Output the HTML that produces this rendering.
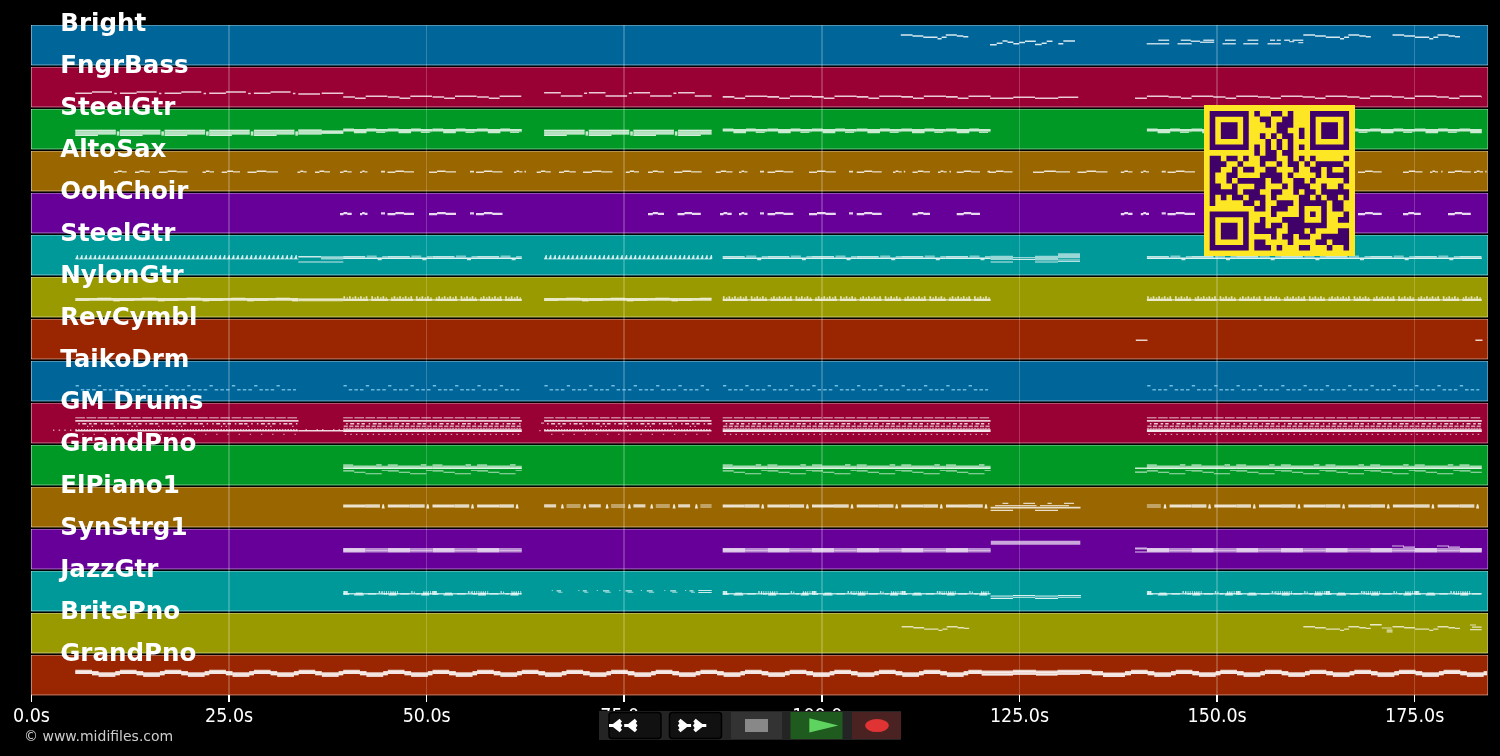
<!DOCTYPE html>
<html lang="en"><head><meta charset="utf-8"><title>MIDI track view</title>
<style>
html,body{margin:0;padding:0;background:#000;}
body{width:1500px;height:756px;overflow:hidden;position:relative;}
svg{position:absolute;left:0;top:0;display:block;}
text{font-family:'DejaVu Sans','Liberation Sans',sans-serif;}
.lbl{font-weight:bold;font-size:25.4px;fill:#fff;}
.tick{font-size:18.6px;fill:#fff;text-anchor:middle;}
.copy{font-size:14px;fill:#ccc;}
</style></head><body>
<svg width="1500" height="756" viewBox="0 0 1500 756">
<rect width="1500" height="756" fill="#000"/>
<g shape-rendering="crispEdges">
<rect x="31" y="25" width="1457" height="40" fill="#006699"/>
<rect x="31" y="65" width="1457" height="1" fill="rgb(38,68,83)"/>
<rect x="31" y="25" width="1457" height="1" fill="#fff" fill-opacity="0.3"/>
<rect x="31" y="64" width="1457" height="1" fill="#fff" fill-opacity="0.24"/>
<rect x="31" y="25" width="1" height="40" fill="#fff" fill-opacity="0.42"/>
<rect x="1487" y="25" width="1" height="40" fill="#fff" fill-opacity="0.3"/>
<rect x="31" y="67" width="1457" height="40" fill="#990033"/>
<rect x="31" y="107" width="1457" height="1" fill="rgb(83,38,53)"/>
<rect x="31" y="67" width="1457" height="1" fill="#fff" fill-opacity="0.3"/>
<rect x="31" y="106" width="1457" height="1" fill="#fff" fill-opacity="0.24"/>
<rect x="31" y="67" width="1" height="40" fill="#fff" fill-opacity="0.42"/>
<rect x="1487" y="67" width="1" height="40" fill="#fff" fill-opacity="0.3"/>
<rect x="31" y="109" width="1457" height="40" fill="#009926"/>
<rect x="31" y="149" width="1457" height="1" fill="rgb(38,83,49)"/>
<rect x="31" y="109" width="1457" height="1" fill="#fff" fill-opacity="0.3"/>
<rect x="31" y="148" width="1457" height="1" fill="#fff" fill-opacity="0.24"/>
<rect x="31" y="109" width="1" height="40" fill="#fff" fill-opacity="0.42"/>
<rect x="1487" y="109" width="1" height="40" fill="#fff" fill-opacity="0.3"/>
<rect x="31" y="151" width="1457" height="40" fill="#996600"/>
<rect x="31" y="191" width="1457" height="1" fill="rgb(83,68,38)"/>
<rect x="31" y="151" width="1457" height="1" fill="#fff" fill-opacity="0.3"/>
<rect x="31" y="190" width="1457" height="1" fill="#fff" fill-opacity="0.24"/>
<rect x="31" y="151" width="1" height="40" fill="#fff" fill-opacity="0.42"/>
<rect x="1487" y="151" width="1" height="40" fill="#fff" fill-opacity="0.3"/>
<rect x="31" y="193" width="1457" height="40" fill="#660099"/>
<rect x="31" y="233" width="1457" height="1" fill="rgb(68,38,83)"/>
<rect x="31" y="193" width="1457" height="1" fill="#fff" fill-opacity="0.3"/>
<rect x="31" y="232" width="1457" height="1" fill="#fff" fill-opacity="0.24"/>
<rect x="31" y="193" width="1" height="40" fill="#fff" fill-opacity="0.42"/>
<rect x="1487" y="193" width="1" height="40" fill="#fff" fill-opacity="0.3"/>
<rect x="31" y="235" width="1457" height="40" fill="#009999"/>
<rect x="31" y="275" width="1457" height="1" fill="rgb(38,83,83)"/>
<rect x="31" y="235" width="1457" height="1" fill="#fff" fill-opacity="0.3"/>
<rect x="31" y="274" width="1457" height="1" fill="#fff" fill-opacity="0.24"/>
<rect x="31" y="235" width="1" height="40" fill="#fff" fill-opacity="0.42"/>
<rect x="1487" y="235" width="1" height="40" fill="#fff" fill-opacity="0.3"/>
<rect x="31" y="277" width="1457" height="40" fill="#999900"/>
<rect x="31" y="317" width="1457" height="1" fill="rgb(83,83,38)"/>
<rect x="31" y="277" width="1457" height="1" fill="#fff" fill-opacity="0.3"/>
<rect x="31" y="316" width="1457" height="1" fill="#fff" fill-opacity="0.24"/>
<rect x="31" y="277" width="1" height="40" fill="#fff" fill-opacity="0.42"/>
<rect x="1487" y="277" width="1" height="40" fill="#fff" fill-opacity="0.3"/>
<rect x="31" y="319" width="1457" height="40" fill="#992600"/>
<rect x="31" y="359" width="1457" height="1" fill="rgb(83,49,38)"/>
<rect x="31" y="319" width="1457" height="1" fill="#fff" fill-opacity="0.3"/>
<rect x="31" y="358" width="1457" height="1" fill="#fff" fill-opacity="0.24"/>
<rect x="31" y="319" width="1" height="40" fill="#fff" fill-opacity="0.42"/>
<rect x="1487" y="319" width="1" height="40" fill="#fff" fill-opacity="0.3"/>
<rect x="31" y="361" width="1457" height="40" fill="#006699"/>
<rect x="31" y="401" width="1457" height="1" fill="rgb(38,68,83)"/>
<rect x="31" y="361" width="1457" height="1" fill="#fff" fill-opacity="0.3"/>
<rect x="31" y="400" width="1457" height="1" fill="#fff" fill-opacity="0.24"/>
<rect x="31" y="361" width="1" height="40" fill="#fff" fill-opacity="0.42"/>
<rect x="1487" y="361" width="1" height="40" fill="#fff" fill-opacity="0.3"/>
<rect x="31" y="403" width="1457" height="40" fill="#990033"/>
<rect x="31" y="443" width="1457" height="1" fill="rgb(83,38,53)"/>
<rect x="31" y="403" width="1457" height="1" fill="#fff" fill-opacity="0.3"/>
<rect x="31" y="442" width="1457" height="1" fill="#fff" fill-opacity="0.24"/>
<rect x="31" y="403" width="1" height="40" fill="#fff" fill-opacity="0.42"/>
<rect x="1487" y="403" width="1" height="40" fill="#fff" fill-opacity="0.3"/>
<rect x="31" y="445" width="1457" height="40" fill="#009926"/>
<rect x="31" y="485" width="1457" height="1" fill="rgb(38,83,49)"/>
<rect x="31" y="445" width="1457" height="1" fill="#fff" fill-opacity="0.3"/>
<rect x="31" y="484" width="1457" height="1" fill="#fff" fill-opacity="0.24"/>
<rect x="31" y="445" width="1" height="40" fill="#fff" fill-opacity="0.42"/>
<rect x="1487" y="445" width="1" height="40" fill="#fff" fill-opacity="0.3"/>
<rect x="31" y="487" width="1457" height="40" fill="#996600"/>
<rect x="31" y="527" width="1457" height="1" fill="rgb(83,68,38)"/>
<rect x="31" y="487" width="1457" height="1" fill="#fff" fill-opacity="0.3"/>
<rect x="31" y="526" width="1457" height="1" fill="#fff" fill-opacity="0.24"/>
<rect x="31" y="487" width="1" height="40" fill="#fff" fill-opacity="0.42"/>
<rect x="1487" y="487" width="1" height="40" fill="#fff" fill-opacity="0.3"/>
<rect x="31" y="529" width="1457" height="40" fill="#660099"/>
<rect x="31" y="569" width="1457" height="1" fill="rgb(68,38,83)"/>
<rect x="31" y="529" width="1457" height="1" fill="#fff" fill-opacity="0.3"/>
<rect x="31" y="568" width="1457" height="1" fill="#fff" fill-opacity="0.24"/>
<rect x="31" y="529" width="1" height="40" fill="#fff" fill-opacity="0.42"/>
<rect x="1487" y="529" width="1" height="40" fill="#fff" fill-opacity="0.3"/>
<rect x="31" y="571" width="1457" height="40" fill="#009999"/>
<rect x="31" y="611" width="1457" height="1" fill="rgb(38,83,83)"/>
<rect x="31" y="571" width="1457" height="1" fill="#fff" fill-opacity="0.3"/>
<rect x="31" y="610" width="1457" height="1" fill="#fff" fill-opacity="0.24"/>
<rect x="31" y="571" width="1" height="40" fill="#fff" fill-opacity="0.42"/>
<rect x="1487" y="571" width="1" height="40" fill="#fff" fill-opacity="0.3"/>
<rect x="31" y="613" width="1457" height="40" fill="#999900"/>
<rect x="31" y="653" width="1457" height="1" fill="rgb(83,83,38)"/>
<rect x="31" y="613" width="1457" height="1" fill="#fff" fill-opacity="0.3"/>
<rect x="31" y="652" width="1457" height="1" fill="#fff" fill-opacity="0.24"/>
<rect x="31" y="613" width="1" height="40" fill="#fff" fill-opacity="0.42"/>
<rect x="1487" y="613" width="1" height="40" fill="#fff" fill-opacity="0.3"/>
<rect x="31" y="655" width="1457" height="40" fill="#992600"/>
<rect x="31" y="695" width="1457" height="1" fill="rgb(83,49,38)"/>
<rect x="31" y="655" width="1457" height="1" fill="#fff" fill-opacity="0.3"/>
<rect x="31" y="694" width="1457" height="1" fill="#fff" fill-opacity="0.24"/>
<rect x="31" y="655" width="1" height="40" fill="#fff" fill-opacity="0.42"/>
<rect x="1487" y="655" width="1" height="40" fill="#fff" fill-opacity="0.3"/>
</g>
<g shape-rendering="crispEdges" fill="#fff" fill-opacity="0.2">
<rect x="228.1" y="25" width="1.6" height="670"/>
<rect x="425.7" y="25" width="1.6" height="670"/>
<rect x="623.3" y="25" width="1.6" height="670"/>
<rect x="820.9" y="25" width="1.6" height="670"/>
<rect x="1018.5" y="25" width="1.6" height="670"/>
<rect x="1216.1" y="25" width="1.6" height="670"/>
<rect x="1413.7" y="25" width="1.6" height="670"/>
</g>
<g fill="#fff">
<path fill-opacity="0.30" d="M343.2 549.6h22.3v0.8h-22.3zM387.8 549.6h22.3v0.8h-22.3zM432.5 549.6h22.3v0.8h-22.3zM477.1 549.6h22.3v0.8h-22.3zM722.7 549.6h22.3v0.8h-22.3zM767.4 549.6h22.3v0.8h-22.3zM812.0 549.6h22.3v0.8h-22.3zM856.7 549.6h22.3v0.8h-22.3zM901.3 549.6h22.3v0.8h-22.3zM946.0 549.6h22.3v0.8h-22.3zM1146.9 549.6h22.3v0.8h-22.3zM1191.5 549.6h22.3v0.8h-22.3zM1236.2 549.6h22.3v0.8h-22.3zM1280.9 549.6h22.3v0.8h-22.3zM1325.5 549.6h22.3v0.8h-22.3zM1370.2 549.6h22.3v0.8h-22.3zM1414.8 549.6h22.3v0.8h-22.3zM1459.5 549.6h22.3v0.8h-22.3z"/>
<path fill-opacity="0.35" d="M75.3 132.4h22.6v1.0h-22.6zM97.9 131.7h17.9v1.0h-17.9zM116.8 133.1h2.5v1.0h-2.5zM119.9 132.4h22.6v1.0h-22.6zM142.5 131.7h17.9v1.0h-17.9zM161.4 133.1h2.5v1.0h-2.5zM164.6 132.4h22.6v1.0h-22.6zM187.2 131.7h17.9v1.0h-17.9zM206.1 133.1h2.5v1.0h-2.5zM209.2 132.4h22.6v1.0h-22.6zM231.8 131.7h17.9v1.0h-17.9zM250.8 133.1h2.5v1.0h-2.5zM253.9 132.4h22.6v1.0h-22.6zM276.5 131.7h17.9v1.0h-17.9zM295.4 133.1h2.5v1.0h-2.5zM544.1 132.4h22.6v1.0h-22.6zM566.7 131.7h17.9v1.0h-17.9zM585.6 133.1h2.5v1.0h-2.5zM588.8 132.4h22.6v1.0h-22.6zM611.4 131.7h17.9v1.0h-17.9zM630.3 133.1h2.5v1.0h-2.5zM633.4 132.4h22.6v1.0h-22.6zM656.0 131.7h17.9v1.0h-17.9zM674.9 133.1h2.5v1.0h-2.5zM678.1 132.4h22.6v1.0h-22.6zM700.7 131.7h10.9v1.0h-10.9zM298.3 131.6h23.4v1.0h-23.4zM321.7 131.7h21.6v1.0h-21.6z"/>
<path fill-opacity="0.40" d="M385.2 131.4h2.6v0.8h-2.6zM429.8 131.4h2.6v0.8h-2.6zM474.5 131.4h2.6v0.8h-2.6zM519.1 131.4h2.7v0.8h-2.7zM764.7 131.4h2.6v0.8h-2.6zM809.4 131.4h2.6v0.8h-2.6zM854.0 131.4h2.6v0.8h-2.6zM898.7 131.4h2.6v0.8h-2.6zM943.3 131.4h2.6v0.8h-2.6zM988.0 131.4h2.6v0.8h-2.6zM1188.9 131.4h2.7v0.8h-2.7zM1233.5 131.4h2.7v0.8h-2.7zM1278.2 131.4h2.7v0.8h-2.7zM1322.9 131.4h2.7v0.8h-2.7zM1367.5 131.4h2.7v0.8h-2.7zM1412.2 131.4h2.7v0.8h-2.7zM1456.8 131.4h2.7v0.8h-2.7zM298.8 298.6h44.5v0.8h-44.5zM365.5 550.0h22.3v1.0h-22.3zM410.1 550.0h22.3v1.0h-22.3zM454.8 550.0h22.3v1.0h-22.3zM499.4 550.0h22.4v1.0h-22.4zM745.0 550.0h22.4v1.0h-22.4zM789.7 550.0h22.4v1.0h-22.4zM834.3 550.0h22.4v1.0h-22.4zM879.0 550.0h22.4v1.0h-22.4zM923.6 550.0h22.4v1.0h-22.4zM968.3 550.0h22.4v1.0h-22.4zM1169.2 550.0h22.4v1.0h-22.4zM1213.8 550.0h22.4v1.0h-22.4zM1258.5 550.0h22.4v1.0h-22.4zM1303.2 550.0h22.4v1.0h-22.4zM1347.8 550.0h22.4v1.0h-22.4zM1392.5 550.0h22.4v1.0h-22.4zM1437.1 550.0h22.4v1.0h-22.4z"/>
<path fill-opacity="0.45" d="M97.3 297.5h14.0v0.9h-14.0zM141.9 297.5h14.0v0.9h-14.0zM186.6 297.5h14.0v0.9h-14.0zM231.2 297.5h14.0v0.9h-14.0zM275.9 297.5h14.0v0.9h-14.0zM566.1 297.5h14.0v0.9h-14.0zM610.8 297.5h14.0v0.9h-14.0zM655.4 297.5h14.0v0.9h-14.0zM700.1 297.5h11.5v0.9h-11.5z"/>
<path fill-opacity="0.50" d="M75.3 129.8h22.6v1.2h-22.6zM75.3 134.7h22.6v1.2h-22.6zM97.9 129.8h17.9v1.2h-17.9zM97.9 133.4h17.9v1.2h-17.9zM116.8 131.5h2.5v1.2h-2.5zM116.8 134.4h2.5v1.2h-2.5zM119.9 129.8h22.6v1.2h-22.6zM119.9 134.7h22.6v1.2h-22.6zM142.5 129.8h17.9v1.2h-17.9zM142.5 133.4h17.9v1.2h-17.9zM161.4 131.5h2.5v1.2h-2.5zM161.4 134.4h2.5v1.2h-2.5zM164.6 129.8h22.6v1.2h-22.6zM164.6 134.7h22.6v1.2h-22.6zM187.2 129.8h17.9v1.2h-17.9zM187.2 133.4h17.9v1.2h-17.9zM206.1 131.5h2.5v1.2h-2.5zM206.1 134.4h2.5v1.2h-2.5zM209.2 129.8h22.6v1.2h-22.6zM209.2 134.7h22.6v1.2h-22.6zM231.8 129.8h17.9v1.2h-17.9zM231.8 133.4h17.9v1.2h-17.9zM250.8 131.5h2.5v1.2h-2.5zM250.8 134.4h2.5v1.2h-2.5zM253.9 129.8h22.6v1.2h-22.6zM253.9 134.7h22.6v1.2h-22.6zM276.5 129.8h17.9v1.2h-17.9zM276.5 133.4h17.9v1.2h-17.9zM295.4 131.5h2.5v1.2h-2.5zM295.4 134.4h2.5v1.2h-2.5zM544.1 129.8h22.6v1.2h-22.6zM544.1 134.7h22.6v1.2h-22.6zM566.7 129.8h17.9v1.2h-17.9zM566.7 133.4h17.9v1.2h-17.9zM585.6 131.5h2.5v1.2h-2.5zM585.6 134.4h2.5v1.2h-2.5zM588.8 129.8h22.6v1.2h-22.6zM588.8 134.7h22.6v1.2h-22.6zM611.4 129.8h17.9v1.2h-17.9zM611.4 133.4h17.9v1.2h-17.9zM630.3 131.5h2.5v1.2h-2.5zM630.3 134.4h2.5v1.2h-2.5zM633.4 129.8h22.6v1.2h-22.6zM633.4 134.7h22.6v1.2h-22.6zM656.0 129.8h17.9v1.2h-17.9zM656.0 133.4h17.9v1.2h-17.9zM674.9 131.5h2.5v1.2h-2.5zM674.9 134.4h2.5v1.2h-2.5zM678.1 129.8h22.6v1.2h-22.6zM678.1 134.7h22.6v1.2h-22.6zM700.7 129.8h10.9v1.2h-10.9zM700.7 133.4h10.9v1.2h-10.9zM298.3 129.6h23.4v1.2h-23.4zM298.3 133.4h23.4v1.2h-23.4zM321.7 130.6h21.6v1.2h-21.6zM321.7 132.6h21.6v1.2h-21.6zM343.2 128.3h10.7v0.7h-10.7zM387.8 128.3h10.7v0.7h-10.7zM432.5 128.3h10.7v0.7h-10.7zM477.1 128.3h10.7v0.7h-10.7zM722.7 128.3h10.7v0.7h-10.7zM767.4 128.3h10.7v0.7h-10.7zM812.0 128.3h10.7v0.7h-10.7zM856.7 128.3h10.7v0.7h-10.7zM901.3 128.3h10.7v0.7h-10.7zM946.0 128.3h10.7v0.7h-10.7zM1146.9 128.3h10.7v0.7h-10.7zM1191.5 128.3h10.7v0.7h-10.7zM1236.2 128.3h10.7v0.7h-10.7zM1280.9 128.3h10.7v0.7h-10.7zM1325.5 128.3h10.7v0.7h-10.7zM1370.2 128.3h10.7v0.7h-10.7zM1414.8 128.3h10.7v0.7h-10.7zM1459.5 128.3h10.7v0.7h-10.7zM366.7 255.4h10.0v2.0h-10.0zM411.3 255.4h10.0v2.0h-10.0zM456.0 255.4h10.0v2.0h-10.0zM500.6 255.4h10.0v2.0h-10.0zM746.2 255.4h10.0v2.0h-10.0zM790.9 255.4h10.0v2.0h-10.0zM835.5 255.4h10.0v2.0h-10.0zM880.2 255.4h10.0v2.0h-10.0zM924.8 255.4h10.0v2.0h-10.0zM969.5 255.4h10.0v2.0h-10.0zM1170.4 255.4h10.0v2.0h-10.0zM1215.0 255.4h10.0v2.0h-10.0zM1259.7 255.4h10.0v2.0h-10.0zM1304.4 255.4h10.0v2.0h-10.0zM1349.0 255.4h10.0v2.0h-10.0zM1393.7 255.4h10.0v2.0h-10.0zM1438.3 255.4h10.0v2.0h-10.0zM75.3 300.0h14.0v1.1h-14.0zM119.9 300.0h14.0v1.1h-14.0zM164.6 300.0h14.0v1.1h-14.0zM209.2 300.0h14.0v1.1h-14.0zM253.9 300.0h14.0v1.1h-14.0zM544.1 300.0h14.0v1.1h-14.0zM588.8 300.0h14.0v1.1h-14.0zM633.4 300.0h14.0v1.1h-14.0zM678.1 300.0h14.0v1.1h-14.0zM75.3 417.0h9.6v1.4h-9.6zM86.5 417.0h9.6v1.4h-9.6zM97.6 417.0h9.6v1.4h-9.6zM108.8 417.0h9.6v1.4h-9.6zM119.9 417.0h9.6v1.4h-9.6zM131.1 417.0h9.6v1.4h-9.6zM142.3 417.0h9.6v1.4h-9.6zM153.4 417.0h9.6v1.4h-9.6zM164.6 417.0h9.6v1.4h-9.6zM175.8 417.0h9.6v1.4h-9.6zM186.9 417.0h9.6v1.4h-9.6zM198.1 417.0h9.6v1.4h-9.6zM209.2 417.0h9.6v1.4h-9.6zM220.4 417.0h9.6v1.4h-9.6zM231.6 417.0h9.6v1.4h-9.6zM242.7 417.0h9.6v1.4h-9.6zM253.9 417.0h9.6v1.4h-9.6zM265.1 417.0h9.6v1.4h-9.6zM276.2 417.0h9.6v1.4h-9.6zM287.4 417.0h9.6v1.4h-9.6zM343.2 417.0h9.6v1.4h-9.6zM354.4 417.0h9.6v1.4h-9.6zM365.5 417.0h9.6v1.4h-9.6zM376.7 417.0h9.6v1.4h-9.6zM387.9 417.0h9.6v1.4h-9.6zM399.0 417.0h9.6v1.4h-9.6zM410.2 417.0h9.6v1.4h-9.6zM421.3 417.0h9.6v1.4h-9.6zM432.5 417.0h9.6v1.4h-9.6zM443.7 417.0h9.6v1.4h-9.6zM454.8 417.0h9.6v1.4h-9.6zM466.0 417.0h9.6v1.4h-9.6zM477.2 417.0h9.6v1.4h-9.6zM488.3 417.0h9.6v1.4h-9.6zM499.5 417.0h9.6v1.4h-9.6zM510.6 417.0h9.6v1.4h-9.6zM343.2 427.8h2.2v1.2h-2.2zM346.0 427.8h2.2v1.2h-2.2zM348.8 427.8h2.2v1.2h-2.2zM351.6 427.8h2.2v1.2h-2.2zM354.4 427.8h2.2v1.2h-2.2zM357.2 427.8h2.2v1.2h-2.2zM359.9 427.8h2.2v1.2h-2.2zM362.7 427.8h2.2v1.2h-2.2zM365.5 427.8h2.2v1.2h-2.2zM368.3 427.8h2.2v1.2h-2.2zM371.1 427.8h2.2v1.2h-2.2zM373.9 427.8h2.2v1.2h-2.2zM376.7 427.8h2.2v1.2h-2.2zM379.5 427.8h2.2v1.2h-2.2zM382.3 427.8h2.2v1.2h-2.2zM385.1 427.8h2.2v1.2h-2.2zM387.8 427.8h2.2v1.2h-2.2zM390.6 427.8h2.2v1.2h-2.2zM393.4 427.8h2.2v1.2h-2.2zM396.2 427.8h2.2v1.2h-2.2zM399.0 427.8h2.2v1.2h-2.2zM401.8 427.8h2.2v1.2h-2.2zM404.6 427.8h2.2v1.2h-2.2zM407.4 427.8h2.2v1.2h-2.2zM410.2 427.8h2.2v1.2h-2.2zM413.0 427.8h2.2v1.2h-2.2zM415.8 427.8h2.2v1.2h-2.2zM418.5 427.8h2.2v1.2h-2.2zM421.3 427.8h2.2v1.2h-2.2zM424.1 427.8h2.2v1.2h-2.2zM426.9 427.8h2.2v1.2h-2.2zM429.7 427.8h2.2v1.2h-2.2zM432.5 427.8h2.2v1.2h-2.2zM435.3 427.8h2.2v1.2h-2.2zM438.1 427.8h2.2v1.2h-2.2zM440.9 427.8h2.2v1.2h-2.2zM443.7 427.8h2.2v1.2h-2.2zM446.5 427.8h2.2v1.2h-2.2zM449.2 427.8h2.2v1.2h-2.2zM452.0 427.8h2.2v1.2h-2.2zM454.8 427.8h2.2v1.2h-2.2zM457.6 427.8h2.2v1.2h-2.2zM460.4 427.8h2.2v1.2h-2.2zM463.2 427.8h2.2v1.2h-2.2zM466.0 427.8h2.2v1.2h-2.2zM468.8 427.8h2.2v1.2h-2.2zM471.6 427.8h2.2v1.2h-2.2zM474.4 427.8h2.2v1.2h-2.2zM477.1 427.8h2.2v1.2h-2.2zM479.9 427.8h2.2v1.2h-2.2zM482.7 427.8h2.2v1.2h-2.2zM485.5 427.8h2.2v1.2h-2.2zM488.3 427.8h2.2v1.2h-2.2zM491.1 427.8h2.2v1.2h-2.2zM493.9 427.8h2.2v1.2h-2.2zM496.7 427.8h2.2v1.2h-2.2zM499.5 427.8h2.2v1.2h-2.2zM502.3 427.8h2.2v1.2h-2.2zM505.1 427.8h2.2v1.2h-2.2zM507.8 427.8h2.2v1.2h-2.2zM510.6 427.8h2.2v1.2h-2.2zM513.4 427.8h2.2v1.2h-2.2zM516.2 427.8h2.2v1.2h-2.2zM519.0 427.8h2.2v1.2h-2.2zM544.1 417.0h9.6v1.4h-9.6zM555.3 417.0h9.6v1.4h-9.6zM566.5 417.0h9.6v1.4h-9.6zM577.6 417.0h9.6v1.4h-9.6zM588.8 417.0h9.6v1.4h-9.6zM599.9 417.0h9.6v1.4h-9.6zM611.1 417.0h9.6v1.4h-9.6zM622.3 417.0h9.6v1.4h-9.6zM633.4 417.0h9.6v1.4h-9.6zM644.6 417.0h9.6v1.4h-9.6zM655.8 417.0h9.6v1.4h-9.6zM666.9 417.0h9.6v1.4h-9.6zM678.1 417.0h9.6v1.4h-9.6zM689.2 417.0h9.6v1.4h-9.6zM700.4 417.0h9.6v1.4h-9.6zM722.7 417.0h9.6v1.4h-9.6zM733.9 417.0h9.6v1.4h-9.6zM745.0 417.0h9.6v1.4h-9.6zM756.2 417.0h9.6v1.4h-9.6zM767.4 417.0h9.6v1.4h-9.6zM778.5 417.0h9.6v1.4h-9.6zM789.7 417.0h9.6v1.4h-9.6zM800.9 417.0h9.6v1.4h-9.6zM812.0 417.0h9.6v1.4h-9.6zM823.2 417.0h9.6v1.4h-9.6zM834.4 417.0h9.6v1.4h-9.6zM845.5 417.0h9.6v1.4h-9.6zM856.7 417.0h9.6v1.4h-9.6zM867.8 417.0h9.6v1.4h-9.6zM879.0 417.0h9.6v1.4h-9.6zM890.2 417.0h9.6v1.4h-9.6zM901.3 417.0h9.6v1.4h-9.6zM912.5 417.0h9.6v1.4h-9.6zM923.7 417.0h9.6v1.4h-9.6zM934.8 417.0h9.6v1.4h-9.6zM946.0 417.0h9.6v1.4h-9.6zM957.1 417.0h9.6v1.4h-9.6zM968.3 417.0h9.6v1.4h-9.6zM979.5 417.0h9.6v1.4h-9.6zM722.7 427.8h2.2v1.2h-2.2zM725.5 427.8h2.2v1.2h-2.2zM728.3 427.8h2.2v1.2h-2.2zM731.1 427.8h2.2v1.2h-2.2zM733.9 427.8h2.2v1.2h-2.2zM736.7 427.8h2.2v1.2h-2.2zM739.5 427.8h2.2v1.2h-2.2zM742.3 427.8h2.2v1.2h-2.2zM745.0 427.8h2.2v1.2h-2.2zM747.8 427.8h2.2v1.2h-2.2zM750.6 427.8h2.2v1.2h-2.2zM753.4 427.8h2.2v1.2h-2.2zM756.2 427.8h2.2v1.2h-2.2zM759.0 427.8h2.2v1.2h-2.2zM761.8 427.8h2.2v1.2h-2.2zM764.6 427.8h2.2v1.2h-2.2zM767.4 427.8h2.2v1.2h-2.2zM770.2 427.8h2.2v1.2h-2.2zM773.0 427.8h2.2v1.2h-2.2zM775.7 427.8h2.2v1.2h-2.2zM778.5 427.8h2.2v1.2h-2.2zM781.3 427.8h2.2v1.2h-2.2zM784.1 427.8h2.2v1.2h-2.2zM786.9 427.8h2.2v1.2h-2.2zM789.7 427.8h2.2v1.2h-2.2zM792.5 427.8h2.2v1.2h-2.2zM795.3 427.8h2.2v1.2h-2.2zM798.1 427.8h2.2v1.2h-2.2zM800.9 427.8h2.2v1.2h-2.2zM803.7 427.8h2.2v1.2h-2.2zM806.4 427.8h2.2v1.2h-2.2zM809.2 427.8h2.2v1.2h-2.2zM812.0 427.8h2.2v1.2h-2.2zM814.8 427.8h2.2v1.2h-2.2zM817.6 427.8h2.2v1.2h-2.2zM820.4 427.8h2.2v1.2h-2.2zM823.2 427.8h2.2v1.2h-2.2zM826.0 427.8h2.2v1.2h-2.2zM828.8 427.8h2.2v1.2h-2.2zM831.6 427.8h2.2v1.2h-2.2zM834.3 427.8h2.2v1.2h-2.2zM837.1 427.8h2.2v1.2h-2.2zM839.9 427.8h2.2v1.2h-2.2zM842.7 427.8h2.2v1.2h-2.2zM845.5 427.8h2.2v1.2h-2.2zM848.3 427.8h2.2v1.2h-2.2zM851.1 427.8h2.2v1.2h-2.2zM853.9 427.8h2.2v1.2h-2.2zM856.7 427.8h2.2v1.2h-2.2zM859.5 427.8h2.2v1.2h-2.2zM862.3 427.8h2.2v1.2h-2.2zM865.0 427.8h2.2v1.2h-2.2zM867.8 427.8h2.2v1.2h-2.2zM870.6 427.8h2.2v1.2h-2.2zM873.4 427.8h2.2v1.2h-2.2zM876.2 427.8h2.2v1.2h-2.2zM879.0 427.8h2.2v1.2h-2.2zM881.8 427.8h2.2v1.2h-2.2zM884.6 427.8h2.2v1.2h-2.2zM887.4 427.8h2.2v1.2h-2.2zM890.2 427.8h2.2v1.2h-2.2zM893.0 427.8h2.2v1.2h-2.2zM895.7 427.8h2.2v1.2h-2.2zM898.5 427.8h2.2v1.2h-2.2zM901.3 427.8h2.2v1.2h-2.2zM904.1 427.8h2.2v1.2h-2.2zM906.9 427.8h2.2v1.2h-2.2zM909.7 427.8h2.2v1.2h-2.2zM912.5 427.8h2.2v1.2h-2.2zM915.3 427.8h2.2v1.2h-2.2zM918.1 427.8h2.2v1.2h-2.2zM920.9 427.8h2.2v1.2h-2.2zM923.6 427.8h2.2v1.2h-2.2zM926.4 427.8h2.2v1.2h-2.2zM929.2 427.8h2.2v1.2h-2.2zM932.0 427.8h2.2v1.2h-2.2zM934.8 427.8h2.2v1.2h-2.2zM937.6 427.8h2.2v1.2h-2.2zM940.4 427.8h2.2v1.2h-2.2zM943.2 427.8h2.2v1.2h-2.2zM946.0 427.8h2.2v1.2h-2.2zM948.8 427.8h2.2v1.2h-2.2zM951.6 427.8h2.2v1.2h-2.2zM954.3 427.8h2.2v1.2h-2.2zM957.1 427.8h2.2v1.2h-2.2zM959.9 427.8h2.2v1.2h-2.2zM962.7 427.8h2.2v1.2h-2.2zM965.5 427.8h2.2v1.2h-2.2zM968.3 427.8h2.2v1.2h-2.2zM971.1 427.8h2.2v1.2h-2.2zM973.9 427.8h2.2v1.2h-2.2zM976.7 427.8h2.2v1.2h-2.2zM979.5 427.8h2.2v1.2h-2.2zM982.3 427.8h2.2v1.2h-2.2zM985.0 427.8h2.2v1.2h-2.2zM987.8 427.8h2.2v1.2h-2.2zM1146.9 417.0h9.6v1.4h-9.6zM1158.1 417.0h9.6v1.4h-9.6zM1169.2 417.0h9.6v1.4h-9.6zM1180.4 417.0h9.6v1.4h-9.6zM1191.5 417.0h9.6v1.4h-9.6zM1202.7 417.0h9.6v1.4h-9.6zM1213.9 417.0h9.6v1.4h-9.6zM1225.0 417.0h9.6v1.4h-9.6zM1236.2 417.0h9.6v1.4h-9.6zM1247.4 417.0h9.6v1.4h-9.6zM1258.5 417.0h9.6v1.4h-9.6zM1269.7 417.0h9.6v1.4h-9.6zM1280.8 417.0h9.6v1.4h-9.6zM1292.0 417.0h9.6v1.4h-9.6zM1303.2 417.0h9.6v1.4h-9.6zM1314.3 417.0h9.6v1.4h-9.6zM1325.5 417.0h9.6v1.4h-9.6zM1336.7 417.0h9.6v1.4h-9.6zM1347.8 417.0h9.6v1.4h-9.6zM1359.0 417.0h9.6v1.4h-9.6zM1370.1 417.0h9.6v1.4h-9.6zM1381.3 417.0h9.6v1.4h-9.6zM1392.5 417.0h9.6v1.4h-9.6zM1403.6 417.0h9.6v1.4h-9.6zM1414.8 417.0h9.6v1.4h-9.6zM1426.0 417.0h9.6v1.4h-9.6zM1437.1 417.0h9.6v1.4h-9.6zM1448.3 417.0h9.6v1.4h-9.6zM1459.4 417.0h9.6v1.4h-9.6zM1470.6 417.0h9.6v1.4h-9.6zM1146.9 427.8h2.2v1.2h-2.2zM1149.7 427.8h2.2v1.2h-2.2zM1152.5 427.8h2.2v1.2h-2.2zM1155.3 427.8h2.2v1.2h-2.2zM1158.1 427.8h2.2v1.2h-2.2zM1160.9 427.8h2.2v1.2h-2.2zM1163.6 427.8h2.2v1.2h-2.2zM1166.4 427.8h2.2v1.2h-2.2zM1169.2 427.8h2.2v1.2h-2.2zM1172.0 427.8h2.2v1.2h-2.2zM1174.8 427.8h2.2v1.2h-2.2zM1177.6 427.8h2.2v1.2h-2.2zM1180.4 427.8h2.2v1.2h-2.2zM1183.2 427.8h2.2v1.2h-2.2zM1186.0 427.8h2.2v1.2h-2.2zM1188.8 427.8h2.2v1.2h-2.2zM1191.6 427.8h2.2v1.2h-2.2zM1194.3 427.8h2.2v1.2h-2.2zM1197.1 427.8h2.2v1.2h-2.2zM1199.9 427.8h2.2v1.2h-2.2zM1202.7 427.8h2.2v1.2h-2.2zM1205.5 427.8h2.2v1.2h-2.2zM1208.3 427.8h2.2v1.2h-2.2zM1211.1 427.8h2.2v1.2h-2.2zM1213.9 427.8h2.2v1.2h-2.2zM1216.7 427.8h2.2v1.2h-2.2zM1219.5 427.8h2.2v1.2h-2.2zM1222.2 427.8h2.2v1.2h-2.2zM1225.0 427.8h2.2v1.2h-2.2zM1227.8 427.8h2.2v1.2h-2.2zM1230.6 427.8h2.2v1.2h-2.2zM1233.4 427.8h2.2v1.2h-2.2zM1236.2 427.8h2.2v1.2h-2.2zM1239.0 427.8h2.2v1.2h-2.2zM1241.8 427.8h2.2v1.2h-2.2zM1244.6 427.8h2.2v1.2h-2.2zM1247.4 427.8h2.2v1.2h-2.2zM1250.2 427.8h2.2v1.2h-2.2zM1252.9 427.8h2.2v1.2h-2.2zM1255.7 427.8h2.2v1.2h-2.2zM1258.5 427.8h2.2v1.2h-2.2zM1261.3 427.8h2.2v1.2h-2.2zM1264.1 427.8h2.2v1.2h-2.2zM1266.9 427.8h2.2v1.2h-2.2zM1269.7 427.8h2.2v1.2h-2.2zM1272.5 427.8h2.2v1.2h-2.2zM1275.3 427.8h2.2v1.2h-2.2zM1278.1 427.8h2.2v1.2h-2.2zM1280.9 427.8h2.2v1.2h-2.2zM1283.6 427.8h2.2v1.2h-2.2zM1286.4 427.8h2.2v1.2h-2.2zM1289.2 427.8h2.2v1.2h-2.2zM1292.0 427.8h2.2v1.2h-2.2zM1294.8 427.8h2.2v1.2h-2.2zM1297.6 427.8h2.2v1.2h-2.2zM1300.4 427.8h2.2v1.2h-2.2zM1303.2 427.8h2.2v1.2h-2.2zM1306.0 427.8h2.2v1.2h-2.2zM1308.8 427.8h2.2v1.2h-2.2zM1311.5 427.8h2.2v1.2h-2.2zM1314.3 427.8h2.2v1.2h-2.2zM1317.1 427.8h2.2v1.2h-2.2zM1319.9 427.8h2.2v1.2h-2.2zM1322.7 427.8h2.2v1.2h-2.2zM1325.5 427.8h2.2v1.2h-2.2zM1328.3 427.8h2.2v1.2h-2.2zM1331.1 427.8h2.2v1.2h-2.2zM1333.9 427.8h2.2v1.2h-2.2zM1336.7 427.8h2.2v1.2h-2.2zM1339.5 427.8h2.2v1.2h-2.2zM1342.2 427.8h2.2v1.2h-2.2zM1345.0 427.8h2.2v1.2h-2.2zM1347.8 427.8h2.2v1.2h-2.2zM1350.6 427.8h2.2v1.2h-2.2zM1353.4 427.8h2.2v1.2h-2.2zM1356.2 427.8h2.2v1.2h-2.2zM1359.0 427.8h2.2v1.2h-2.2zM1361.8 427.8h2.2v1.2h-2.2zM1364.6 427.8h2.2v1.2h-2.2zM1367.4 427.8h2.2v1.2h-2.2zM1370.2 427.8h2.2v1.2h-2.2zM1372.9 427.8h2.2v1.2h-2.2zM1375.7 427.8h2.2v1.2h-2.2zM1378.5 427.8h2.2v1.2h-2.2zM1381.3 427.8h2.2v1.2h-2.2zM1384.1 427.8h2.2v1.2h-2.2zM1386.9 427.8h2.2v1.2h-2.2zM1389.7 427.8h2.2v1.2h-2.2zM1392.5 427.8h2.2v1.2h-2.2zM1395.3 427.8h2.2v1.2h-2.2zM1398.1 427.8h2.2v1.2h-2.2zM1400.8 427.8h2.2v1.2h-2.2zM1403.6 427.8h2.2v1.2h-2.2zM1406.4 427.8h2.2v1.2h-2.2zM1409.2 427.8h2.2v1.2h-2.2zM1412.0 427.8h2.2v1.2h-2.2zM1414.8 427.8h2.2v1.2h-2.2zM1417.6 427.8h2.2v1.2h-2.2zM1420.4 427.8h2.2v1.2h-2.2zM1423.2 427.8h2.2v1.2h-2.2zM1426.0 427.8h2.2v1.2h-2.2zM1428.8 427.8h2.2v1.2h-2.2zM1431.5 427.8h2.2v1.2h-2.2zM1434.3 427.8h2.2v1.2h-2.2zM1437.1 427.8h2.2v1.2h-2.2zM1439.9 427.8h2.2v1.2h-2.2zM1442.7 427.8h2.2v1.2h-2.2zM1445.5 427.8h2.2v1.2h-2.2zM1448.3 427.8h2.2v1.2h-2.2zM1451.1 427.8h2.2v1.2h-2.2zM1453.9 427.8h2.2v1.2h-2.2zM1456.7 427.8h2.2v1.2h-2.2zM1459.5 427.8h2.2v1.2h-2.2zM1462.2 427.8h2.2v1.2h-2.2zM1465.0 427.8h2.2v1.2h-2.2zM1467.8 427.8h2.2v1.2h-2.2zM1470.6 427.8h2.2v1.2h-2.2zM1473.4 427.8h2.2v1.2h-2.2zM1476.2 427.8h2.2v1.2h-2.2zM1479.0 427.8h2.2v1.2h-2.2zM381.7 470.0h6.1v1.0h-6.1zM426.3 470.0h6.1v1.0h-6.1zM471.0 470.0h6.1v1.0h-6.1zM515.6 470.0h6.2v1.0h-6.2zM761.2 470.0h6.1v1.0h-6.1zM805.9 470.0h6.1v1.0h-6.1zM850.5 470.0h6.1v1.0h-6.1zM895.2 470.0h6.1v1.0h-6.1zM939.8 470.0h6.1v1.0h-6.1zM984.5 470.0h6.1v1.0h-6.1zM1185.4 470.0h6.2v1.0h-6.2zM1230.0 470.0h6.2v1.0h-6.2zM1274.7 470.0h6.2v1.0h-6.2zM1319.4 470.0h6.2v1.0h-6.2zM1364.0 470.0h6.2v1.0h-6.2zM1408.7 470.0h6.2v1.0h-6.2zM1453.3 470.0h6.2v1.0h-6.2zM990.6 595.3h22.4v2.1h-22.4zM1035.0 595.3h23.0v2.1h-23.0z"/>
<path fill-opacity="0.55" d="M366.5 128.3h9.7v0.7h-9.7zM411.1 128.3h9.7v0.7h-9.7zM455.8 128.3h9.7v0.7h-9.7zM500.4 128.3h9.7v0.7h-9.7zM746.0 128.3h9.7v0.7h-9.7zM790.7 128.3h9.7v0.7h-9.7zM835.3 128.3h9.7v0.7h-9.7zM880.0 128.3h9.7v0.7h-9.7zM924.6 128.3h9.7v0.7h-9.7zM969.3 128.3h9.7v0.7h-9.7zM1170.2 128.3h9.7v0.7h-9.7zM1214.8 128.3h9.7v0.7h-9.7zM1259.5 128.3h9.7v0.7h-9.7zM1304.2 128.3h9.7v0.7h-9.7zM1348.8 128.3h9.7v0.7h-9.7zM1393.5 128.3h9.7v0.7h-9.7zM1438.1 128.3h9.7v0.7h-9.7zM75.3 258.5h223.2v1.0h-223.2zM544.1 258.5h167.4v1.0h-167.4zM382.2 256.0h5.6v1.4h-5.6zM426.8 256.0h5.6v1.4h-5.6zM471.5 256.0h5.6v1.4h-5.6zM516.1 256.0h5.7v1.4h-5.7zM761.7 256.0h5.6v1.4h-5.6zM806.4 256.0h5.6v1.4h-5.6zM851.0 256.0h5.6v1.4h-5.6zM895.7 256.0h5.6v1.4h-5.6zM940.3 256.0h5.6v1.4h-5.6zM985.0 256.0h5.6v1.4h-5.6zM1185.9 256.0h5.7v1.4h-5.7zM1230.5 256.0h5.7v1.4h-5.7zM1275.2 256.0h5.7v1.4h-5.7zM1319.9 256.0h5.7v1.4h-5.7zM1364.5 256.0h5.7v1.4h-5.7zM1409.2 256.0h5.7v1.4h-5.7zM1453.8 256.0h5.7v1.4h-5.7zM82.3 433.7h1.4v1.3h-1.4zM93.5 433.7h1.4v1.3h-1.4zM104.6 433.7h1.4v1.3h-1.4zM115.8 433.7h1.4v1.3h-1.4zM126.9 433.7h1.4v1.3h-1.4zM138.1 433.7h1.4v1.3h-1.4zM149.3 433.7h1.4v1.3h-1.4zM160.4 433.7h1.4v1.3h-1.4zM171.6 433.7h1.4v1.3h-1.4zM182.8 433.7h1.4v1.3h-1.4zM193.9 433.7h1.4v1.3h-1.4zM205.1 433.7h1.4v1.3h-1.4zM216.2 433.7h1.4v1.3h-1.4zM227.4 433.7h1.4v1.3h-1.4zM238.6 433.7h1.4v1.3h-1.4zM249.7 433.7h1.4v1.3h-1.4zM260.9 433.7h1.4v1.3h-1.4zM272.1 433.7h1.4v1.3h-1.4zM283.2 433.7h1.4v1.3h-1.4zM294.4 433.7h1.4v1.3h-1.4zM551.1 433.7h1.4v1.3h-1.4zM562.3 433.7h1.4v1.3h-1.4zM573.5 433.7h1.4v1.3h-1.4zM584.6 433.7h1.4v1.3h-1.4zM595.8 433.7h1.4v1.3h-1.4zM606.9 433.7h1.4v1.3h-1.4zM618.1 433.7h1.4v1.3h-1.4zM629.3 433.7h1.4v1.3h-1.4zM640.4 433.7h1.4v1.3h-1.4zM651.6 433.7h1.4v1.3h-1.4zM662.8 433.7h1.4v1.3h-1.4zM673.9 433.7h1.4v1.3h-1.4zM685.1 433.7h1.4v1.3h-1.4zM696.2 433.7h1.4v1.3h-1.4zM707.4 433.7h1.4v1.3h-1.4zM376.2 464.0h5.5v3.2h-5.5zM420.8 464.0h5.5v3.2h-5.5zM465.5 464.0h5.5v3.2h-5.5zM510.1 464.0h5.5v3.2h-5.5zM755.7 464.0h5.5v3.2h-5.5zM800.4 464.0h5.5v3.2h-5.5zM845.0 464.0h5.5v3.2h-5.5zM889.7 464.0h5.5v3.2h-5.5zM934.3 464.0h5.5v3.2h-5.5zM979.0 464.0h5.5v3.2h-5.5zM1179.9 464.0h5.5v3.2h-5.5zM1224.5 464.0h5.5v3.2h-5.5zM1269.2 464.0h5.5v3.2h-5.5zM1313.9 464.0h5.5v3.2h-5.5zM1358.5 464.0h5.5v3.2h-5.5zM1403.2 464.0h5.5v3.2h-5.5zM1447.8 464.0h5.5v3.2h-5.5zM365.5 548.0h22.3v4.6h-22.3zM410.1 548.0h22.3v4.6h-22.3zM454.8 548.0h22.3v4.6h-22.3zM499.4 548.0h22.4v4.6h-22.4zM745.0 548.0h22.4v4.6h-22.4zM789.7 548.0h22.4v4.6h-22.4zM834.3 548.0h22.4v4.6h-22.4zM879.0 548.0h22.4v4.6h-22.4zM923.6 548.0h22.4v4.6h-22.4zM968.3 548.0h22.4v4.6h-22.4zM1169.2 548.0h22.4v4.6h-22.4zM1213.8 548.0h22.4v4.6h-22.4zM1258.5 548.0h22.4v4.6h-22.4zM1303.2 548.0h22.4v4.6h-22.4zM1347.8 548.0h22.4v4.6h-22.4zM1392.5 548.0h22.4v4.6h-22.4zM1437.1 548.0h22.4v4.6h-22.4z"/>
<path fill-opacity="0.60" d="M321.0 256.3h22.3v3.3h-22.3zM990.6 255.8h22.4v4.2h-22.4zM1035.0 255.8h23.0v4.8h-23.0zM1058.0 253.3h22.0v5.0h-22.0zM113.3 300.0h6.6v1.6h-6.6zM157.9 300.0h6.7v1.6h-6.7zM202.6 300.0h6.7v1.6h-6.7zM247.2 300.0h6.7v1.6h-6.7zM291.9 300.0h6.7v1.6h-6.7zM582.1 300.0h6.6v1.6h-6.6zM626.8 300.0h6.6v1.6h-6.6zM671.4 300.0h6.6v1.6h-6.6zM368.3 299.0h2.8v1.8h-2.8zM387.8 299.0h2.8v1.8h-2.8zM413.0 299.0h2.8v1.8h-2.8zM432.5 299.0h2.8v1.8h-2.8zM457.6 299.0h2.8v1.8h-2.8zM477.1 299.0h2.8v1.8h-2.8zM502.2 299.0h2.8v1.8h-2.8zM747.8 299.0h2.8v1.8h-2.8zM767.4 299.0h2.8v1.8h-2.8zM792.5 299.0h2.8v1.8h-2.8zM812.0 299.0h2.8v1.8h-2.8zM837.1 299.0h2.8v1.8h-2.8zM856.6 299.0h2.8v1.8h-2.8zM881.8 299.0h2.8v1.8h-2.8zM901.3 299.0h2.8v1.8h-2.8zM926.4 299.0h2.8v1.8h-2.8zM945.9 299.0h2.8v1.8h-2.8zM971.0 299.0h2.8v1.8h-2.8zM1172.0 299.0h2.8v1.8h-2.8zM1191.5 299.0h2.8v1.8h-2.8zM1216.6 299.0h2.8v1.8h-2.8zM1236.2 299.0h2.8v1.8h-2.8zM1261.3 299.0h2.8v1.8h-2.8zM1280.8 299.0h2.8v1.8h-2.8zM1305.9 299.0h2.8v1.8h-2.8zM1325.5 299.0h2.8v1.8h-2.8zM1350.6 299.0h2.8v1.8h-2.8zM1370.1 299.0h2.8v1.8h-2.8zM1395.2 299.0h2.8v1.8h-2.8zM1414.7 299.0h2.8v1.8h-2.8zM1439.8 299.0h2.8v1.8h-2.8zM1459.4 299.0h2.8v1.8h-2.8zM344.7 433.7h1.5v1.3h-1.5zM350.3 433.7h1.5v1.3h-1.5zM355.9 433.7h1.5v1.3h-1.5zM361.4 433.7h1.5v1.3h-1.5zM367.0 433.7h1.5v1.3h-1.5zM372.6 433.7h1.5v1.3h-1.5zM378.2 433.7h1.5v1.3h-1.5zM383.8 433.7h1.5v1.3h-1.5zM389.4 433.7h1.5v1.3h-1.5zM394.9 433.7h1.5v1.3h-1.5zM400.5 433.7h1.5v1.3h-1.5zM406.1 433.7h1.5v1.3h-1.5zM411.7 433.7h1.5v1.3h-1.5zM417.3 433.7h1.5v1.3h-1.5zM422.8 433.7h1.5v1.3h-1.5zM428.4 433.7h1.5v1.3h-1.5zM434.0 433.7h1.5v1.3h-1.5zM439.6 433.7h1.5v1.3h-1.5zM445.2 433.7h1.5v1.3h-1.5zM450.7 433.7h1.5v1.3h-1.5zM456.3 433.7h1.5v1.3h-1.5zM461.9 433.7h1.5v1.3h-1.5zM467.5 433.7h1.5v1.3h-1.5zM473.1 433.7h1.5v1.3h-1.5zM478.7 433.7h1.5v1.3h-1.5zM484.2 433.7h1.5v1.3h-1.5zM489.8 433.7h1.5v1.3h-1.5zM495.4 433.7h1.5v1.3h-1.5zM501.0 433.7h1.5v1.3h-1.5zM506.6 433.7h1.5v1.3h-1.5zM512.1 433.7h1.5v1.3h-1.5zM517.7 433.7h1.5v1.3h-1.5zM724.2 433.7h1.5v1.3h-1.5zM729.8 433.7h1.5v1.3h-1.5zM735.4 433.7h1.5v1.3h-1.5zM741.0 433.7h1.5v1.3h-1.5zM746.5 433.7h1.5v1.3h-1.5zM752.1 433.7h1.5v1.3h-1.5zM757.7 433.7h1.5v1.3h-1.5zM763.3 433.7h1.5v1.3h-1.5zM768.9 433.7h1.5v1.3h-1.5zM774.5 433.7h1.5v1.3h-1.5zM780.0 433.7h1.5v1.3h-1.5zM785.6 433.7h1.5v1.3h-1.5zM791.2 433.7h1.5v1.3h-1.5zM796.8 433.7h1.5v1.3h-1.5zM802.4 433.7h1.5v1.3h-1.5zM807.9 433.7h1.5v1.3h-1.5zM813.5 433.7h1.5v1.3h-1.5zM819.1 433.7h1.5v1.3h-1.5zM824.7 433.7h1.5v1.3h-1.5zM830.3 433.7h1.5v1.3h-1.5zM835.8 433.7h1.5v1.3h-1.5zM841.4 433.7h1.5v1.3h-1.5zM847.0 433.7h1.5v1.3h-1.5zM852.6 433.7h1.5v1.3h-1.5zM858.2 433.7h1.5v1.3h-1.5zM863.8 433.7h1.5v1.3h-1.5zM869.3 433.7h1.5v1.3h-1.5zM874.9 433.7h1.5v1.3h-1.5zM880.5 433.7h1.5v1.3h-1.5zM886.1 433.7h1.5v1.3h-1.5zM891.7 433.7h1.5v1.3h-1.5zM897.2 433.7h1.5v1.3h-1.5zM902.8 433.7h1.5v1.3h-1.5zM908.4 433.7h1.5v1.3h-1.5zM914.0 433.7h1.5v1.3h-1.5zM919.6 433.7h1.5v1.3h-1.5zM925.1 433.7h1.5v1.3h-1.5zM930.7 433.7h1.5v1.3h-1.5zM936.3 433.7h1.5v1.3h-1.5zM941.9 433.7h1.5v1.3h-1.5zM947.5 433.7h1.5v1.3h-1.5zM953.1 433.7h1.5v1.3h-1.5zM958.6 433.7h1.5v1.3h-1.5zM964.2 433.7h1.5v1.3h-1.5zM969.8 433.7h1.5v1.3h-1.5zM975.4 433.7h1.5v1.3h-1.5zM981.0 433.7h1.5v1.3h-1.5zM986.5 433.7h1.5v1.3h-1.5zM1148.4 433.7h1.5v1.3h-1.5zM1154.0 433.7h1.5v1.3h-1.5zM1159.6 433.7h1.5v1.3h-1.5zM1165.1 433.7h1.5v1.3h-1.5zM1170.7 433.7h1.5v1.3h-1.5zM1176.3 433.7h1.5v1.3h-1.5zM1181.9 433.7h1.5v1.3h-1.5zM1187.5 433.7h1.5v1.3h-1.5zM1193.0 433.7h1.5v1.3h-1.5zM1198.6 433.7h1.5v1.3h-1.5zM1204.2 433.7h1.5v1.3h-1.5zM1209.8 433.7h1.5v1.3h-1.5zM1215.4 433.7h1.5v1.3h-1.5zM1221.0 433.7h1.5v1.3h-1.5zM1226.5 433.7h1.5v1.3h-1.5zM1232.1 433.7h1.5v1.3h-1.5zM1237.7 433.7h1.5v1.3h-1.5zM1243.3 433.7h1.5v1.3h-1.5zM1248.9 433.7h1.5v1.3h-1.5zM1254.4 433.7h1.5v1.3h-1.5zM1260.0 433.7h1.5v1.3h-1.5zM1265.6 433.7h1.5v1.3h-1.5zM1271.2 433.7h1.5v1.3h-1.5zM1276.8 433.7h1.5v1.3h-1.5zM1282.3 433.7h1.5v1.3h-1.5zM1287.9 433.7h1.5v1.3h-1.5zM1293.5 433.7h1.5v1.3h-1.5zM1299.1 433.7h1.5v1.3h-1.5zM1304.7 433.7h1.5v1.3h-1.5zM1310.3 433.7h1.5v1.3h-1.5zM1315.8 433.7h1.5v1.3h-1.5zM1321.4 433.7h1.5v1.3h-1.5zM1327.0 433.7h1.5v1.3h-1.5zM1332.6 433.7h1.5v1.3h-1.5zM1338.2 433.7h1.5v1.3h-1.5zM1343.7 433.7h1.5v1.3h-1.5zM1349.3 433.7h1.5v1.3h-1.5zM1354.9 433.7h1.5v1.3h-1.5zM1360.5 433.7h1.5v1.3h-1.5zM1366.1 433.7h1.5v1.3h-1.5zM1371.6 433.7h1.5v1.3h-1.5zM1377.2 433.7h1.5v1.3h-1.5zM1382.8 433.7h1.5v1.3h-1.5zM1388.4 433.7h1.5v1.3h-1.5zM1394.0 433.7h1.5v1.3h-1.5zM1399.6 433.7h1.5v1.3h-1.5zM1405.1 433.7h1.5v1.3h-1.5zM1410.7 433.7h1.5v1.3h-1.5zM1416.3 433.7h1.5v1.3h-1.5zM1421.9 433.7h1.5v1.3h-1.5zM1427.5 433.7h1.5v1.3h-1.5zM1433.0 433.7h1.5v1.3h-1.5zM1438.6 433.7h1.5v1.3h-1.5zM1444.2 433.7h1.5v1.3h-1.5zM1449.8 433.7h1.5v1.3h-1.5zM1455.4 433.7h1.5v1.3h-1.5zM1460.9 433.7h1.5v1.3h-1.5zM1466.5 433.7h1.5v1.3h-1.5zM1472.1 433.7h1.5v1.3h-1.5zM1477.7 433.7h1.5v1.3h-1.5zM53.0 429.4h1.4v1.5h-1.4zM58.7 429.4h1.4v1.5h-1.4zM64.3 429.4h1.4v1.5h-1.4zM70.0 429.4h1.4v1.5h-1.4zM305.5 429.0h1.5v1.3h-1.5zM316.5 429.0h1.5v1.3h-1.5zM322.0 429.0h1.5v1.3h-1.5zM333.0 429.0h1.5v1.3h-1.5zM338.5 429.0h1.5v1.3h-1.5zM541.0 422.4h3.0v1.3h-3.0zM539.2 430.0h1.4v1.3h-1.4zM343.2 464.3h10.0v2.9h-10.0zM381.7 465.8h6.1v1.4h-6.1zM387.8 464.3h10.0v2.9h-10.0zM426.3 465.8h6.1v1.4h-6.1zM432.5 464.3h10.0v2.9h-10.0zM471.0 465.8h6.1v1.4h-6.1zM477.1 464.3h10.0v2.9h-10.0zM515.6 465.8h6.2v1.4h-6.2zM722.7 464.3h10.0v2.9h-10.0zM761.2 465.8h6.1v1.4h-6.1zM767.4 464.3h10.0v2.9h-10.0zM805.9 465.8h6.1v1.4h-6.1zM812.0 464.3h10.0v2.9h-10.0zM850.5 465.8h6.1v1.4h-6.1zM856.7 464.3h10.0v2.9h-10.0zM895.2 465.8h6.1v1.4h-6.1zM901.3 464.3h10.0v2.9h-10.0zM939.8 465.8h6.1v1.4h-6.1zM946.0 464.3h10.0v2.9h-10.0zM984.5 465.8h6.1v1.4h-6.1zM1146.9 464.3h10.0v2.9h-10.0zM1185.4 465.8h6.2v1.4h-6.2zM1191.5 464.3h10.0v2.9h-10.0zM1230.0 465.8h6.2v1.4h-6.2zM1236.2 464.3h10.0v2.9h-10.0zM1274.7 465.8h6.2v1.4h-6.2zM1280.9 464.3h10.0v2.9h-10.0zM1319.4 465.8h6.2v1.4h-6.2zM1325.5 464.3h10.0v2.9h-10.0zM1364.0 465.8h6.2v1.4h-6.2zM1370.2 464.3h10.0v2.9h-10.0zM1408.7 465.8h6.2v1.4h-6.2zM1414.8 464.3h10.0v2.9h-10.0zM1453.3 465.8h6.2v1.4h-6.2zM1459.5 464.3h10.0v2.9h-10.0zM365.2 504.4h14.7v1.1h-14.7zM365.2 506.4h14.7v1.1h-14.7zM409.9 504.4h14.7v1.1h-14.7zM409.9 506.4h14.7v1.1h-14.7zM454.5 504.4h14.7v1.1h-14.7zM454.5 506.4h14.7v1.1h-14.7zM499.2 504.4h14.7v1.1h-14.7zM499.2 506.4h14.7v1.1h-14.7zM744.7 504.4h14.7v1.1h-14.7zM744.7 506.4h14.7v1.1h-14.7zM789.4 504.4h14.7v1.1h-14.7zM789.4 506.4h14.7v1.1h-14.7zM834.0 504.4h14.7v1.1h-14.7zM834.0 506.4h14.7v1.1h-14.7zM878.7 504.4h14.7v1.1h-14.7zM878.7 506.4h14.7v1.1h-14.7zM923.3 504.4h14.7v1.1h-14.7zM923.3 506.4h14.7v1.1h-14.7zM968.0 504.4h14.7v1.1h-14.7zM968.0 506.4h14.7v1.1h-14.7zM1191.7 504.4h14.7v1.1h-14.7zM1191.7 506.4h14.7v1.1h-14.7zM1236.3 504.4h14.7v1.1h-14.7zM1236.3 506.4h14.7v1.1h-14.7zM1281.0 504.4h14.7v1.1h-14.7zM1281.0 506.4h14.7v1.1h-14.7zM1325.6 504.4h14.7v1.1h-14.7zM1325.6 506.4h14.7v1.1h-14.7zM1370.3 504.4h14.7v1.1h-14.7zM1370.3 506.4h14.7v1.1h-14.7zM1414.9 504.4h14.7v1.1h-14.7zM1414.9 506.4h14.7v1.1h-14.7zM1459.6 504.4h14.7v1.1h-14.7zM1459.6 506.4h14.7v1.1h-14.7zM355.7 592.6h7.0v1.6h-7.0zM390.2 592.6h5.5v1.6h-5.5zM422.7 592.6h5.5v1.6h-5.5zM445.0 592.6h7.0v1.6h-7.0zM479.5 592.6h5.5v1.6h-5.5zM512.0 592.6h5.5v1.6h-5.5zM735.2 592.6h7.0v1.6h-7.0zM769.7 592.6h5.5v1.6h-5.5zM802.2 592.6h5.5v1.6h-5.5zM824.5 592.6h7.0v1.6h-7.0zM859.0 592.6h5.5v1.6h-5.5zM891.5 592.6h5.5v1.6h-5.5zM913.8 592.6h7.0v1.6h-7.0zM948.3 592.6h5.5v1.6h-5.5zM980.8 592.6h5.5v1.6h-5.5zM1159.4 592.6h7.0v1.6h-7.0zM1193.9 592.6h5.5v1.6h-5.5zM1226.4 592.6h5.5v1.6h-5.5zM1248.7 592.6h7.0v1.6h-7.0zM1283.2 592.6h5.5v1.6h-5.5zM1315.7 592.6h5.5v1.6h-5.5zM1338.0 592.6h7.0v1.6h-7.0zM1372.5 592.6h5.5v1.6h-5.5zM1405.0 592.6h5.5v1.6h-5.5zM1427.3 592.6h7.0v1.6h-7.0zM1461.8 592.6h5.5v1.6h-5.5zM551.7 589.9h1.2v1.0h-1.2zM558.2 591.7h4.3v1.0h-4.3zM578.3 589.9h1.2v1.0h-1.2zM584.3 591.7h4.0v1.0h-4.0zM596.7 589.9h1.2v1.0h-1.2zM605.2 591.7h5.6v1.0h-5.6zM619.2 589.9h1.2v1.0h-1.2zM627.7 591.7h5.6v1.0h-5.6zM640.8 589.9h1.2v1.0h-1.2zM648.8 591.7h5.4v1.0h-5.4zM664.2 589.9h1.2v1.0h-1.2zM672.2 591.7h5.3v1.0h-5.3zM685.0 589.9h1.2v1.0h-1.2zM691.0 591.7h4.0v1.0h-4.0zM75.3 671.0h16.7v1.3h-16.7zM75.3 672.5h16.7v1.3h-16.7zM92.0 672.1h6.6v1.3h-6.6zM92.0 673.9h6.6v1.3h-6.6zM98.6 673.5h16.7v1.3h-16.7zM98.6 675.4h16.7v1.3h-16.7zM115.3 672.2h4.6v1.3h-4.6zM115.3 673.9h4.6v1.3h-4.6zM119.9 671.0h16.7v1.3h-16.7zM119.9 672.5h16.7v1.3h-16.7zM136.6 672.1h6.6v1.3h-6.6zM136.6 673.9h6.6v1.3h-6.6zM143.2 673.5h16.7v1.3h-16.7zM143.2 675.4h16.7v1.3h-16.7zM159.9 672.2h4.7v1.3h-4.7zM159.9 673.9h4.7v1.3h-4.7zM164.6 671.0h16.7v1.3h-16.7zM164.6 672.5h16.7v1.3h-16.7zM181.3 672.1h6.6v1.3h-6.6zM181.3 673.9h6.6v1.3h-6.6zM187.9 673.5h16.7v1.3h-16.7zM187.9 675.4h16.7v1.3h-16.7zM204.6 672.2h4.7v1.3h-4.7zM204.6 673.9h4.7v1.3h-4.7zM209.2 671.0h16.7v1.3h-16.7zM209.2 672.5h16.7v1.3h-16.7zM225.9 672.1h6.6v1.3h-6.6zM225.9 673.9h6.6v1.3h-6.6zM232.6 673.5h16.7v1.3h-16.7zM232.6 675.4h16.7v1.3h-16.7zM249.2 672.2h4.7v1.3h-4.7zM249.2 673.9h4.7v1.3h-4.7zM253.9 671.0h16.7v1.3h-16.7zM253.9 672.5h16.7v1.3h-16.7zM270.6 672.1h6.6v1.3h-6.6zM270.6 673.9h6.6v1.3h-6.6zM277.2 673.5h16.7v1.3h-16.7zM277.2 675.4h16.7v1.3h-16.7zM293.9 672.2h4.7v1.3h-4.7zM293.9 673.9h4.7v1.3h-4.7zM298.6 671.0h16.7v1.3h-16.7zM298.6 672.5h16.7v1.3h-16.7zM315.2 672.1h6.6v1.3h-6.6zM315.2 673.9h6.6v1.3h-6.6zM321.9 673.5h16.7v1.3h-16.7zM321.9 675.4h16.7v1.3h-16.7zM338.6 672.2h4.6v1.3h-4.6zM338.6 673.9h4.6v1.3h-4.6zM343.2 671.0h16.7v1.3h-16.7zM343.2 672.5h16.7v1.3h-16.7zM359.9 672.1h6.6v1.3h-6.6zM359.9 673.9h6.6v1.3h-6.6zM366.5 673.5h16.7v1.3h-16.7zM366.5 675.4h16.7v1.3h-16.7zM383.2 672.2h4.6v1.3h-4.6zM383.2 673.9h4.6v1.3h-4.6zM387.8 671.0h16.7v1.3h-16.7zM387.8 672.5h16.7v1.3h-16.7zM404.5 672.1h6.6v1.3h-6.6zM404.5 673.9h6.6v1.3h-6.6zM411.1 673.5h16.7v1.3h-16.7zM411.1 675.4h16.7v1.3h-16.7zM427.8 672.2h4.6v1.3h-4.6zM427.8 673.9h4.6v1.3h-4.6zM432.5 671.0h16.7v1.3h-16.7zM432.5 672.5h16.7v1.3h-16.7zM449.2 672.1h6.6v1.3h-6.6zM449.2 673.9h6.6v1.3h-6.6zM455.8 673.5h16.7v1.3h-16.7zM455.8 675.4h16.7v1.3h-16.7zM472.5 672.2h4.6v1.3h-4.6zM472.5 673.9h4.6v1.3h-4.6zM477.1 671.0h16.7v1.3h-16.7zM477.1 672.5h16.7v1.3h-16.7zM493.8 672.1h6.6v1.3h-6.6zM493.8 673.9h6.6v1.3h-6.6zM500.4 673.5h16.7v1.3h-16.7zM500.4 675.4h16.7v1.3h-16.7zM517.1 672.2h4.7v1.3h-4.7zM517.1 673.9h4.7v1.3h-4.7zM521.8 671.0h16.7v1.3h-16.7zM521.8 672.5h16.7v1.3h-16.7zM538.5 672.1h6.6v1.3h-6.6zM538.5 673.9h6.6v1.3h-6.6zM545.1 673.5h16.7v1.3h-16.7zM545.1 675.4h16.7v1.3h-16.7zM561.8 672.2h4.6v1.3h-4.6zM561.8 673.9h4.6v1.3h-4.6zM566.4 671.0h16.7v1.3h-16.7zM566.4 672.5h16.7v1.3h-16.7zM583.1 672.1h6.6v1.3h-6.6zM583.1 673.9h6.6v1.3h-6.6zM589.7 673.5h16.7v1.3h-16.7zM589.7 675.4h16.7v1.3h-16.7zM606.4 672.2h4.6v1.3h-4.6zM606.4 673.9h4.6v1.3h-4.6zM611.1 671.0h16.7v1.3h-16.7zM611.1 672.5h16.7v1.3h-16.7zM627.8 672.1h6.6v1.3h-6.6zM627.8 673.9h6.6v1.3h-6.6zM634.4 673.5h16.7v1.3h-16.7zM634.4 675.4h16.7v1.3h-16.7zM651.1 672.2h4.6v1.3h-4.6zM651.1 673.9h4.6v1.3h-4.6zM655.7 671.0h16.7v1.3h-16.7zM655.7 672.5h16.7v1.3h-16.7zM672.4 672.1h6.6v1.3h-6.6zM672.4 673.9h6.6v1.3h-6.6zM679.0 673.5h16.7v1.3h-16.7zM679.0 675.4h16.7v1.3h-16.7zM695.7 672.2h4.6v1.3h-4.6zM695.7 673.9h4.6v1.3h-4.6zM700.4 671.0h16.7v1.3h-16.7zM700.4 672.5h16.7v1.3h-16.7zM717.1 672.1h6.6v1.3h-6.6zM717.1 673.9h6.6v1.3h-6.6zM723.7 673.5h16.7v1.3h-16.7zM723.7 675.4h16.7v1.3h-16.7zM740.4 672.2h4.6v1.3h-4.6zM740.4 673.9h4.6v1.3h-4.6zM745.0 671.0h16.7v1.3h-16.7zM745.0 672.5h16.7v1.3h-16.7zM761.7 672.1h6.6v1.3h-6.6zM761.7 673.9h6.6v1.3h-6.6zM768.3 673.5h16.7v1.3h-16.7zM768.3 675.4h16.7v1.3h-16.7zM785.0 672.2h4.6v1.3h-4.6zM785.0 673.9h4.6v1.3h-4.6zM789.7 671.0h16.7v1.3h-16.7zM789.7 672.5h16.7v1.3h-16.7zM806.4 672.1h6.6v1.3h-6.6zM806.4 673.9h6.6v1.3h-6.6zM813.0 673.5h16.7v1.3h-16.7zM813.0 675.4h16.7v1.3h-16.7zM829.7 672.2h4.6v1.3h-4.6zM829.7 673.9h4.6v1.3h-4.6zM834.3 671.0h16.7v1.3h-16.7zM834.3 672.5h16.7v1.3h-16.7zM851.0 672.1h6.6v1.3h-6.6zM851.0 673.9h6.6v1.3h-6.6zM857.6 673.5h16.7v1.3h-16.7zM857.6 675.4h16.7v1.3h-16.7zM874.3 672.2h4.6v1.3h-4.6zM874.3 673.9h4.6v1.3h-4.6zM879.0 671.0h16.7v1.3h-16.7zM879.0 672.5h16.7v1.3h-16.7zM895.7 672.1h6.6v1.3h-6.6zM895.7 673.9h6.6v1.3h-6.6zM902.3 673.5h16.7v1.3h-16.7zM902.3 675.4h16.7v1.3h-16.7zM919.0 672.2h4.6v1.3h-4.6zM919.0 673.9h4.6v1.3h-4.6zM923.6 671.0h16.7v1.3h-16.7zM923.6 672.5h16.7v1.3h-16.7zM940.3 672.1h6.6v1.3h-6.6zM940.3 673.9h6.6v1.3h-6.6zM946.9 673.5h16.7v1.3h-16.7zM946.9 675.4h16.7v1.3h-16.7zM963.6 672.2h4.6v1.3h-4.6zM963.6 673.9h4.6v1.3h-4.6zM968.3 671.0h13.4v1.3h-13.4zM968.3 672.5h13.4v1.3h-13.4zM981.7 671.8h31.3v1.3h-31.3zM981.7 674.1h31.3v1.3h-31.3zM1013.0 671.0h23.0v1.3h-23.0zM1013.0 673.4h23.0v1.3h-23.0zM1036.0 671.8h21.5v1.3h-21.5zM1036.0 674.1h21.5v1.3h-21.5zM1057.5 671.0h22.5v1.3h-22.5zM1057.5 673.4h22.5v1.3h-22.5zM1080.0 671.0h11.7v1.3h-11.7zM1080.0 672.5h11.7v1.3h-11.7zM1091.7 672.2h11.3v1.3h-11.3zM1091.7 673.9h11.3v1.3h-11.3zM1103.0 673.6h22.0v1.3h-22.0zM1103.0 675.5h22.0v1.3h-22.0zM1125.0 672.2h6.0v1.3h-6.0zM1125.0 673.9h6.0v1.3h-6.0zM1131.0 671.0h16.7v1.3h-16.7zM1131.0 672.5h16.7v1.3h-16.7zM1147.7 672.1h6.6v1.3h-6.6zM1147.7 673.9h6.6v1.3h-6.6zM1154.3 673.5h16.7v1.3h-16.7zM1154.3 675.4h16.7v1.3h-16.7zM1171.0 672.2h4.7v1.3h-4.7zM1171.0 673.9h4.7v1.3h-4.7zM1175.7 671.0h16.7v1.3h-16.7zM1175.7 672.5h16.7v1.3h-16.7zM1192.4 672.1h6.6v1.3h-6.6zM1192.4 673.9h6.6v1.3h-6.6zM1199.0 673.5h16.7v1.3h-16.7zM1199.0 675.4h16.7v1.3h-16.7zM1215.7 672.2h4.7v1.3h-4.7zM1215.7 673.9h4.7v1.3h-4.7zM1220.3 671.0h16.7v1.3h-16.7zM1220.3 672.5h16.7v1.3h-16.7zM1237.0 672.1h6.6v1.3h-6.6zM1237.0 673.9h6.6v1.3h-6.6zM1243.6 673.5h16.7v1.3h-16.7zM1243.6 675.4h16.7v1.3h-16.7zM1260.3 672.2h4.7v1.3h-4.7zM1260.3 673.9h4.7v1.3h-4.7zM1265.0 671.0h16.7v1.3h-16.7zM1265.0 672.5h16.7v1.3h-16.7zM1281.7 672.1h6.6v1.3h-6.6zM1281.7 673.9h6.6v1.3h-6.6zM1288.3 673.5h16.7v1.3h-16.7zM1288.3 675.4h16.7v1.3h-16.7zM1305.0 672.2h4.7v1.3h-4.7zM1305.0 673.9h4.7v1.3h-4.7zM1309.6 671.0h16.7v1.3h-16.7zM1309.6 672.5h16.7v1.3h-16.7zM1326.3 672.1h6.6v1.3h-6.6zM1326.3 673.9h6.6v1.3h-6.6zM1332.9 673.5h16.7v1.3h-16.7zM1332.9 675.4h16.7v1.3h-16.7zM1349.6 672.2h4.7v1.3h-4.7zM1349.6 673.9h4.7v1.3h-4.7zM1354.3 671.0h16.7v1.3h-16.7zM1354.3 672.5h16.7v1.3h-16.7zM1371.0 672.1h6.6v1.3h-6.6zM1371.0 673.9h6.6v1.3h-6.6zM1377.6 673.5h16.7v1.3h-16.7zM1377.6 675.4h16.7v1.3h-16.7zM1394.3 672.2h4.7v1.3h-4.7zM1394.3 673.9h4.7v1.3h-4.7zM1398.9 671.0h16.7v1.3h-16.7zM1398.9 672.5h16.7v1.3h-16.7zM1415.6 672.1h6.6v1.3h-6.6zM1415.6 673.9h6.6v1.3h-6.6zM1422.2 673.5h16.7v1.3h-16.7zM1422.2 675.4h16.7v1.3h-16.7zM1438.9 672.2h4.7v1.3h-4.7zM1438.9 673.9h4.7v1.3h-4.7zM1443.6 671.0h16.7v1.3h-16.7zM1443.6 672.5h16.7v1.3h-16.7zM1460.3 672.1h6.6v1.3h-6.6zM1460.3 673.9h6.6v1.3h-6.6zM1466.9 673.5h16.7v1.3h-16.7zM1466.9 675.4h16.7v1.3h-16.7zM1483.6 672.2h3.4v1.3h-3.4zM1483.6 673.9h3.4v1.3h-3.4z"/>
<path fill-opacity="0.62" d="M343.7 425.6h4.1v1.5h-4.1zM349.3 425.6h4.1v1.5h-4.1zM354.9 425.6h4.1v1.5h-4.1zM360.4 425.6h4.1v1.5h-4.1zM366.0 425.6h4.1v1.5h-4.1zM371.6 425.6h4.1v1.5h-4.1zM377.2 425.6h4.1v1.5h-4.1zM382.8 425.6h4.1v1.5h-4.1zM388.4 425.6h4.1v1.5h-4.1zM393.9 425.6h4.1v1.5h-4.1zM399.5 425.6h4.1v1.5h-4.1zM405.1 425.6h4.1v1.5h-4.1zM410.7 425.6h4.1v1.5h-4.1zM416.3 425.6h4.1v1.5h-4.1zM421.8 425.6h4.1v1.5h-4.1zM427.4 425.6h4.1v1.5h-4.1zM433.0 425.6h4.1v1.5h-4.1zM438.6 425.6h4.1v1.5h-4.1zM444.2 425.6h4.1v1.5h-4.1zM449.7 425.6h4.1v1.5h-4.1zM455.3 425.6h4.1v1.5h-4.1zM460.9 425.6h4.1v1.5h-4.1zM466.5 425.6h4.1v1.5h-4.1zM472.1 425.6h4.1v1.5h-4.1zM477.7 425.6h4.1v1.5h-4.1zM483.2 425.6h4.1v1.5h-4.1zM488.8 425.6h4.1v1.5h-4.1zM494.4 425.6h4.1v1.5h-4.1zM500.0 425.6h4.1v1.5h-4.1zM505.6 425.6h4.1v1.5h-4.1zM511.1 425.6h4.1v1.5h-4.1zM516.7 425.6h4.1v1.5h-4.1zM723.2 425.6h4.1v1.5h-4.1zM728.8 425.6h4.1v1.5h-4.1zM734.4 425.6h4.1v1.5h-4.1zM740.0 425.6h4.1v1.5h-4.1zM745.5 425.6h4.1v1.5h-4.1zM751.1 425.6h4.1v1.5h-4.1zM756.7 425.6h4.1v1.5h-4.1zM762.3 425.6h4.1v1.5h-4.1zM767.9 425.6h4.1v1.5h-4.1zM773.5 425.6h4.1v1.5h-4.1zM779.0 425.6h4.1v1.5h-4.1zM784.6 425.6h4.1v1.5h-4.1zM790.2 425.6h4.1v1.5h-4.1zM795.8 425.6h4.1v1.5h-4.1zM801.4 425.6h4.1v1.5h-4.1zM806.9 425.6h4.1v1.5h-4.1zM812.5 425.6h4.1v1.5h-4.1zM818.1 425.6h4.1v1.5h-4.1zM823.7 425.6h4.1v1.5h-4.1zM829.3 425.6h4.1v1.5h-4.1zM834.8 425.6h4.1v1.5h-4.1zM840.4 425.6h4.1v1.5h-4.1zM846.0 425.6h4.1v1.5h-4.1zM851.6 425.6h4.1v1.5h-4.1zM857.2 425.6h4.1v1.5h-4.1zM862.8 425.6h4.1v1.5h-4.1zM868.3 425.6h4.1v1.5h-4.1zM873.9 425.6h4.1v1.5h-4.1zM879.5 425.6h4.1v1.5h-4.1zM885.1 425.6h4.1v1.5h-4.1zM890.7 425.6h4.1v1.5h-4.1zM896.2 425.6h4.1v1.5h-4.1zM901.8 425.6h4.1v1.5h-4.1zM907.4 425.6h4.1v1.5h-4.1zM913.0 425.6h4.1v1.5h-4.1zM918.6 425.6h4.1v1.5h-4.1zM924.1 425.6h4.1v1.5h-4.1zM929.7 425.6h4.1v1.5h-4.1zM935.3 425.6h4.1v1.5h-4.1zM940.9 425.6h4.1v1.5h-4.1zM946.5 425.6h4.1v1.5h-4.1zM952.1 425.6h4.1v1.5h-4.1zM957.6 425.6h4.1v1.5h-4.1zM963.2 425.6h4.1v1.5h-4.1zM968.8 425.6h4.1v1.5h-4.1zM974.4 425.6h4.1v1.5h-4.1zM980.0 425.6h4.1v1.5h-4.1zM985.5 425.6h4.1v1.5h-4.1zM1147.4 425.6h4.1v1.5h-4.1zM1153.0 425.6h4.1v1.5h-4.1zM1158.6 425.6h4.1v1.5h-4.1zM1164.1 425.6h4.1v1.5h-4.1zM1169.7 425.6h4.1v1.5h-4.1zM1175.3 425.6h4.1v1.5h-4.1zM1180.9 425.6h4.1v1.5h-4.1zM1186.5 425.6h4.1v1.5h-4.1zM1192.0 425.6h4.1v1.5h-4.1zM1197.6 425.6h4.1v1.5h-4.1zM1203.2 425.6h4.1v1.5h-4.1zM1208.8 425.6h4.1v1.5h-4.1zM1214.4 425.6h4.1v1.5h-4.1zM1220.0 425.6h4.1v1.5h-4.1zM1225.5 425.6h4.1v1.5h-4.1zM1231.1 425.6h4.1v1.5h-4.1zM1236.7 425.6h4.1v1.5h-4.1zM1242.3 425.6h4.1v1.5h-4.1zM1247.9 425.6h4.1v1.5h-4.1zM1253.4 425.6h4.1v1.5h-4.1zM1259.0 425.6h4.1v1.5h-4.1zM1264.6 425.6h4.1v1.5h-4.1zM1270.2 425.6h4.1v1.5h-4.1zM1275.8 425.6h4.1v1.5h-4.1zM1281.3 425.6h4.1v1.5h-4.1zM1286.9 425.6h4.1v1.5h-4.1zM1292.5 425.6h4.1v1.5h-4.1zM1298.1 425.6h4.1v1.5h-4.1zM1303.7 425.6h4.1v1.5h-4.1zM1309.3 425.6h4.1v1.5h-4.1zM1314.8 425.6h4.1v1.5h-4.1zM1320.4 425.6h4.1v1.5h-4.1zM1326.0 425.6h4.1v1.5h-4.1zM1331.6 425.6h4.1v1.5h-4.1zM1337.2 425.6h4.1v1.5h-4.1zM1342.7 425.6h4.1v1.5h-4.1zM1348.3 425.6h4.1v1.5h-4.1zM1353.9 425.6h4.1v1.5h-4.1zM1359.5 425.6h4.1v1.5h-4.1zM1365.1 425.6h4.1v1.5h-4.1zM1370.6 425.6h4.1v1.5h-4.1zM1376.2 425.6h4.1v1.5h-4.1zM1381.8 425.6h4.1v1.5h-4.1zM1387.4 425.6h4.1v1.5h-4.1zM1393.0 425.6h4.1v1.5h-4.1zM1398.6 425.6h4.1v1.5h-4.1zM1404.1 425.6h4.1v1.5h-4.1zM1409.7 425.6h4.1v1.5h-4.1zM1415.3 425.6h4.1v1.5h-4.1zM1420.9 425.6h4.1v1.5h-4.1zM1426.5 425.6h4.1v1.5h-4.1zM1432.0 425.6h4.1v1.5h-4.1zM1437.6 425.6h4.1v1.5h-4.1zM1443.2 425.6h4.1v1.5h-4.1zM1448.8 425.6h4.1v1.5h-4.1zM1454.4 425.6h4.1v1.5h-4.1zM1459.9 425.6h4.1v1.5h-4.1zM1465.5 425.6h4.1v1.5h-4.1zM1471.1 425.6h4.1v1.5h-4.1zM1476.7 425.6h4.1v1.5h-4.1z"/>
<path fill-opacity="0.65" d="M346.5 297.3h1.5v1.4h-1.5zM352.1 297.3h1.5v1.4h-1.5zM357.7 297.3h1.5v1.4h-1.5zM363.2 297.3h1.5v1.4h-1.5zM374.4 297.3h1.5v1.4h-1.5zM380.0 297.3h1.5v1.4h-1.5zM385.6 297.3h1.5v1.4h-1.5zM391.1 297.3h1.5v1.4h-1.5zM396.7 297.3h1.5v1.4h-1.5zM402.3 297.3h1.5v1.4h-1.5zM407.9 297.3h1.5v1.4h-1.5zM419.0 297.3h1.5v1.4h-1.5zM424.6 297.3h1.5v1.4h-1.5zM430.2 297.3h1.5v1.4h-1.5zM435.8 297.3h1.5v1.4h-1.5zM441.4 297.3h1.5v1.4h-1.5zM446.9 297.3h1.5v1.4h-1.5zM452.5 297.3h1.5v1.4h-1.5zM463.7 297.3h1.5v1.4h-1.5zM469.3 297.3h1.5v1.4h-1.5zM474.8 297.3h1.5v1.4h-1.5zM480.4 297.3h1.5v1.4h-1.5zM486.0 297.3h1.5v1.4h-1.5zM491.6 297.3h1.5v1.4h-1.5zM497.2 297.3h1.5v1.4h-1.5zM508.3 297.3h1.5v1.4h-1.5zM513.9 297.3h1.5v1.4h-1.5zM519.5 297.3h1.5v1.4h-1.5zM726.0 297.3h1.5v1.4h-1.5zM731.6 297.3h1.5v1.4h-1.5zM737.2 297.3h1.5v1.4h-1.5zM742.8 297.3h1.5v1.4h-1.5zM753.9 297.3h1.5v1.4h-1.5zM759.5 297.3h1.5v1.4h-1.5zM765.1 297.3h1.5v1.4h-1.5zM770.7 297.3h1.5v1.4h-1.5zM776.2 297.3h1.5v1.4h-1.5zM781.8 297.3h1.5v1.4h-1.5zM787.4 297.3h1.5v1.4h-1.5zM798.6 297.3h1.5v1.4h-1.5zM804.1 297.3h1.5v1.4h-1.5zM809.7 297.3h1.5v1.4h-1.5zM815.3 297.3h1.5v1.4h-1.5zM820.9 297.3h1.5v1.4h-1.5zM826.5 297.3h1.5v1.4h-1.5zM832.0 297.3h1.5v1.4h-1.5zM843.2 297.3h1.5v1.4h-1.5zM848.8 297.3h1.5v1.4h-1.5zM854.4 297.3h1.5v1.4h-1.5zM859.9 297.3h1.5v1.4h-1.5zM865.5 297.3h1.5v1.4h-1.5zM871.1 297.3h1.5v1.4h-1.5zM876.7 297.3h1.5v1.4h-1.5zM887.8 297.3h1.5v1.4h-1.5zM893.4 297.3h1.5v1.4h-1.5zM899.0 297.3h1.5v1.4h-1.5zM904.6 297.3h1.5v1.4h-1.5zM910.2 297.3h1.5v1.4h-1.5zM915.7 297.3h1.5v1.4h-1.5zM921.3 297.3h1.5v1.4h-1.5zM932.5 297.3h1.5v1.4h-1.5zM938.1 297.3h1.5v1.4h-1.5zM943.6 297.3h1.5v1.4h-1.5zM949.2 297.3h1.5v1.4h-1.5zM954.8 297.3h1.5v1.4h-1.5zM960.4 297.3h1.5v1.4h-1.5zM966.0 297.3h1.5v1.4h-1.5zM977.1 297.3h1.5v1.4h-1.5zM982.7 297.3h1.5v1.4h-1.5zM988.3 297.3h1.5v1.4h-1.5zM1150.2 297.3h1.5v1.4h-1.5zM1155.8 297.3h1.5v1.4h-1.5zM1161.3 297.3h1.5v1.4h-1.5zM1166.9 297.3h1.5v1.4h-1.5zM1178.1 297.3h1.5v1.4h-1.5zM1183.7 297.3h1.5v1.4h-1.5zM1189.2 297.3h1.5v1.4h-1.5zM1194.8 297.3h1.5v1.4h-1.5zM1200.4 297.3h1.5v1.4h-1.5zM1206.0 297.3h1.5v1.4h-1.5zM1211.6 297.3h1.5v1.4h-1.5zM1222.7 297.3h1.5v1.4h-1.5zM1228.3 297.3h1.5v1.4h-1.5zM1233.9 297.3h1.5v1.4h-1.5zM1239.5 297.3h1.5v1.4h-1.5zM1245.0 297.3h1.5v1.4h-1.5zM1250.6 297.3h1.5v1.4h-1.5zM1256.2 297.3h1.5v1.4h-1.5zM1267.4 297.3h1.5v1.4h-1.5zM1272.9 297.3h1.5v1.4h-1.5zM1278.5 297.3h1.5v1.4h-1.5zM1284.1 297.3h1.5v1.4h-1.5zM1289.7 297.3h1.5v1.4h-1.5zM1295.3 297.3h1.5v1.4h-1.5zM1300.8 297.3h1.5v1.4h-1.5zM1312.0 297.3h1.5v1.4h-1.5zM1317.6 297.3h1.5v1.4h-1.5zM1323.2 297.3h1.5v1.4h-1.5zM1328.7 297.3h1.5v1.4h-1.5zM1334.3 297.3h1.5v1.4h-1.5zM1339.9 297.3h1.5v1.4h-1.5zM1345.5 297.3h1.5v1.4h-1.5zM1356.6 297.3h1.5v1.4h-1.5zM1362.2 297.3h1.5v1.4h-1.5zM1367.8 297.3h1.5v1.4h-1.5zM1373.4 297.3h1.5v1.4h-1.5zM1379.0 297.3h1.5v1.4h-1.5zM1384.5 297.3h1.5v1.4h-1.5zM1390.1 297.3h1.5v1.4h-1.5zM1401.3 297.3h1.5v1.4h-1.5zM1406.9 297.3h1.5v1.4h-1.5zM1412.4 297.3h1.5v1.4h-1.5zM1418.0 297.3h1.5v1.4h-1.5zM1423.6 297.3h1.5v1.4h-1.5zM1429.2 297.3h1.5v1.4h-1.5zM1434.8 297.3h1.5v1.4h-1.5zM1445.9 297.3h1.5v1.4h-1.5zM1451.5 297.3h1.5v1.4h-1.5zM1457.1 297.3h1.5v1.4h-1.5zM1462.7 297.3h1.5v1.4h-1.5zM1468.2 297.3h1.5v1.4h-1.5zM1473.8 297.3h1.5v1.4h-1.5zM1479.4 297.3h1.5v1.4h-1.5zM365.5 473.2h16.2v1.0h-16.2zM410.1 473.2h16.2v1.0h-16.2zM454.8 473.2h16.2v1.0h-16.2zM499.4 473.2h16.2v1.0h-16.2zM745.0 473.2h16.2v1.0h-16.2zM789.7 473.2h16.2v1.0h-16.2zM834.3 473.2h16.2v1.0h-16.2zM879.0 473.2h16.2v1.0h-16.2zM923.6 473.2h16.2v1.0h-16.2zM968.3 473.2h16.2v1.0h-16.2zM1169.2 473.2h16.2v1.0h-16.2zM1213.8 473.2h16.2v1.0h-16.2zM1258.5 473.2h16.2v1.0h-16.2zM1303.2 473.2h16.2v1.0h-16.2zM1347.8 473.2h16.2v1.0h-16.2zM1392.5 473.2h16.2v1.0h-16.2zM1437.1 473.2h16.2v1.0h-16.2zM344.2 591.0h1.0v3.6h-1.0zM346.4 591.0h1.0v3.6h-1.0zM381.6 591.0h1.0v3.6h-1.0zM383.8 591.0h1.0v3.6h-1.0zM386.0 591.0h1.0v3.6h-1.0zM388.2 591.0h1.0v3.6h-1.0zM390.4 591.0h1.0v3.6h-1.0zM392.6 591.0h1.0v3.6h-1.0zM394.8 591.0h1.0v3.6h-1.0zM397.0 591.0h1.0v3.6h-1.0zM423.4 591.0h1.0v3.6h-1.0zM425.6 591.0h1.0v3.6h-1.0zM427.8 591.0h1.0v3.6h-1.0zM430.0 591.0h1.0v3.6h-1.0zM432.2 591.0h1.0v3.6h-1.0zM434.4 591.0h1.0v3.6h-1.0zM471.8 591.0h1.0v3.6h-1.0zM474.0 591.0h1.0v3.6h-1.0zM476.2 591.0h1.0v3.6h-1.0zM478.4 591.0h1.0v3.6h-1.0zM480.6 591.0h1.0v3.6h-1.0zM482.8 591.0h1.0v3.6h-1.0zM485.0 591.0h1.0v3.6h-1.0zM487.2 591.0h1.0v3.6h-1.0zM511.4 591.0h1.0v3.6h-1.0zM513.6 591.0h1.0v3.6h-1.0zM515.8 591.0h1.0v3.6h-1.0zM518.0 591.0h1.0v3.6h-1.0zM520.2 591.0h1.0v3.6h-1.0zM723.7 591.0h1.0v3.6h-1.0zM725.9 591.0h1.0v3.6h-1.0zM761.1 591.0h1.0v3.6h-1.0zM763.3 591.0h1.0v3.6h-1.0zM765.5 591.0h1.0v3.6h-1.0zM767.7 591.0h1.0v3.6h-1.0zM769.9 591.0h1.0v3.6h-1.0zM772.1 591.0h1.0v3.6h-1.0zM774.3 591.0h1.0v3.6h-1.0zM776.5 591.0h1.0v3.6h-1.0zM802.9 591.0h1.0v3.6h-1.0zM805.1 591.0h1.0v3.6h-1.0zM807.3 591.0h1.0v3.6h-1.0zM809.5 591.0h1.0v3.6h-1.0zM811.7 591.0h1.0v3.6h-1.0zM813.9 591.0h1.0v3.6h-1.0zM851.3 591.0h1.0v3.6h-1.0zM853.5 591.0h1.0v3.6h-1.0zM855.7 591.0h1.0v3.6h-1.0zM857.9 591.0h1.0v3.6h-1.0zM860.1 591.0h1.0v3.6h-1.0zM862.3 591.0h1.0v3.6h-1.0zM864.5 591.0h1.0v3.6h-1.0zM866.7 591.0h1.0v3.6h-1.0zM890.9 591.0h1.0v3.6h-1.0zM893.1 591.0h1.0v3.6h-1.0zM895.3 591.0h1.0v3.6h-1.0zM897.5 591.0h1.0v3.6h-1.0zM899.7 591.0h1.0v3.6h-1.0zM901.9 591.0h1.0v3.6h-1.0zM904.1 591.0h1.0v3.6h-1.0zM939.3 591.0h1.0v3.6h-1.0zM941.5 591.0h1.0v3.6h-1.0zM943.7 591.0h1.0v3.6h-1.0zM945.9 591.0h1.0v3.6h-1.0zM948.1 591.0h1.0v3.6h-1.0zM950.3 591.0h1.0v3.6h-1.0zM952.5 591.0h1.0v3.6h-1.0zM954.7 591.0h1.0v3.6h-1.0zM981.1 591.0h1.0v3.6h-1.0zM983.3 591.0h1.0v3.6h-1.0zM985.5 591.0h1.0v3.6h-1.0zM987.7 591.0h1.0v3.6h-1.0zM1147.9 591.0h1.0v3.6h-1.0zM1150.1 591.0h1.0v3.6h-1.0zM1185.3 591.0h1.0v3.6h-1.0zM1187.5 591.0h1.0v3.6h-1.0zM1189.7 591.0h1.0v3.6h-1.0zM1191.9 591.0h1.0v3.6h-1.0zM1194.1 591.0h1.0v3.6h-1.0zM1196.3 591.0h1.0v3.6h-1.0zM1198.5 591.0h1.0v3.6h-1.0zM1200.7 591.0h1.0v3.6h-1.0zM1227.1 591.0h1.0v3.6h-1.0zM1229.3 591.0h1.0v3.6h-1.0zM1231.5 591.0h1.0v3.6h-1.0zM1233.7 591.0h1.0v3.6h-1.0zM1235.9 591.0h1.0v3.6h-1.0zM1238.1 591.0h1.0v3.6h-1.0zM1275.5 591.0h1.0v3.6h-1.0zM1277.7 591.0h1.0v3.6h-1.0zM1279.9 591.0h1.0v3.6h-1.0zM1282.1 591.0h1.0v3.6h-1.0zM1284.3 591.0h1.0v3.6h-1.0zM1286.5 591.0h1.0v3.6h-1.0zM1288.7 591.0h1.0v3.6h-1.0zM1290.9 591.0h1.0v3.6h-1.0zM1315.1 591.0h1.0v3.6h-1.0zM1317.3 591.0h1.0v3.6h-1.0zM1319.5 591.0h1.0v3.6h-1.0zM1321.7 591.0h1.0v3.6h-1.0zM1323.9 591.0h1.0v3.6h-1.0zM1326.1 591.0h1.0v3.6h-1.0zM1328.3 591.0h1.0v3.6h-1.0zM1363.5 591.0h1.0v3.6h-1.0zM1365.7 591.0h1.0v3.6h-1.0zM1367.9 591.0h1.0v3.6h-1.0zM1370.1 591.0h1.0v3.6h-1.0zM1372.3 591.0h1.0v3.6h-1.0zM1374.5 591.0h1.0v3.6h-1.0zM1376.7 591.0h1.0v3.6h-1.0zM1378.9 591.0h1.0v3.6h-1.0zM1405.3 591.0h1.0v3.6h-1.0zM1407.5 591.0h1.0v3.6h-1.0zM1409.7 591.0h1.0v3.6h-1.0zM1411.9 591.0h1.0v3.6h-1.0zM1414.1 591.0h1.0v3.6h-1.0zM1416.3 591.0h1.0v3.6h-1.0zM1453.7 591.0h1.0v3.6h-1.0zM1455.9 591.0h1.0v3.6h-1.0zM1458.1 591.0h1.0v3.6h-1.0zM1460.3 591.0h1.0v3.6h-1.0zM1462.5 591.0h1.0v3.6h-1.0zM1464.7 591.0h1.0v3.6h-1.0zM1466.9 591.0h1.0v3.6h-1.0zM1469.1 591.0h1.0v3.6h-1.0z"/>
<path fill-opacity="0.66" d="M75.3 129.8h22.6v6.1h-22.6zM97.9 129.8h17.9v4.8h-17.9zM116.8 131.5h2.5v4.1h-2.5zM119.9 129.8h22.6v6.1h-22.6zM142.5 129.8h17.9v4.8h-17.9zM161.4 131.5h2.5v4.1h-2.5zM164.6 129.8h22.6v6.1h-22.6zM187.2 129.8h17.9v4.8h-17.9zM206.1 131.5h2.5v4.1h-2.5zM209.2 129.8h22.6v6.1h-22.6zM231.8 129.8h17.9v4.8h-17.9zM250.8 131.5h2.5v4.1h-2.5zM253.9 129.8h22.6v6.1h-22.6zM276.5 129.8h17.9v4.8h-17.9zM295.4 131.5h2.5v4.1h-2.5zM544.1 129.8h22.6v6.1h-22.6zM566.7 129.8h17.9v4.8h-17.9zM585.6 131.5h2.5v4.1h-2.5zM588.8 129.8h22.6v6.1h-22.6zM611.4 129.8h17.9v4.8h-17.9zM630.3 131.5h2.5v4.1h-2.5zM633.4 129.8h22.6v6.1h-22.6zM656.0 129.8h17.9v4.8h-17.9zM674.9 131.5h2.5v4.1h-2.5zM678.1 129.8h22.6v6.1h-22.6zM700.7 129.8h10.9v4.8h-10.9zM298.3 129.6h23.4v5.0h-23.4zM321.7 130.6h21.6v3.2h-21.6zM353.2 465.6h23.0v1.6h-23.0zM397.8 465.6h23.0v1.6h-23.0zM442.5 465.6h23.0v1.6h-23.0zM487.1 465.6h23.0v1.6h-23.0zM732.7 465.6h23.0v1.6h-23.0zM777.4 465.6h23.0v1.6h-23.0zM822.0 465.6h23.0v1.6h-23.0zM866.7 465.6h23.0v1.6h-23.0zM911.3 465.6h23.0v1.6h-23.0zM956.0 465.6h23.0v1.6h-23.0zM1156.9 465.6h23.0v1.6h-23.0zM1201.5 465.6h23.0v1.6h-23.0zM1246.2 465.6h23.0v1.6h-23.0zM1290.9 465.6h23.0v1.6h-23.0zM1335.5 465.6h23.0v1.6h-23.0zM1380.2 465.6h23.0v1.6h-23.0zM1424.8 465.6h23.0v1.6h-23.0zM1469.5 465.6h12.3v1.6h-12.3zM365.2 504.4h14.7v3.2h-14.7zM409.9 504.4h14.7v3.2h-14.7zM454.5 504.4h14.7v3.2h-14.7zM499.2 504.4h14.7v3.2h-14.7zM744.7 504.4h14.7v3.2h-14.7zM789.4 504.4h14.7v3.2h-14.7zM834.0 504.4h14.7v3.2h-14.7zM878.7 504.4h14.7v3.2h-14.7zM923.3 504.4h14.7v3.2h-14.7zM968.0 504.4h14.7v3.2h-14.7zM1191.7 504.4h14.7v3.2h-14.7zM1236.3 504.4h14.7v3.2h-14.7zM1281.0 504.4h14.7v3.2h-14.7zM1325.6 504.4h14.7v3.2h-14.7zM1370.3 504.4h14.7v3.2h-14.7zM1414.9 504.4h14.7v3.2h-14.7zM1459.6 504.4h14.7v3.2h-14.7zM990.8 540.8h89.5v4.0h-89.5z"/>
<path fill-opacity="0.70" d="M376.2 131.4h9.0v1.6h-9.0zM420.8 131.4h9.0v1.6h-9.0zM465.5 131.4h9.0v1.6h-9.0zM510.1 131.4h9.0v1.6h-9.0zM755.7 131.4h9.0v1.6h-9.0zM800.4 131.4h9.0v1.6h-9.0zM845.0 131.4h9.0v1.6h-9.0zM889.7 131.4h9.0v1.6h-9.0zM934.3 131.4h9.0v1.6h-9.0zM979.0 131.4h9.0v1.6h-9.0zM1179.9 131.4h9.0v1.6h-9.0zM1224.5 131.4h9.0v1.6h-9.0zM1269.2 131.4h9.0v1.6h-9.0zM1313.9 131.4h9.0v1.6h-9.0zM1358.5 131.4h9.0v1.6h-9.0zM1403.2 131.4h9.0v1.6h-9.0zM1447.8 131.4h9.0v1.6h-9.0zM1058.0 261.0h22.0v1.0h-22.0zM298.8 298.5h44.5v2.8h-44.5zM87.0 425.7h1.3v1.4h-1.3zM91.6 425.7h1.3v1.4h-1.3zM113.6 425.7h1.3v1.4h-1.3zM131.6 425.7h1.3v1.4h-1.3zM136.2 425.7h1.3v1.4h-1.3zM158.2 425.7h1.3v1.4h-1.3zM176.3 425.7h1.3v1.4h-1.3zM180.9 425.7h1.3v1.4h-1.3zM202.9 425.7h1.3v1.4h-1.3zM220.9 425.7h1.3v1.4h-1.3zM225.6 425.7h1.3v1.4h-1.3zM247.6 425.7h1.3v1.4h-1.3zM265.6 425.7h1.3v1.4h-1.3zM270.2 425.7h1.3v1.4h-1.3zM292.2 425.7h1.3v1.4h-1.3zM75.3 428.9h1.6v1.3h-1.6zM78.1 428.9h1.6v1.3h-1.6zM80.9 428.9h1.6v1.3h-1.6zM83.7 428.9h1.6v1.3h-1.6zM86.5 428.9h1.6v1.3h-1.6zM89.3 428.9h1.6v1.3h-1.6zM92.0 428.9h1.6v1.3h-1.6zM94.8 428.9h1.6v1.3h-1.6zM97.6 428.9h1.6v1.3h-1.6zM100.4 428.9h1.6v1.3h-1.6zM103.2 428.9h1.6v1.3h-1.6zM106.0 428.9h1.6v1.3h-1.6zM108.8 428.9h1.6v1.3h-1.6zM111.6 428.9h1.6v1.3h-1.6zM114.4 428.9h1.6v1.3h-1.6zM117.2 428.9h1.6v1.3h-1.6zM120.0 428.9h1.6v1.3h-1.6zM122.7 428.9h1.6v1.3h-1.6zM125.5 428.9h1.6v1.3h-1.6zM128.3 428.9h1.6v1.3h-1.6zM131.1 428.9h1.6v1.3h-1.6zM133.9 428.9h1.6v1.3h-1.6zM136.7 428.9h1.6v1.3h-1.6zM139.5 428.9h1.6v1.3h-1.6zM142.3 428.9h1.6v1.3h-1.6zM145.1 428.9h1.6v1.3h-1.6zM147.9 428.9h1.6v1.3h-1.6zM150.6 428.9h1.6v1.3h-1.6zM153.4 428.9h1.6v1.3h-1.6zM156.2 428.9h1.6v1.3h-1.6zM159.0 428.9h1.6v1.3h-1.6zM161.8 428.9h1.6v1.3h-1.6zM164.6 428.9h1.6v1.3h-1.6zM167.4 428.9h1.6v1.3h-1.6zM170.2 428.9h1.6v1.3h-1.6zM173.0 428.9h1.6v1.3h-1.6zM175.8 428.9h1.6v1.3h-1.6zM178.6 428.9h1.6v1.3h-1.6zM181.3 428.9h1.6v1.3h-1.6zM184.1 428.9h1.6v1.3h-1.6zM186.9 428.9h1.6v1.3h-1.6zM189.7 428.9h1.6v1.3h-1.6zM192.5 428.9h1.6v1.3h-1.6zM195.3 428.9h1.6v1.3h-1.6zM198.1 428.9h1.6v1.3h-1.6zM200.9 428.9h1.6v1.3h-1.6zM203.7 428.9h1.6v1.3h-1.6zM206.5 428.9h1.6v1.3h-1.6zM209.3 428.9h1.6v1.3h-1.6zM212.0 428.9h1.6v1.3h-1.6zM214.8 428.9h1.6v1.3h-1.6zM217.6 428.9h1.6v1.3h-1.6zM220.4 428.9h1.6v1.3h-1.6zM223.2 428.9h1.6v1.3h-1.6zM226.0 428.9h1.6v1.3h-1.6zM228.8 428.9h1.6v1.3h-1.6zM231.6 428.9h1.6v1.3h-1.6zM234.4 428.9h1.6v1.3h-1.6zM237.2 428.9h1.6v1.3h-1.6zM239.9 428.9h1.6v1.3h-1.6zM242.7 428.9h1.6v1.3h-1.6zM245.5 428.9h1.6v1.3h-1.6zM248.3 428.9h1.6v1.3h-1.6zM251.1 428.9h1.6v1.3h-1.6zM253.9 428.9h1.6v1.3h-1.6zM256.7 428.9h1.6v1.3h-1.6zM259.5 428.9h1.6v1.3h-1.6zM262.3 428.9h1.6v1.3h-1.6zM265.1 428.9h1.6v1.3h-1.6zM267.9 428.9h1.6v1.3h-1.6zM270.6 428.9h1.6v1.3h-1.6zM273.4 428.9h1.6v1.3h-1.6zM276.2 428.9h1.6v1.3h-1.6zM279.0 428.9h1.6v1.3h-1.6zM281.8 428.9h1.6v1.3h-1.6zM284.6 428.9h1.6v1.3h-1.6zM287.4 428.9h1.6v1.3h-1.6zM290.2 428.9h1.6v1.3h-1.6zM293.0 428.9h1.6v1.3h-1.6zM295.8 428.9h1.6v1.3h-1.6zM555.8 425.7h1.3v1.4h-1.3zM560.4 425.7h1.3v1.4h-1.3zM582.4 425.7h1.3v1.4h-1.3zM600.5 425.7h1.3v1.4h-1.3zM605.1 425.7h1.3v1.4h-1.3zM627.1 425.7h1.3v1.4h-1.3zM645.1 425.7h1.3v1.4h-1.3zM649.7 425.7h1.3v1.4h-1.3zM671.7 425.7h1.3v1.4h-1.3zM689.8 425.7h1.3v1.4h-1.3zM694.4 425.7h1.3v1.4h-1.3zM544.1 428.9h1.6v1.3h-1.6zM546.9 428.9h1.6v1.3h-1.6zM549.7 428.9h1.6v1.3h-1.6zM552.5 428.9h1.6v1.3h-1.6zM555.3 428.9h1.6v1.3h-1.6zM558.1 428.9h1.6v1.3h-1.6zM560.9 428.9h1.6v1.3h-1.6zM563.7 428.9h1.6v1.3h-1.6zM566.4 428.9h1.6v1.3h-1.6zM569.2 428.9h1.6v1.3h-1.6zM572.0 428.9h1.6v1.3h-1.6zM574.8 428.9h1.6v1.3h-1.6zM577.6 428.9h1.6v1.3h-1.6zM580.4 428.9h1.6v1.3h-1.6zM583.2 428.9h1.6v1.3h-1.6zM586.0 428.9h1.6v1.3h-1.6zM588.8 428.9h1.6v1.3h-1.6zM591.6 428.9h1.6v1.3h-1.6zM594.4 428.9h1.6v1.3h-1.6zM597.1 428.9h1.6v1.3h-1.6zM599.9 428.9h1.6v1.3h-1.6zM602.7 428.9h1.6v1.3h-1.6zM605.5 428.9h1.6v1.3h-1.6zM608.3 428.9h1.6v1.3h-1.6zM611.1 428.9h1.6v1.3h-1.6zM613.9 428.9h1.6v1.3h-1.6zM616.7 428.9h1.6v1.3h-1.6zM619.5 428.9h1.6v1.3h-1.6zM622.3 428.9h1.6v1.3h-1.6zM625.1 428.9h1.6v1.3h-1.6zM627.8 428.9h1.6v1.3h-1.6zM630.6 428.9h1.6v1.3h-1.6zM633.4 428.9h1.6v1.3h-1.6zM636.2 428.9h1.6v1.3h-1.6zM639.0 428.9h1.6v1.3h-1.6zM641.8 428.9h1.6v1.3h-1.6zM644.6 428.9h1.6v1.3h-1.6zM647.4 428.9h1.6v1.3h-1.6zM650.2 428.9h1.6v1.3h-1.6zM653.0 428.9h1.6v1.3h-1.6zM655.7 428.9h1.6v1.3h-1.6zM658.5 428.9h1.6v1.3h-1.6zM661.3 428.9h1.6v1.3h-1.6zM664.1 428.9h1.6v1.3h-1.6zM666.9 428.9h1.6v1.3h-1.6zM669.7 428.9h1.6v1.3h-1.6zM672.5 428.9h1.6v1.3h-1.6zM675.3 428.9h1.6v1.3h-1.6zM678.1 428.9h1.6v1.3h-1.6zM680.9 428.9h1.6v1.3h-1.6zM683.7 428.9h1.6v1.3h-1.6zM686.4 428.9h1.6v1.3h-1.6zM689.2 428.9h1.6v1.3h-1.6zM692.0 428.9h1.6v1.3h-1.6zM694.8 428.9h1.6v1.3h-1.6zM697.6 428.9h1.6v1.3h-1.6zM700.4 428.9h1.6v1.3h-1.6zM703.2 428.9h1.6v1.3h-1.6zM706.0 428.9h1.6v1.3h-1.6zM708.8 428.9h1.6v1.3h-1.6zM343.2 470.3h11.0v1.1h-11.0zM354.2 471.7h11.3v1.1h-11.3zM387.8 470.3h11.0v1.1h-11.0zM398.8 471.7h11.3v1.1h-11.3zM432.5 470.3h11.0v1.1h-11.0zM443.5 471.7h11.3v1.1h-11.3zM477.1 470.3h11.0v1.1h-11.0zM488.1 471.7h11.3v1.1h-11.3zM722.7 470.3h11.0v1.1h-11.0zM733.7 471.7h11.3v1.1h-11.3zM767.4 470.3h11.0v1.1h-11.0zM778.4 471.7h11.3v1.1h-11.3zM812.0 470.3h11.0v1.1h-11.0zM823.0 471.7h11.3v1.1h-11.3zM856.7 470.3h11.0v1.1h-11.0zM867.7 471.7h11.3v1.1h-11.3zM901.3 470.3h11.0v1.1h-11.0zM912.3 471.7h11.3v1.1h-11.3zM946.0 470.3h11.0v1.1h-11.0zM957.0 471.7h11.3v1.1h-11.3zM1146.9 470.3h11.0v1.1h-11.0zM1157.9 471.7h11.3v1.1h-11.3zM1191.5 470.3h11.0v1.1h-11.0zM1202.5 471.7h11.3v1.1h-11.3zM1236.2 470.3h11.0v1.1h-11.0zM1247.2 471.7h11.3v1.1h-11.3zM1280.9 470.3h11.0v1.1h-11.0zM1291.9 471.7h11.3v1.1h-11.3zM1325.5 470.3h11.0v1.1h-11.0zM1336.5 471.7h11.3v1.1h-11.3zM1370.2 470.3h11.0v1.1h-11.0zM1381.2 471.7h11.3v1.1h-11.3zM1414.8 470.3h11.0v1.1h-11.0zM1425.8 471.7h11.3v1.1h-11.3zM1459.5 470.3h11.0v1.1h-11.0zM1470.5 471.7h11.3v1.1h-11.3zM1135.0 471.6h12.0v1.2h-12.0zM995.0 505.1h18.0v1.2h-18.0zM1013.0 505.1h23.5v1.2h-23.5zM1040.0 505.1h18.0v1.2h-18.0zM1058.0 505.1h11.0v1.2h-11.0zM1135.0 547.6h11.9v2.0h-11.9zM1392.0 545.5h12.0v0.9h-12.0zM1403.0 546.6h12.0v1.2h-12.0zM1437.0 545.5h12.0v0.9h-12.0zM1448.0 546.6h12.0v1.2h-12.0zM343.2 591.0h4.5v3.6h-4.5zM378.7 591.0h1.5v3.4h-1.5zM381.4 591.6h1.2v2.8h-1.2zM411.2 591.0h1.3v3.4h-1.3zM413.7 591.4h1.1v3.0h-1.1zM432.5 591.0h4.5v3.6h-4.5zM468.0 591.0h1.5v3.4h-1.5zM470.7 591.6h1.2v2.8h-1.2zM500.5 591.0h1.3v3.4h-1.3zM503.0 591.4h1.1v3.0h-1.1zM343.2 593.1h178.6v1.5h-178.6zM722.7 591.0h4.5v3.6h-4.5zM758.2 591.0h1.5v3.4h-1.5zM760.9 591.6h1.2v2.8h-1.2zM790.7 591.0h1.3v3.4h-1.3zM793.2 591.4h1.1v3.0h-1.1zM812.0 591.0h4.5v3.6h-4.5zM847.5 591.0h1.5v3.4h-1.5zM850.2 591.6h1.2v2.8h-1.2zM880.0 591.0h1.3v3.4h-1.3zM882.5 591.4h1.1v3.0h-1.1zM901.3 591.0h4.5v3.6h-4.5zM936.8 591.0h1.5v3.4h-1.5zM939.5 591.6h1.2v2.8h-1.2zM969.3 591.0h1.3v3.4h-1.3zM971.8 591.4h1.1v3.0h-1.1zM722.7 593.1h267.9v1.5h-267.9zM1146.9 591.0h4.5v3.6h-4.5zM1182.4 591.0h1.5v3.4h-1.5zM1185.1 591.6h1.2v2.8h-1.2zM1214.9 591.0h1.3v3.4h-1.3zM1217.4 591.4h1.1v3.0h-1.1zM1236.2 591.0h4.5v3.6h-4.5zM1271.7 591.0h1.5v3.4h-1.5zM1274.4 591.6h1.2v2.8h-1.2zM1304.2 591.0h1.3v3.4h-1.3zM1306.7 591.4h1.1v3.0h-1.1zM1325.5 591.0h4.5v3.6h-4.5zM1361.0 591.0h1.5v3.4h-1.5zM1363.7 591.6h1.2v2.8h-1.2zM1393.5 591.0h1.3v3.4h-1.3zM1396.0 591.4h1.1v3.0h-1.1zM1414.8 591.0h4.5v3.6h-4.5zM1450.3 591.0h1.5v3.4h-1.5zM1453.0 591.6h1.2v2.8h-1.2zM1146.9 593.1h334.9v1.5h-334.9zM1381.7 627.4h10.0v1.2h-10.0zM1386.7 631.2h5.8v1.2h-5.8zM1470.0 624.4h6.0v1.2h-6.0zM1470.0 629.1h11.7v1.2h-11.7z"/>
<path fill-opacity="0.72" d="M901.7 626.1h11.7v1.3h-11.7zM913.4 627.1h10.8v1.3h-10.8zM924.2 628.4h14.2v1.3h-14.2zM938.4 629.8h4.1v1.3h-4.1zM942.5 628.4h5.0v1.3h-5.0zM946.7 626.1h11.0v1.3h-11.0zM957.7 627.1h6.5v1.3h-6.5zM964.2 627.8h5.0v1.3h-5.0zM1303.3 626.1h11.7v1.3h-11.7zM1315.0 627.1h10.8v1.3h-10.8zM1325.8 628.4h14.2v1.3h-14.2zM1340.0 629.8h4.1v1.3h-4.1zM1344.1 628.4h5.0v1.3h-5.0zM1348.3 626.1h11.0v1.3h-11.0zM1359.3 627.1h6.5v1.3h-6.5zM1365.8 627.8h5.0v1.3h-5.0zM1392.5 626.1h11.7v1.3h-11.7zM1404.2 627.1h10.8v1.3h-10.8zM1415.0 628.4h14.2v1.3h-14.2zM1429.2 629.8h4.1v1.3h-4.1zM1433.3 628.4h5.0v1.3h-5.0zM1437.5 626.1h11.0v1.3h-11.0zM1448.5 627.1h6.5v1.3h-6.5zM1455.0 627.8h5.0v1.3h-5.0z"/>
<path fill-opacity="0.75" d="M1146.7 43.1h22.5v1.3h-22.5zM1158.3 39.6h10.9v1.3h-10.9zM1177.5 43.1h14.2v1.3h-14.2zM1180.8 39.6h10.0v1.3h-10.0zM1190.8 40.6h9.2v1.3h-9.2zM1200.0 41.6h14.2v1.3h-14.2zM1203.3 39.6h10.9v1.3h-10.9zM1222.5 43.1h13.3v1.3h-13.3zM1225.0 39.6h10.8v1.3h-10.8zM1243.3 43.1h15.0v1.3h-15.0zM1247.5 39.6h10.8v1.3h-10.8zM1267.5 43.1h13.3v1.3h-13.3zM1270.0 39.6h5.0v1.3h-5.0zM1276.7 39.6h4.1v1.3h-4.1zM1284.2 39.6h5.8v1.3h-5.8zM1289.2 40.9h5.0v1.3h-5.0zM1292.5 39.6h10.8v1.3h-10.8zM1298.3 41.9h5.0v1.3h-5.0zM343.2 255.9h22.0v1.5h-22.0zM377.7 259.1h4.0v1.1h-4.0zM387.8 255.9h22.0v1.5h-22.0zM422.3 259.1h4.0v1.1h-4.0zM432.5 255.9h22.0v1.5h-22.0zM467.0 259.1h4.0v1.1h-4.0zM477.1 255.9h22.0v1.5h-22.0zM511.6 259.1h4.0v1.1h-4.0zM722.7 255.9h22.0v1.5h-22.0zM757.2 259.1h4.0v1.1h-4.0zM767.4 255.9h22.0v1.5h-22.0zM801.9 259.1h4.0v1.1h-4.0zM812.0 255.9h22.0v1.5h-22.0zM846.5 259.1h4.0v1.1h-4.0zM856.7 255.9h22.0v1.5h-22.0zM891.2 259.1h4.0v1.1h-4.0zM901.3 255.9h22.0v1.5h-22.0zM935.8 259.1h4.0v1.1h-4.0zM946.0 255.9h22.0v1.5h-22.0zM980.5 259.1h4.0v1.1h-4.0zM1146.9 255.9h22.0v1.5h-22.0zM1181.4 259.1h4.0v1.1h-4.0zM1191.5 255.9h22.0v1.5h-22.0zM1226.0 259.1h4.0v1.1h-4.0zM1236.2 255.9h22.0v1.5h-22.0zM1270.7 259.1h4.0v1.1h-4.0zM1280.9 255.9h22.0v1.5h-22.0zM1315.4 259.1h4.0v1.1h-4.0zM1325.5 255.9h22.0v1.5h-22.0zM1360.0 259.1h4.0v1.1h-4.0zM1370.2 255.9h22.0v1.5h-22.0zM1404.7 259.1h4.0v1.1h-4.0zM1414.8 255.9h22.0v1.5h-22.0zM1449.3 259.1h4.0v1.1h-4.0zM1459.5 255.9h22.0v1.5h-22.0zM343.4 296.3h1.7v2.4h-1.7zM349.0 296.3h1.7v2.4h-1.7zM354.6 296.3h1.7v2.4h-1.7zM360.1 296.3h1.7v2.4h-1.7zM365.7 296.3h1.7v2.4h-1.7zM371.3 296.3h1.7v2.4h-1.7zM376.9 296.3h1.7v2.4h-1.7zM382.5 296.3h1.7v2.4h-1.7zM393.6 296.3h1.7v2.4h-1.7zM399.2 296.3h1.7v2.4h-1.7zM404.8 296.3h1.7v2.4h-1.7zM410.4 296.3h1.7v2.4h-1.7zM415.9 296.3h1.7v2.4h-1.7zM421.5 296.3h1.7v2.4h-1.7zM427.1 296.3h1.7v2.4h-1.7zM438.3 296.3h1.7v2.4h-1.7zM443.8 296.3h1.7v2.4h-1.7zM449.4 296.3h1.7v2.4h-1.7zM455.0 296.3h1.7v2.4h-1.7zM460.6 296.3h1.7v2.4h-1.7zM466.2 296.3h1.7v2.4h-1.7zM471.7 296.3h1.7v2.4h-1.7zM482.9 296.3h1.7v2.4h-1.7zM488.5 296.3h1.7v2.4h-1.7zM494.1 296.3h1.7v2.4h-1.7zM499.6 296.3h1.7v2.4h-1.7zM505.2 296.3h1.7v2.4h-1.7zM510.8 296.3h1.7v2.4h-1.7zM516.4 296.3h1.7v2.4h-1.7zM722.9 296.3h1.7v2.4h-1.7zM728.5 296.3h1.7v2.4h-1.7zM734.1 296.3h1.7v2.4h-1.7zM739.7 296.3h1.7v2.4h-1.7zM745.2 296.3h1.7v2.4h-1.7zM750.8 296.3h1.7v2.4h-1.7zM756.4 296.3h1.7v2.4h-1.7zM762.0 296.3h1.7v2.4h-1.7zM773.1 296.3h1.7v2.4h-1.7zM778.7 296.3h1.7v2.4h-1.7zM784.3 296.3h1.7v2.4h-1.7zM789.9 296.3h1.7v2.4h-1.7zM795.5 296.3h1.7v2.4h-1.7zM801.0 296.3h1.7v2.4h-1.7zM806.6 296.3h1.7v2.4h-1.7zM817.8 296.3h1.7v2.4h-1.7zM823.4 296.3h1.7v2.4h-1.7zM828.9 296.3h1.7v2.4h-1.7zM834.5 296.3h1.7v2.4h-1.7zM840.1 296.3h1.7v2.4h-1.7zM845.7 296.3h1.7v2.4h-1.7zM851.3 296.3h1.7v2.4h-1.7zM862.4 296.3h1.7v2.4h-1.7zM868.0 296.3h1.7v2.4h-1.7zM873.6 296.3h1.7v2.4h-1.7zM879.2 296.3h1.7v2.4h-1.7zM884.7 296.3h1.7v2.4h-1.7zM890.3 296.3h1.7v2.4h-1.7zM895.9 296.3h1.7v2.4h-1.7zM907.1 296.3h1.7v2.4h-1.7zM912.6 296.3h1.7v2.4h-1.7zM918.2 296.3h1.7v2.4h-1.7zM923.8 296.3h1.7v2.4h-1.7zM929.4 296.3h1.7v2.4h-1.7zM935.0 296.3h1.7v2.4h-1.7zM940.5 296.3h1.7v2.4h-1.7zM951.7 296.3h1.7v2.4h-1.7zM957.3 296.3h1.7v2.4h-1.7zM962.9 296.3h1.7v2.4h-1.7zM968.4 296.3h1.7v2.4h-1.7zM974.0 296.3h1.7v2.4h-1.7zM979.6 296.3h1.7v2.4h-1.7zM985.2 296.3h1.7v2.4h-1.7zM1147.1 296.3h1.7v2.4h-1.7zM1152.7 296.3h1.7v2.4h-1.7zM1158.3 296.3h1.7v2.4h-1.7zM1163.8 296.3h1.7v2.4h-1.7zM1169.4 296.3h1.7v2.4h-1.7zM1175.0 296.3h1.7v2.4h-1.7zM1180.6 296.3h1.7v2.4h-1.7zM1186.2 296.3h1.7v2.4h-1.7zM1197.3 296.3h1.7v2.4h-1.7zM1202.9 296.3h1.7v2.4h-1.7zM1208.5 296.3h1.7v2.4h-1.7zM1214.1 296.3h1.7v2.4h-1.7zM1219.6 296.3h1.7v2.4h-1.7zM1225.2 296.3h1.7v2.4h-1.7zM1230.8 296.3h1.7v2.4h-1.7zM1242.0 296.3h1.7v2.4h-1.7zM1247.5 296.3h1.7v2.4h-1.7zM1253.1 296.3h1.7v2.4h-1.7zM1258.7 296.3h1.7v2.4h-1.7zM1264.3 296.3h1.7v2.4h-1.7zM1269.9 296.3h1.7v2.4h-1.7zM1275.4 296.3h1.7v2.4h-1.7zM1286.6 296.3h1.7v2.4h-1.7zM1292.2 296.3h1.7v2.4h-1.7zM1297.8 296.3h1.7v2.4h-1.7zM1303.3 296.3h1.7v2.4h-1.7zM1308.9 296.3h1.7v2.4h-1.7zM1314.5 296.3h1.7v2.4h-1.7zM1320.1 296.3h1.7v2.4h-1.7zM1331.2 296.3h1.7v2.4h-1.7zM1336.8 296.3h1.7v2.4h-1.7zM1342.4 296.3h1.7v2.4h-1.7zM1348.0 296.3h1.7v2.4h-1.7zM1353.6 296.3h1.7v2.4h-1.7zM1359.1 296.3h1.7v2.4h-1.7zM1364.7 296.3h1.7v2.4h-1.7zM1375.9 296.3h1.7v2.4h-1.7zM1381.5 296.3h1.7v2.4h-1.7zM1387.0 296.3h1.7v2.4h-1.7zM1392.6 296.3h1.7v2.4h-1.7zM1398.2 296.3h1.7v2.4h-1.7zM1403.8 296.3h1.7v2.4h-1.7zM1409.4 296.3h1.7v2.4h-1.7zM1420.5 296.3h1.7v2.4h-1.7zM1426.1 296.3h1.7v2.4h-1.7zM1431.7 296.3h1.7v2.4h-1.7zM1437.3 296.3h1.7v2.4h-1.7zM1442.8 296.3h1.7v2.4h-1.7zM1448.4 296.3h1.7v2.4h-1.7zM1454.0 296.3h1.7v2.4h-1.7zM1465.2 296.3h1.7v2.4h-1.7zM1470.7 296.3h1.7v2.4h-1.7zM1476.3 296.3h1.7v2.4h-1.7zM544.1 504.3h12.0v3.3h-12.0zM588.8 504.3h12.0v3.3h-12.0zM633.4 504.3h12.0v3.3h-12.0zM678.1 504.3h12.0v3.3h-12.0zM1002.5 502.8h5.8v1.1h-5.8zM1023.3 502.8h11.7v1.1h-11.7zM1047.5 502.8h4.2v1.1h-4.2zM1064.0 502.8h10.0v1.1h-10.0zM383.7 593.6h3.5v1.0h-3.5zM416.2 593.4h3.5v1.1h-3.5zM473.0 593.6h3.5v1.0h-3.5zM505.5 593.4h3.5v1.1h-3.5zM763.2 593.6h3.5v1.0h-3.5zM795.7 593.4h3.5v1.1h-3.5zM852.5 593.6h3.5v1.0h-3.5zM885.0 593.4h3.5v1.1h-3.5zM941.8 593.6h3.5v1.0h-3.5zM974.3 593.4h3.5v1.1h-3.5zM1187.4 593.6h3.5v1.0h-3.5zM1219.9 593.4h3.5v1.1h-3.5zM1276.7 593.6h3.5v1.0h-3.5zM1309.2 593.4h3.5v1.1h-3.5zM1366.0 593.6h3.5v1.0h-3.5zM1398.5 593.4h3.5v1.1h-3.5zM1455.3 593.6h3.5v1.0h-3.5zM1386.7 629.6h5.8v1.2h-5.8zM1472.0 626.6h9.7v1.2h-9.7z"/>
<path fill-opacity="0.78" d="M75.3 298.0h44.6v2.7h-44.6zM119.9 298.0h44.7v2.7h-44.7zM164.6 298.0h44.7v2.7h-44.7zM209.2 298.0h44.7v2.7h-44.7zM253.9 298.0h44.7v2.7h-44.7zM544.1 298.0h44.6v2.7h-44.6zM588.8 298.0h44.6v2.7h-44.6zM633.4 298.0h44.6v2.7h-44.6zM678.1 298.0h33.5v2.7h-33.5zM343.2 548.0h22.3v4.6h-22.3zM387.8 548.0h22.3v4.6h-22.3zM432.5 548.0h22.3v4.6h-22.3zM477.1 548.0h22.3v4.6h-22.3zM722.7 548.0h22.3v4.6h-22.3zM767.4 548.0h22.3v4.6h-22.3zM812.0 548.0h22.3v4.6h-22.3zM856.7 548.0h22.3v4.6h-22.3zM901.3 548.0h22.3v4.6h-22.3zM946.0 548.0h22.3v4.6h-22.3zM1146.9 548.0h22.3v4.6h-22.3zM1191.5 548.0h22.3v4.6h-22.3zM1236.2 548.0h22.3v4.6h-22.3zM1280.9 548.0h22.3v4.6h-22.3zM1325.5 548.0h22.3v4.6h-22.3zM1370.2 548.0h22.3v4.6h-22.3zM1414.8 548.0h22.3v4.6h-22.3zM1459.5 548.0h22.3v4.6h-22.3z"/>
<path fill-opacity="0.80" d="M75.3 92.5h16.7v1.6h-16.7zM92.0 91.2h20.0v1.6h-20.0zM114.3 92.7h2.5v1.6h-2.5zM119.9 92.5h16.7v1.6h-16.7zM136.6 91.2h20.0v1.6h-20.0zM158.9 92.7h2.5v1.6h-2.5zM164.6 92.5h16.7v1.6h-16.7zM181.3 91.2h20.0v1.6h-20.0zM203.6 92.7h2.5v1.6h-2.5zM209.2 92.5h16.7v1.6h-16.7zM225.9 91.2h20.0v1.6h-20.0zM248.2 92.7h2.5v1.6h-2.5zM253.9 92.5h16.7v1.6h-16.7zM270.6 91.2h20.0v1.6h-20.0zM292.9 92.7h2.5v1.6h-2.5zM298.3 93.2h21.7v1.6h-21.7zM321.7 92.5h21.6v1.6h-21.6zM343.2 96.2h11.7v1.6h-11.7zM354.9 97.4h10.8v1.6h-10.8zM365.7 95.4h21.7v1.6h-21.7zM387.8 96.2h11.7v1.6h-11.7zM399.5 97.4h10.8v1.6h-10.8zM410.3 95.4h21.7v1.6h-21.7zM432.5 96.2h11.7v1.6h-11.7zM444.2 97.4h10.8v1.6h-10.8zM455.0 95.4h21.7v1.6h-21.7zM477.1 96.2h11.7v1.6h-11.7zM488.8 97.4h10.8v1.6h-10.8zM499.6 95.4h21.7v1.6h-21.7zM544.1 92.0h16.7v1.6h-16.7zM560.8 95.2h21.6v1.6h-21.6zM584.1 92.5h3.0v1.6h-3.0zM588.8 92.0h16.7v1.6h-16.7zM605.5 95.2h21.6v1.6h-21.6zM628.8 92.5h3.0v1.6h-3.0zM633.4 92.0h16.7v1.6h-16.7zM650.1 95.2h21.6v1.6h-21.6zM673.4 92.5h3.0v1.6h-3.0zM678.1 92.0h16.7v1.6h-16.7zM694.8 95.2h16.8v1.6h-16.8zM722.7 96.1h11.7v1.6h-11.7zM734.4 97.4h10.8v1.6h-10.8zM745.2 95.4h22.1v1.6h-22.1zM767.4 96.1h11.7v1.6h-11.7zM779.1 97.4h10.8v1.6h-10.8zM789.9 95.4h22.1v1.6h-22.1zM812.0 96.1h11.7v1.6h-11.7zM823.7 97.4h10.8v1.6h-10.8zM834.5 95.4h22.1v1.6h-22.1zM856.7 96.1h11.7v1.6h-11.7zM868.4 97.4h10.8v1.6h-10.8zM879.2 95.4h22.1v1.6h-22.1zM901.3 96.1h11.7v1.6h-11.7zM913.0 97.4h10.8v1.6h-10.8zM923.8 95.4h22.1v1.6h-22.1zM946.0 96.1h11.7v1.6h-11.7zM957.7 97.4h10.8v1.6h-10.8zM968.5 95.4h22.1v1.6h-22.1zM990.0 97.4h23.3v1.6h-23.3zM1013.3 96.5h21.7v1.6h-21.7zM1035.0 97.4h23.3v1.6h-23.3zM1058.3 96.5h20.0v1.6h-20.0zM1135.0 97.4h11.9v1.6h-11.9zM1146.9 95.4h21.7v1.6h-21.7zM1168.6 96.2h12.3v1.6h-12.3zM1180.9 97.4h10.7v1.6h-10.7zM1191.5 95.4h21.7v1.6h-21.7zM1213.2 96.2h12.3v1.6h-12.3zM1225.5 97.4h10.7v1.6h-10.7zM1236.2 95.4h21.7v1.6h-21.7zM1257.9 96.2h12.3v1.6h-12.3zM1270.2 97.4h10.7v1.6h-10.7zM1280.9 95.4h21.7v1.6h-21.7zM1302.6 96.2h12.3v1.6h-12.3zM1314.9 97.4h10.7v1.6h-10.7zM1325.5 95.4h21.7v1.6h-21.7zM1347.2 96.2h12.3v1.6h-12.3zM1359.5 97.4h10.7v1.6h-10.7zM1370.2 95.4h21.7v1.6h-21.7zM1391.9 96.2h12.3v1.6h-12.3zM1404.2 97.4h10.7v1.6h-10.7zM1414.8 95.4h21.7v1.6h-21.7zM1436.5 96.2h12.3v1.6h-12.3zM1448.8 97.4h10.7v1.6h-10.7zM1459.5 95.4h21.7v1.6h-21.7zM1481.2 96.2h0.6v1.6h-0.6zM343.2 129.0h44.6v2.4h-44.6zM353.9 131.4h12.6v1.8h-12.6zM387.8 129.0h44.6v2.4h-44.6zM398.5 131.4h12.6v1.8h-12.6zM432.5 129.0h44.6v2.4h-44.6zM443.2 131.4h12.6v1.8h-12.6zM477.1 129.0h44.7v2.4h-44.7zM487.8 131.4h12.6v1.8h-12.6zM722.7 129.0h44.6v2.4h-44.6zM733.4 131.4h12.6v1.8h-12.6zM767.4 129.0h44.6v2.4h-44.6zM778.1 131.4h12.6v1.8h-12.6zM812.0 129.0h44.6v2.4h-44.6zM822.7 131.4h12.6v1.8h-12.6zM856.7 129.0h44.6v2.4h-44.6zM867.4 131.4h12.6v1.8h-12.6zM901.3 129.0h44.6v2.4h-44.6zM912.0 131.4h12.6v1.8h-12.6zM946.0 129.0h44.6v2.4h-44.6zM956.7 131.4h12.6v1.8h-12.6zM1146.9 129.0h44.7v2.4h-44.7zM1157.6 131.4h12.6v1.8h-12.6zM1191.5 129.0h44.7v2.4h-44.7zM1202.2 131.4h12.6v1.8h-12.6zM1236.2 129.0h44.7v2.4h-44.7zM1246.9 131.4h12.6v1.8h-12.6zM1280.9 129.0h44.7v2.4h-44.7zM1291.6 131.4h12.6v1.8h-12.6zM1325.5 129.0h44.7v2.4h-44.7zM1336.2 131.4h12.6v1.8h-12.6zM1370.2 129.0h44.7v2.4h-44.7zM1380.9 131.4h12.6v1.8h-12.6zM1414.8 129.0h44.7v2.4h-44.7zM1425.5 131.4h12.6v1.8h-12.6zM1459.5 129.0h22.3v2.4h-22.3zM1470.2 131.4h11.6v1.8h-11.6zM114.0 171.6h3.8v1.4h-3.8zM121.9 171.2h4.8v1.4h-4.8zM135.0 171.6h4.5v1.4h-4.5zM144.3 171.2h5.7v1.4h-5.7zM159.0 171.6h8.6v1.4h-8.6zM176.7 171.2h10.8v1.4h-10.8zM202.5 171.6h3.4v1.4h-3.4zM209.6 171.2h4.4v1.4h-4.4zM221.7 171.6h5.5v1.4h-5.5zM233.0 171.2h7.0v1.4h-7.0zM247.5 171.6h9.1v1.4h-9.1zM266.4 171.2h11.6v1.4h-11.6zM297.5 171.6h2.8v1.4h-2.8zM303.2 171.2h3.5v1.4h-3.5zM315.0 171.6h4.5v1.4h-4.5zM324.3 171.2h5.7v1.4h-5.7zM340.0 171.6h3.5v1.4h-3.5zM347.3 171.2h4.4v1.4h-4.4zM360.0 171.6h2.2v1.4h-2.2zM364.6 171.2h2.9v1.4h-2.9zM381.0 170.7h4.0v1.8h-4.0zM387.5 171.6h7.9v1.4h-7.9zM403.9 171.2h10.1v1.4h-10.1zM429.0 171.6h8.1v1.4h-8.1zM445.7 171.2h10.3v1.4h-10.3zM470.0 170.7h4.0v1.8h-4.0zM476.0 171.6h7.9v1.4h-7.9zM492.4 171.2h10.1v1.4h-10.1zM514.0 171.6h2.5v1.4h-2.5zM519.3 171.2h3.2v1.4h-3.2zM524.5 170.7h1.5v1.8h-1.5zM536.7 171.6h4.2v1.4h-4.2zM545.4 171.2h5.4v1.4h-5.4zM559.0 171.6h5.0v1.4h-5.0zM569.4 171.2h6.4v1.4h-6.4zM583.0 171.6h8.9v1.4h-8.9zM601.3 171.2h11.2v1.4h-11.2zM625.8 171.6h4.0v1.4h-4.0zM634.0 171.2h5.0v1.4h-5.0zM648.0 171.6h4.8v1.4h-4.8zM657.9 171.2h6.1v1.4h-6.1zM674.0 171.6h8.3v1.4h-8.3zM691.2 171.2h10.5v1.4h-10.5zM715.8 171.6h5.0v1.4h-5.0zM726.2 171.2h6.3v1.4h-6.3zM739.0 171.6h2.5v1.4h-2.5zM744.3 171.2h3.2v1.4h-3.2zM760.0 170.7h4.0v1.8h-4.0zM767.5 171.6h7.7v1.4h-7.7zM783.5 171.2h9.8v1.4h-9.8zM809.0 171.6h8.0v1.4h-8.0zM825.6 171.2h10.2v1.4h-10.2zM849.0 170.7h4.0v1.8h-4.0zM856.7 171.6h7.5v1.4h-7.5zM872.2 171.2h9.5v1.4h-9.5zM893.0 171.6h2.6v1.4h-2.6zM898.4 171.2h3.3v1.4h-3.3zM903.8 170.7h1.4v1.8h-1.4zM912.5 171.6h5.2v1.4h-5.2zM923.4 171.2h6.6v1.4h-6.6zM938.0 171.6h2.6v1.4h-2.6zM943.4 171.2h3.3v1.4h-3.3zM949.5 170.7h1.5v1.8h-1.5zM956.7 171.6h7.0v1.4h-7.0zM971.1 171.2h8.9v1.4h-8.9zM987.5 170.7h2.5v1.8h-2.5zM989.0 171.6h7.0v1.4h-7.0zM1003.6 171.2h8.9v1.4h-8.9zM1033.0 171.6h11.1v1.4h-11.1zM1055.9 171.2h14.1v1.4h-14.1zM1077.5 171.6h9.0v1.4h-9.0zM1096.1 171.2h11.4v1.4h-11.4zM1120.8 171.6h3.5v1.4h-3.5zM1128.1 171.2h4.4v1.4h-4.4zM1140.8 171.6h2.5v1.4h-2.5zM1145.9 171.2h3.1v1.4h-3.1zM1161.7 170.7h4.1v1.8h-4.1zM1167.5 171.6h8.2v1.4h-8.2zM1184.5 171.2h10.5v1.4h-10.5zM1358.0 171.6h7.1v1.4h-7.1zM1372.7 171.2h9.0v1.4h-9.0zM1403.0 171.6h5.8v1.4h-5.8zM1415.1 171.2h7.4v1.4h-7.4zM1430.0 171.6h2.4v1.4h-2.4zM1435.0 171.2h3.0v1.4h-3.0zM1441.2 170.7h1.4v1.8h-1.4zM1448.0 171.6h6.8v1.4h-6.8zM1462.1 171.2h8.7v1.4h-8.7zM1474.0 171.6h2.7v1.4h-2.7zM1479.6 171.2h3.4v1.4h-3.4zM1485.3 170.7h1.3v1.8h-1.3zM381.0 212.2h4.0v2.4h-4.0zM470.0 212.2h4.0v2.4h-4.0zM760.0 212.2h4.0v2.4h-4.0zM849.0 212.2h4.0v2.4h-4.0zM1161.7 212.2h4.1v2.4h-4.1zM298.3 255.9h22.7v1.6h-22.7zM298.3 261.5h45.0v1.0h-45.0zM990.6 261.5h22.4v1.0h-22.4zM1013.0 257.3h22.0v1.0h-22.0zM1013.0 258.9h22.0v1.0h-22.0zM1035.0 261.6h23.0v1.0h-23.0zM1058.0 259.5h22.0v1.0h-22.0zM343.2 298.7h2.8v2.2h-2.8zM346.0 298.7h2.8v2.2h-2.8zM348.8 298.7h2.8v2.2h-2.8zM351.6 298.7h2.8v2.2h-2.8zM354.4 298.7h2.8v2.2h-2.8zM357.2 298.7h2.8v2.2h-2.8zM359.9 298.7h2.8v2.2h-2.8zM362.7 298.7h2.8v2.2h-2.8zM365.5 298.7h2.8v2.2h-2.8zM371.1 298.7h2.8v2.2h-2.8zM373.9 298.7h2.8v2.2h-2.8zM376.7 298.7h2.8v2.2h-2.8zM379.5 298.7h2.8v2.2h-2.8zM382.3 298.7h2.8v2.2h-2.8zM385.1 298.7h2.8v2.2h-2.8zM390.6 298.7h2.8v2.2h-2.8zM393.4 298.7h2.8v2.2h-2.8zM396.2 298.7h2.8v2.2h-2.8zM399.0 298.7h2.8v2.2h-2.8zM401.8 298.7h2.8v2.2h-2.8zM404.6 298.7h2.8v2.2h-2.8zM407.4 298.7h2.8v2.2h-2.8zM410.2 298.7h2.8v2.2h-2.8zM415.7 298.7h2.8v2.2h-2.8zM418.5 298.7h2.8v2.2h-2.8zM421.3 298.7h2.8v2.2h-2.8zM424.1 298.7h2.8v2.2h-2.8zM426.9 298.7h2.8v2.2h-2.8zM429.7 298.7h2.8v2.2h-2.8zM435.3 298.7h2.8v2.2h-2.8zM438.1 298.7h2.8v2.2h-2.8zM440.9 298.7h2.8v2.2h-2.8zM443.6 298.7h2.8v2.2h-2.8zM446.4 298.7h2.8v2.2h-2.8zM449.2 298.7h2.8v2.2h-2.8zM452.0 298.7h2.8v2.2h-2.8zM454.8 298.7h2.8v2.2h-2.8zM460.4 298.7h2.8v2.2h-2.8zM463.2 298.7h2.8v2.2h-2.8zM466.0 298.7h2.8v2.2h-2.8zM468.8 298.7h2.8v2.2h-2.8zM471.5 298.7h2.8v2.2h-2.8zM474.3 298.7h2.8v2.2h-2.8zM479.9 298.7h2.8v2.2h-2.8zM482.7 298.7h2.8v2.2h-2.8zM485.5 298.7h2.8v2.2h-2.8zM488.3 298.7h2.8v2.2h-2.8zM491.1 298.7h2.8v2.2h-2.8zM493.9 298.7h2.8v2.2h-2.8zM496.7 298.7h2.8v2.2h-2.8zM499.4 298.7h2.8v2.2h-2.8zM505.0 298.7h2.8v2.2h-2.8zM507.8 298.7h2.8v2.2h-2.8zM510.6 298.7h2.8v2.2h-2.8zM513.4 298.7h2.8v2.2h-2.8zM516.2 298.7h2.8v2.2h-2.8zM519.0 298.7h2.8v2.2h-2.8zM722.7 298.7h2.8v2.2h-2.8zM725.5 298.7h2.8v2.2h-2.8zM728.3 298.7h2.8v2.2h-2.8zM731.1 298.7h2.8v2.2h-2.8zM733.9 298.7h2.8v2.2h-2.8zM736.7 298.7h2.8v2.2h-2.8zM739.5 298.7h2.8v2.2h-2.8zM742.3 298.7h2.8v2.2h-2.8zM745.0 298.7h2.8v2.2h-2.8zM750.6 298.7h2.8v2.2h-2.8zM753.4 298.7h2.8v2.2h-2.8zM756.2 298.7h2.8v2.2h-2.8zM759.0 298.7h2.8v2.2h-2.8zM761.8 298.7h2.8v2.2h-2.8zM764.6 298.7h2.8v2.2h-2.8zM770.2 298.7h2.8v2.2h-2.8zM772.9 298.7h2.8v2.2h-2.8zM775.7 298.7h2.8v2.2h-2.8zM778.5 298.7h2.8v2.2h-2.8zM781.3 298.7h2.8v2.2h-2.8zM784.1 298.7h2.8v2.2h-2.8zM786.9 298.7h2.8v2.2h-2.8zM789.7 298.7h2.8v2.2h-2.8zM795.3 298.7h2.8v2.2h-2.8zM798.1 298.7h2.8v2.2h-2.8zM800.8 298.7h2.8v2.2h-2.8zM803.6 298.7h2.8v2.2h-2.8zM806.4 298.7h2.8v2.2h-2.8zM809.2 298.7h2.8v2.2h-2.8zM814.8 298.7h2.8v2.2h-2.8zM817.6 298.7h2.8v2.2h-2.8zM820.4 298.7h2.8v2.2h-2.8zM823.2 298.7h2.8v2.2h-2.8zM826.0 298.7h2.8v2.2h-2.8zM828.7 298.7h2.8v2.2h-2.8zM831.5 298.7h2.8v2.2h-2.8zM834.3 298.7h2.8v2.2h-2.8zM839.9 298.7h2.8v2.2h-2.8zM842.7 298.7h2.8v2.2h-2.8zM845.5 298.7h2.8v2.2h-2.8zM848.3 298.7h2.8v2.2h-2.8zM851.1 298.7h2.8v2.2h-2.8zM853.9 298.7h2.8v2.2h-2.8zM859.4 298.7h2.8v2.2h-2.8zM862.2 298.7h2.8v2.2h-2.8zM865.0 298.7h2.8v2.2h-2.8zM867.8 298.7h2.8v2.2h-2.8zM870.6 298.7h2.8v2.2h-2.8zM873.4 298.7h2.8v2.2h-2.8zM876.2 298.7h2.8v2.2h-2.8zM879.0 298.7h2.8v2.2h-2.8zM884.5 298.7h2.8v2.2h-2.8zM887.3 298.7h2.8v2.2h-2.8zM890.1 298.7h2.8v2.2h-2.8zM892.9 298.7h2.8v2.2h-2.8zM895.7 298.7h2.8v2.2h-2.8zM898.5 298.7h2.8v2.2h-2.8zM904.1 298.7h2.8v2.2h-2.8zM906.9 298.7h2.8v2.2h-2.8zM909.7 298.7h2.8v2.2h-2.8zM912.4 298.7h2.8v2.2h-2.8zM915.2 298.7h2.8v2.2h-2.8zM918.0 298.7h2.8v2.2h-2.8zM920.8 298.7h2.8v2.2h-2.8zM923.6 298.7h2.8v2.2h-2.8zM929.2 298.7h2.8v2.2h-2.8zM932.0 298.7h2.8v2.2h-2.8zM934.8 298.7h2.8v2.2h-2.8zM937.6 298.7h2.8v2.2h-2.8zM940.3 298.7h2.8v2.2h-2.8zM943.1 298.7h2.8v2.2h-2.8zM948.7 298.7h2.8v2.2h-2.8zM951.5 298.7h2.8v2.2h-2.8zM954.3 298.7h2.8v2.2h-2.8zM957.1 298.7h2.8v2.2h-2.8zM959.9 298.7h2.8v2.2h-2.8zM962.7 298.7h2.8v2.2h-2.8zM965.5 298.7h2.8v2.2h-2.8zM968.2 298.7h2.8v2.2h-2.8zM973.8 298.7h2.8v2.2h-2.8zM976.6 298.7h2.8v2.2h-2.8zM979.4 298.7h2.8v2.2h-2.8zM982.2 298.7h2.8v2.2h-2.8zM985.0 298.7h2.8v2.2h-2.8zM987.8 298.7h2.8v2.2h-2.8zM1146.9 298.7h2.8v2.2h-2.8zM1149.7 298.7h2.8v2.2h-2.8zM1152.5 298.7h2.8v2.2h-2.8zM1155.3 298.7h2.8v2.2h-2.8zM1158.1 298.7h2.8v2.2h-2.8zM1160.8 298.7h2.8v2.2h-2.8zM1163.6 298.7h2.8v2.2h-2.8zM1166.4 298.7h2.8v2.2h-2.8zM1169.2 298.7h2.8v2.2h-2.8zM1174.8 298.7h2.8v2.2h-2.8zM1177.6 298.7h2.8v2.2h-2.8zM1180.4 298.7h2.8v2.2h-2.8zM1183.2 298.7h2.8v2.2h-2.8zM1186.0 298.7h2.8v2.2h-2.8zM1188.7 298.7h2.8v2.2h-2.8zM1194.3 298.7h2.8v2.2h-2.8zM1197.1 298.7h2.8v2.2h-2.8zM1199.9 298.7h2.8v2.2h-2.8zM1202.7 298.7h2.8v2.2h-2.8zM1205.5 298.7h2.8v2.2h-2.8zM1208.3 298.7h2.8v2.2h-2.8zM1211.1 298.7h2.8v2.2h-2.8zM1213.9 298.7h2.8v2.2h-2.8zM1219.4 298.7h2.8v2.2h-2.8zM1222.2 298.7h2.8v2.2h-2.8zM1225.0 298.7h2.8v2.2h-2.8zM1227.8 298.7h2.8v2.2h-2.8zM1230.6 298.7h2.8v2.2h-2.8zM1233.4 298.7h2.8v2.2h-2.8zM1239.0 298.7h2.8v2.2h-2.8zM1241.8 298.7h2.8v2.2h-2.8zM1244.5 298.7h2.8v2.2h-2.8zM1247.3 298.7h2.8v2.2h-2.8zM1250.1 298.7h2.8v2.2h-2.8zM1252.9 298.7h2.8v2.2h-2.8zM1255.7 298.7h2.8v2.2h-2.8zM1258.5 298.7h2.8v2.2h-2.8zM1264.1 298.7h2.8v2.2h-2.8zM1266.9 298.7h2.8v2.2h-2.8zM1269.7 298.7h2.8v2.2h-2.8zM1272.4 298.7h2.8v2.2h-2.8zM1275.2 298.7h2.8v2.2h-2.8zM1278.0 298.7h2.8v2.2h-2.8zM1283.6 298.7h2.8v2.2h-2.8zM1286.4 298.7h2.8v2.2h-2.8zM1289.2 298.7h2.8v2.2h-2.8zM1292.0 298.7h2.8v2.2h-2.8zM1294.8 298.7h2.8v2.2h-2.8zM1297.6 298.7h2.8v2.2h-2.8zM1300.3 298.7h2.8v2.2h-2.8zM1303.1 298.7h2.8v2.2h-2.8zM1308.7 298.7h2.8v2.2h-2.8zM1311.5 298.7h2.8v2.2h-2.8zM1314.3 298.7h2.8v2.2h-2.8zM1317.1 298.7h2.8v2.2h-2.8zM1319.9 298.7h2.8v2.2h-2.8zM1322.7 298.7h2.8v2.2h-2.8zM1328.2 298.7h2.8v2.2h-2.8zM1331.0 298.7h2.8v2.2h-2.8zM1333.8 298.7h2.8v2.2h-2.8zM1336.6 298.7h2.8v2.2h-2.8zM1339.4 298.7h2.8v2.2h-2.8zM1342.2 298.7h2.8v2.2h-2.8zM1345.0 298.7h2.8v2.2h-2.8zM1347.8 298.7h2.8v2.2h-2.8zM1353.4 298.7h2.8v2.2h-2.8zM1356.1 298.7h2.8v2.2h-2.8zM1358.9 298.7h2.8v2.2h-2.8zM1361.7 298.7h2.8v2.2h-2.8zM1364.5 298.7h2.8v2.2h-2.8zM1367.3 298.7h2.8v2.2h-2.8zM1372.9 298.7h2.8v2.2h-2.8zM1375.7 298.7h2.8v2.2h-2.8zM1378.5 298.7h2.8v2.2h-2.8zM1381.3 298.7h2.8v2.2h-2.8zM1384.0 298.7h2.8v2.2h-2.8zM1386.8 298.7h2.8v2.2h-2.8zM1389.6 298.7h2.8v2.2h-2.8zM1392.4 298.7h2.8v2.2h-2.8zM1398.0 298.7h2.8v2.2h-2.8zM1400.8 298.7h2.8v2.2h-2.8zM1403.6 298.7h2.8v2.2h-2.8zM1406.4 298.7h2.8v2.2h-2.8zM1409.2 298.7h2.8v2.2h-2.8zM1411.9 298.7h2.8v2.2h-2.8zM1417.5 298.7h2.8v2.2h-2.8zM1420.3 298.7h2.8v2.2h-2.8zM1423.1 298.7h2.8v2.2h-2.8zM1425.9 298.7h2.8v2.2h-2.8zM1428.7 298.7h2.8v2.2h-2.8zM1431.5 298.7h2.8v2.2h-2.8zM1434.3 298.7h2.8v2.2h-2.8zM1437.1 298.7h2.8v2.2h-2.8zM1442.6 298.7h2.8v2.2h-2.8zM1445.4 298.7h2.8v2.2h-2.8zM1448.2 298.7h2.8v2.2h-2.8zM1451.0 298.7h2.8v2.2h-2.8zM1453.8 298.7h2.8v2.2h-2.8zM1456.6 298.7h2.8v2.2h-2.8zM1462.2 298.7h2.8v2.2h-2.8zM1465.0 298.7h2.8v2.2h-2.8zM1467.7 298.7h2.8v2.2h-2.8zM1470.5 298.7h2.8v2.2h-2.8zM1473.3 298.7h2.8v2.2h-2.8zM1476.1 298.7h2.8v2.2h-2.8zM1478.9 298.7h2.8v2.2h-2.8zM1135.8 339.5h11.7v1.6h-11.7zM1475.4 339.5h7.1v1.6h-7.1zM75.3 419.9h223.2v1.9h-223.2zM78.3 423.1h1.5v1.5h-1.5zM82.3 423.1h4.0v1.5h-4.0zM89.0 423.1h2.6v1.5h-2.6zM93.6 423.1h3.4v1.5h-3.4zM100.8 423.1h1.5v1.5h-1.5zM104.8 423.1h4.0v1.5h-4.0zM110.3 423.1h3.3v1.5h-3.3zM117.3 423.1h1.5v1.5h-1.5zM122.9 423.1h1.5v1.5h-1.5zM126.9 423.1h4.0v1.5h-4.0zM133.6 423.1h2.6v1.5h-2.6zM138.2 423.1h3.4v1.5h-3.4zM145.4 423.1h1.5v1.5h-1.5zM149.4 423.1h4.0v1.5h-4.0zM154.9 423.1h3.3v1.5h-3.3zM161.9 423.1h1.5v1.5h-1.5zM167.6 423.1h1.5v1.5h-1.5zM171.6 423.1h4.0v1.5h-4.0zM178.3 423.1h2.6v1.5h-2.6zM182.9 423.1h3.4v1.5h-3.4zM190.1 423.1h1.5v1.5h-1.5zM194.1 423.1h4.0v1.5h-4.0zM199.6 423.1h3.3v1.5h-3.3zM206.6 423.1h1.5v1.5h-1.5zM212.2 423.1h1.5v1.5h-1.5zM216.2 423.1h4.0v1.5h-4.0zM222.9 423.1h2.6v1.5h-2.6zM227.6 423.1h3.4v1.5h-3.4zM234.8 423.1h1.5v1.5h-1.5zM238.8 423.1h4.0v1.5h-4.0zM244.2 423.1h3.3v1.5h-3.3zM251.2 423.1h1.5v1.5h-1.5zM256.9 423.1h1.5v1.5h-1.5zM260.9 423.1h4.0v1.5h-4.0zM267.6 423.1h2.6v1.5h-2.6zM272.2 423.1h3.4v1.5h-3.4zM279.4 423.1h1.5v1.5h-1.5zM283.4 423.1h4.0v1.5h-4.0zM288.9 423.1h3.3v1.5h-3.3zM295.9 423.1h1.5v1.5h-1.5zM343.2 419.9h178.6v1.9h-178.6zM346.2 423.1h1.5v1.5h-1.5zM350.2 423.1h4.0v1.5h-4.0zM356.9 423.1h2.6v1.5h-2.6zM361.5 423.1h3.4v1.5h-3.4zM368.7 423.1h1.5v1.5h-1.5zM372.7 423.1h4.0v1.5h-4.0zM378.2 423.1h3.3v1.5h-3.3zM385.2 423.1h1.5v1.5h-1.5zM390.8 423.1h1.5v1.5h-1.5zM394.8 423.1h4.0v1.5h-4.0zM401.5 423.1h2.6v1.5h-2.6zM406.1 423.1h3.4v1.5h-3.4zM413.3 423.1h1.5v1.5h-1.5zM417.3 423.1h4.0v1.5h-4.0zM422.8 423.1h3.3v1.5h-3.3zM429.8 423.1h1.5v1.5h-1.5zM435.5 423.1h1.5v1.5h-1.5zM439.5 423.1h4.0v1.5h-4.0zM446.2 423.1h2.6v1.5h-2.6zM450.8 423.1h3.4v1.5h-3.4zM458.0 423.1h1.5v1.5h-1.5zM462.0 423.1h4.0v1.5h-4.0zM467.5 423.1h3.3v1.5h-3.3zM474.5 423.1h1.5v1.5h-1.5zM480.1 423.1h1.5v1.5h-1.5zM484.1 423.1h4.0v1.5h-4.0zM490.8 423.1h2.6v1.5h-2.6zM495.4 423.1h3.4v1.5h-3.4zM502.6 423.1h1.5v1.5h-1.5zM506.6 423.1h4.0v1.5h-4.0zM512.1 423.1h3.3v1.5h-3.3zM519.1 423.1h1.5v1.5h-1.5zM544.1 419.9h167.4v1.9h-167.4zM547.1 423.1h1.5v1.5h-1.5zM551.1 423.1h4.0v1.5h-4.0zM557.8 423.1h2.6v1.5h-2.6zM562.4 423.1h3.4v1.5h-3.4zM569.6 423.1h1.5v1.5h-1.5zM573.6 423.1h4.0v1.5h-4.0zM579.1 423.1h3.3v1.5h-3.3zM586.1 423.1h1.5v1.5h-1.5zM591.8 423.1h1.5v1.5h-1.5zM595.8 423.1h4.0v1.5h-4.0zM602.5 423.1h2.6v1.5h-2.6zM607.1 423.1h3.4v1.5h-3.4zM614.3 423.1h1.5v1.5h-1.5zM618.3 423.1h4.0v1.5h-4.0zM623.8 423.1h3.3v1.5h-3.3zM630.8 423.1h1.5v1.5h-1.5zM636.4 423.1h1.5v1.5h-1.5zM640.4 423.1h4.0v1.5h-4.0zM647.1 423.1h2.6v1.5h-2.6zM651.7 423.1h3.4v1.5h-3.4zM658.9 423.1h1.5v1.5h-1.5zM662.9 423.1h4.0v1.5h-4.0zM668.4 423.1h3.3v1.5h-3.3zM675.4 423.1h1.5v1.5h-1.5zM681.1 423.1h1.5v1.5h-1.5zM685.1 423.1h4.0v1.5h-4.0zM691.8 423.1h2.6v1.5h-2.6zM696.4 423.1h3.4v1.5h-3.4zM703.6 423.1h1.5v1.5h-1.5zM707.6 423.1h4.0v1.5h-4.0zM722.7 419.9h267.9v1.9h-267.9zM725.7 423.1h1.5v1.5h-1.5zM729.7 423.1h4.0v1.5h-4.0zM736.4 423.1h2.6v1.5h-2.6zM741.0 423.1h3.4v1.5h-3.4zM748.2 423.1h1.5v1.5h-1.5zM752.2 423.1h4.0v1.5h-4.0zM757.7 423.1h3.3v1.5h-3.3zM764.7 423.1h1.5v1.5h-1.5zM770.4 423.1h1.5v1.5h-1.5zM774.4 423.1h4.0v1.5h-4.0zM781.1 423.1h2.6v1.5h-2.6zM785.7 423.1h3.4v1.5h-3.4zM792.9 423.1h1.5v1.5h-1.5zM796.9 423.1h4.0v1.5h-4.0zM802.4 423.1h3.3v1.5h-3.3zM809.4 423.1h1.5v1.5h-1.5zM815.0 423.1h1.5v1.5h-1.5zM819.0 423.1h4.0v1.5h-4.0zM825.7 423.1h2.6v1.5h-2.6zM830.3 423.1h3.4v1.5h-3.4zM837.5 423.1h1.5v1.5h-1.5zM841.5 423.1h4.0v1.5h-4.0zM847.0 423.1h3.3v1.5h-3.3zM854.0 423.1h1.5v1.5h-1.5zM859.7 423.1h1.5v1.5h-1.5zM863.7 423.1h4.0v1.5h-4.0zM870.4 423.1h2.6v1.5h-2.6zM875.0 423.1h3.4v1.5h-3.4zM882.2 423.1h1.5v1.5h-1.5zM886.2 423.1h4.0v1.5h-4.0zM891.7 423.1h3.3v1.5h-3.3zM898.7 423.1h1.5v1.5h-1.5zM904.3 423.1h1.5v1.5h-1.5zM908.3 423.1h4.0v1.5h-4.0zM915.0 423.1h2.6v1.5h-2.6zM919.6 423.1h3.4v1.5h-3.4zM926.8 423.1h1.5v1.5h-1.5zM930.8 423.1h4.0v1.5h-4.0zM936.3 423.1h3.3v1.5h-3.3zM943.3 423.1h1.5v1.5h-1.5zM949.0 423.1h1.5v1.5h-1.5zM953.0 423.1h4.0v1.5h-4.0zM959.7 423.1h2.6v1.5h-2.6zM964.3 423.1h3.4v1.5h-3.4zM971.5 423.1h1.5v1.5h-1.5zM975.5 423.1h4.0v1.5h-4.0zM981.0 423.1h3.3v1.5h-3.3zM988.0 423.1h1.5v1.5h-1.5zM1146.9 419.9h334.9v1.9h-334.9zM1149.9 423.1h1.5v1.5h-1.5zM1153.9 423.1h4.0v1.5h-4.0zM1160.6 423.1h2.6v1.5h-2.6zM1165.2 423.1h3.4v1.5h-3.4zM1172.4 423.1h1.5v1.5h-1.5zM1176.4 423.1h4.0v1.5h-4.0zM1181.9 423.1h3.3v1.5h-3.3zM1188.9 423.1h1.5v1.5h-1.5zM1194.5 423.1h1.5v1.5h-1.5zM1198.5 423.1h4.0v1.5h-4.0zM1205.2 423.1h2.6v1.5h-2.6zM1209.8 423.1h3.4v1.5h-3.4zM1217.0 423.1h1.5v1.5h-1.5zM1221.0 423.1h4.0v1.5h-4.0zM1226.5 423.1h3.3v1.5h-3.3zM1233.5 423.1h1.5v1.5h-1.5zM1239.2 423.1h1.5v1.5h-1.5zM1243.2 423.1h4.0v1.5h-4.0zM1249.9 423.1h2.6v1.5h-2.6zM1254.5 423.1h3.4v1.5h-3.4zM1261.7 423.1h1.5v1.5h-1.5zM1265.7 423.1h4.0v1.5h-4.0zM1271.2 423.1h3.3v1.5h-3.3zM1278.2 423.1h1.5v1.5h-1.5zM1283.9 423.1h1.5v1.5h-1.5zM1287.9 423.1h4.0v1.5h-4.0zM1294.6 423.1h2.6v1.5h-2.6zM1299.2 423.1h3.4v1.5h-3.4zM1306.4 423.1h1.5v1.5h-1.5zM1310.4 423.1h4.0v1.5h-4.0zM1315.9 423.1h3.3v1.5h-3.3zM1322.9 423.1h1.5v1.5h-1.5zM1328.5 423.1h1.5v1.5h-1.5zM1332.5 423.1h4.0v1.5h-4.0zM1339.2 423.1h2.6v1.5h-2.6zM1343.8 423.1h3.4v1.5h-3.4zM1351.0 423.1h1.5v1.5h-1.5zM1355.0 423.1h4.0v1.5h-4.0zM1360.5 423.1h3.3v1.5h-3.3zM1367.5 423.1h1.5v1.5h-1.5zM1373.2 423.1h1.5v1.5h-1.5zM1377.2 423.1h4.0v1.5h-4.0zM1383.9 423.1h2.6v1.5h-2.6zM1388.5 423.1h3.4v1.5h-3.4zM1395.7 423.1h1.5v1.5h-1.5zM1399.7 423.1h4.0v1.5h-4.0zM1405.2 423.1h3.3v1.5h-3.3zM1412.2 423.1h1.5v1.5h-1.5zM1417.8 423.1h1.5v1.5h-1.5zM1421.8 423.1h4.0v1.5h-4.0zM1428.5 423.1h2.6v1.5h-2.6zM1433.1 423.1h3.4v1.5h-3.4zM1440.3 423.1h1.5v1.5h-1.5zM1444.3 423.1h4.0v1.5h-4.0zM1449.8 423.1h3.3v1.5h-3.3zM1456.8 423.1h1.5v1.5h-1.5zM1462.5 423.1h1.5v1.5h-1.5zM1466.5 423.1h4.0v1.5h-4.0zM1473.2 423.1h2.6v1.5h-2.6zM1477.8 423.1h3.4v1.5h-3.4zM1135.0 467.6h12.0v1.4h-12.0zM1146.9 504.4h13.9v1.0h-13.9zM1146.9 506.5h13.9v1.0h-13.9zM566.5 504.4h14.0v1.0h-14.0zM566.5 506.5h14.0v1.0h-14.0zM611.1 504.4h14.0v1.0h-14.0zM611.1 506.5h14.0v1.0h-14.0zM655.8 504.4h14.0v1.0h-14.0zM655.8 506.5h14.0v1.0h-14.0zM700.4 504.4h11.2v1.0h-11.2zM700.4 506.5h11.2v1.0h-11.2zM990.6 506.8h89.9v1.6h-89.9zM990.6 509.8h22.4v1.1h-22.4zM1035.0 509.8h23.0v1.1h-23.0zM1135.0 551.5h11.9v1.0h-11.9zM343.2 593.6h6.0v1.2h-6.0zM367.7 593.4h8.5v1.1h-8.5zM400.2 593.4h9.0v1.1h-9.0zM432.5 593.6h6.0v1.2h-6.0zM457.0 593.4h8.5v1.1h-8.5zM489.5 593.4h9.0v1.1h-9.0zM722.7 593.6h6.0v1.2h-6.0zM747.2 593.4h8.5v1.1h-8.5zM779.7 593.4h9.0v1.1h-9.0zM812.0 593.6h6.0v1.2h-6.0zM836.5 593.4h8.5v1.1h-8.5zM869.0 593.4h9.0v1.1h-9.0zM901.3 593.6h6.0v1.2h-6.0zM925.8 593.4h8.5v1.1h-8.5zM958.3 593.4h9.0v1.1h-9.0zM1146.9 593.6h6.0v1.2h-6.0zM1171.4 593.4h8.5v1.1h-8.5zM1203.9 593.4h9.0v1.1h-9.0zM1236.2 593.6h6.0v1.2h-6.0zM1260.7 593.4h8.5v1.1h-8.5zM1293.2 593.4h9.0v1.1h-9.0zM1325.5 593.6h6.0v1.2h-6.0zM1350.0 593.4h8.5v1.1h-8.5zM1382.5 593.4h9.0v1.1h-9.0zM1414.8 593.6h6.0v1.2h-6.0zM1439.3 593.4h8.5v1.1h-8.5zM1471.8 593.4h9.0v1.1h-9.0zM556.6 590.2h4.4v1.2h-4.4zM582.8 590.2h4.0v1.2h-4.0zM603.0 590.2h6.3v1.2h-6.3zM625.5 590.2h6.3v1.2h-6.3zM646.8 590.2h5.9v1.2h-5.9zM670.2 590.2h5.8v1.2h-5.8zM689.5 590.2h4.0v1.2h-4.0zM698.3 590.1h13.4v1.0h-13.4zM698.3 592.1h13.4v1.0h-13.4zM1370.0 623.9h11.7v1.6h-11.7zM75.3 669.7h16.7v4.2h-16.7zM92.0 670.9h6.6v4.4h-6.6zM98.6 672.3h16.7v4.5h-16.7zM115.3 671.0h4.6v4.2h-4.6zM119.9 669.7h16.7v4.2h-16.7zM136.6 670.9h6.6v4.4h-6.6zM143.2 672.3h16.7v4.5h-16.7zM159.9 671.0h4.7v4.2h-4.7zM164.6 669.7h16.7v4.2h-16.7zM181.3 670.9h6.6v4.4h-6.6zM187.9 672.3h16.7v4.5h-16.7zM204.6 671.0h4.7v4.2h-4.7zM209.2 669.7h16.7v4.2h-16.7zM225.9 670.9h6.6v4.4h-6.6zM232.6 672.3h16.7v4.5h-16.7zM249.2 671.0h4.7v4.2h-4.7zM253.9 669.7h16.7v4.2h-16.7zM270.6 670.9h6.6v4.4h-6.6zM277.2 672.3h16.7v4.5h-16.7zM293.9 671.0h4.7v4.2h-4.7zM298.6 669.7h16.7v4.2h-16.7zM315.2 670.9h6.6v4.4h-6.6zM321.9 672.3h16.7v4.5h-16.7zM338.6 671.0h4.6v4.2h-4.6zM343.2 669.7h16.7v4.2h-16.7zM359.9 670.9h6.6v4.4h-6.6zM366.5 672.3h16.7v4.5h-16.7zM383.2 671.0h4.6v4.2h-4.6zM387.8 669.7h16.7v4.2h-16.7zM404.5 670.9h6.6v4.4h-6.6zM411.1 672.3h16.7v4.5h-16.7zM427.8 671.0h4.6v4.2h-4.6zM432.5 669.7h16.7v4.2h-16.7zM449.2 670.9h6.6v4.4h-6.6zM455.8 672.3h16.7v4.5h-16.7zM472.5 671.0h4.6v4.2h-4.6zM477.1 669.7h16.7v4.2h-16.7zM493.8 670.9h6.6v4.4h-6.6zM500.4 672.3h16.7v4.5h-16.7zM517.1 671.0h4.7v4.2h-4.7zM521.8 669.7h16.7v4.2h-16.7zM538.5 670.9h6.6v4.4h-6.6zM545.1 672.3h16.7v4.5h-16.7zM561.8 671.0h4.6v4.2h-4.6zM566.4 669.7h16.7v4.2h-16.7zM583.1 670.9h6.6v4.4h-6.6zM589.7 672.3h16.7v4.5h-16.7zM606.4 671.0h4.6v4.2h-4.6zM611.1 669.7h16.7v4.2h-16.7zM627.8 670.9h6.6v4.4h-6.6zM634.4 672.3h16.7v4.5h-16.7zM651.1 671.0h4.6v4.2h-4.6zM655.7 669.7h16.7v4.2h-16.7zM672.4 670.9h6.6v4.4h-6.6zM679.0 672.3h16.7v4.5h-16.7zM695.7 671.0h4.6v4.2h-4.6zM700.4 669.7h16.7v4.2h-16.7zM717.1 670.9h6.6v4.4h-6.6zM723.7 672.3h16.7v4.5h-16.7zM740.4 671.0h4.6v4.2h-4.6zM745.0 669.7h16.7v4.2h-16.7zM761.7 670.9h6.6v4.4h-6.6zM768.3 672.3h16.7v4.5h-16.7zM785.0 671.0h4.6v4.2h-4.6zM789.7 669.7h16.7v4.2h-16.7zM806.4 670.9h6.6v4.4h-6.6zM813.0 672.3h16.7v4.5h-16.7zM829.7 671.0h4.6v4.2h-4.6zM834.3 669.7h16.7v4.2h-16.7zM851.0 670.9h6.6v4.4h-6.6zM857.6 672.3h16.7v4.5h-16.7zM874.3 671.0h4.6v4.2h-4.6zM879.0 669.7h16.7v4.2h-16.7zM895.7 670.9h6.6v4.4h-6.6zM902.3 672.3h16.7v4.5h-16.7zM919.0 671.0h4.6v4.2h-4.6zM923.6 669.7h16.7v4.2h-16.7zM940.3 670.9h6.6v4.4h-6.6zM946.9 672.3h16.7v4.5h-16.7zM963.6 671.0h4.6v4.2h-4.6zM968.3 669.7h13.4v4.2h-13.4zM981.7 670.5h31.3v5.0h-31.3zM1013.0 669.8h23.0v4.9h-23.0zM1036.0 670.5h21.5v5.0h-21.5zM1057.5 669.8h22.5v4.9h-22.5zM1080.0 669.7h11.7v4.2h-11.7zM1091.7 671.0h11.3v4.3h-11.3zM1103.0 672.4h22.0v4.5h-22.0zM1125.0 671.0h6.0v4.2h-6.0zM1131.0 669.7h16.7v4.2h-16.7zM1147.7 670.9h6.6v4.4h-6.6zM1154.3 672.3h16.7v4.5h-16.7zM1171.0 671.0h4.7v4.2h-4.7zM1175.7 669.7h16.7v4.2h-16.7zM1192.4 670.9h6.6v4.4h-6.6zM1199.0 672.3h16.7v4.5h-16.7zM1215.7 671.0h4.7v4.2h-4.7zM1220.3 669.7h16.7v4.2h-16.7zM1237.0 670.9h6.6v4.4h-6.6zM1243.6 672.3h16.7v4.5h-16.7zM1260.3 671.0h4.7v4.2h-4.7zM1265.0 669.7h16.7v4.2h-16.7zM1281.7 670.9h6.6v4.4h-6.6zM1288.3 672.3h16.7v4.5h-16.7zM1305.0 671.0h4.7v4.2h-4.7zM1309.6 669.7h16.7v4.2h-16.7zM1326.3 670.9h6.6v4.4h-6.6zM1332.9 672.3h16.7v4.5h-16.7zM1349.6 671.0h4.7v4.2h-4.7zM1354.3 669.7h16.7v4.2h-16.7zM1371.0 670.9h6.6v4.4h-6.6zM1377.6 672.3h16.7v4.5h-16.7zM1394.3 671.0h4.7v4.2h-4.7zM1398.9 669.7h16.7v4.2h-16.7zM1415.6 670.9h6.6v4.4h-6.6zM1422.2 672.3h16.7v4.5h-16.7zM1438.9 671.0h4.7v4.2h-4.7zM1443.6 669.7h16.7v4.2h-16.7zM1460.3 670.9h6.6v4.4h-6.6zM1466.9 672.3h16.7v4.5h-16.7zM1483.6 671.0h3.4v4.2h-3.4zM75.3 259.0l1.7-4.0h1.0l0.3 4.0zM79.8 259.0l1.7-4.0h1.0l0.3 4.0zM84.2 259.0l1.7-4.0h1.0l0.3 4.0zM88.7 259.0l1.7-4.0h1.0l0.3 4.0zM93.2 259.0l1.7-4.0h1.0l0.3 4.0zM97.6 259.0l1.7-4.0h1.0l0.3 4.0zM102.1 259.0l1.7-4.0h1.0l0.3 4.0zM106.6 259.0l1.7-4.0h1.0l0.3 4.0zM111.0 259.0l1.7-4.0h1.0l0.3 4.0zM115.5 259.0l1.7-4.0h1.0l0.3 4.0zM120.0 259.0l1.7-4.0h1.0l0.3 4.0zM124.4 259.0l1.7-4.0h1.0l0.3 4.0zM128.9 259.0l1.7-4.0h1.0l0.3 4.0zM133.3 259.0l1.7-4.0h1.0l0.3 4.0zM137.8 259.0l1.7-4.0h1.0l0.3 4.0zM142.3 259.0l1.7-4.0h1.0l0.3 4.0zM146.7 259.0l1.7-4.0h1.0l0.3 4.0zM151.2 259.0l1.7-4.0h1.0l0.3 4.0zM155.7 259.0l1.7-4.0h1.0l0.3 4.0zM160.1 259.0l1.7-4.0h1.0l0.3 4.0zM164.6 259.0l1.7-4.0h1.0l0.3 4.0zM169.1 259.0l1.7-4.0h1.0l0.3 4.0zM173.5 259.0l1.7-4.0h1.0l0.3 4.0zM178.0 259.0l1.7-4.0h1.0l0.3 4.0zM182.5 259.0l1.7-4.0h1.0l0.3 4.0zM186.9 259.0l1.7-4.0h1.0l0.3 4.0zM191.4 259.0l1.7-4.0h1.0l0.3 4.0zM195.9 259.0l1.7-4.0h1.0l0.3 4.0zM200.3 259.0l1.7-4.0h1.0l0.3 4.0zM204.8 259.0l1.7-4.0h1.0l0.3 4.0zM209.3 259.0l1.7-4.0h1.0l0.3 4.0zM213.7 259.0l1.7-4.0h1.0l0.3 4.0zM218.2 259.0l1.7-4.0h1.0l0.3 4.0zM222.6 259.0l1.7-4.0h1.0l0.3 4.0zM227.1 259.0l1.7-4.0h1.0l0.3 4.0zM231.6 259.0l1.7-4.0h1.0l0.3 4.0zM236.0 259.0l1.7-4.0h1.0l0.3 4.0zM240.5 259.0l1.7-4.0h1.0l0.3 4.0zM245.0 259.0l1.7-4.0h1.0l0.3 4.0zM249.4 259.0l1.7-4.0h1.0l0.3 4.0zM253.9 259.0l1.7-4.0h1.0l0.3 4.0zM258.4 259.0l1.7-4.0h1.0l0.3 4.0zM262.8 259.0l1.7-4.0h1.0l0.3 4.0zM267.3 259.0l1.7-4.0h1.0l0.3 4.0zM271.8 259.0l1.7-4.0h1.0l0.3 4.0zM276.2 259.0l1.7-4.0h1.0l0.3 4.0zM280.7 259.0l1.7-4.0h1.0l0.3 4.0zM285.2 259.0l1.7-4.0h1.0l0.3 4.0zM289.6 259.0l1.7-4.0h1.0l0.3 4.0zM294.1 259.0l1.7-4.0h1.0l0.3 4.0zM544.1 259.0l1.7-4.0h1.0l0.3 4.0zM548.6 259.0l1.7-4.0h1.0l0.3 4.0zM553.1 259.0l1.7-4.0h1.0l0.3 4.0zM557.5 259.0l1.7-4.0h1.0l0.3 4.0zM562.0 259.0l1.7-4.0h1.0l0.3 4.0zM566.5 259.0l1.7-4.0h1.0l0.3 4.0zM570.9 259.0l1.7-4.0h1.0l0.3 4.0zM575.4 259.0l1.7-4.0h1.0l0.3 4.0zM579.8 259.0l1.7-4.0h1.0l0.3 4.0zM584.3 259.0l1.7-4.0h1.0l0.3 4.0zM588.8 259.0l1.7-4.0h1.0l0.3 4.0zM593.2 259.0l1.7-4.0h1.0l0.3 4.0zM597.7 259.0l1.7-4.0h1.0l0.3 4.0zM602.2 259.0l1.7-4.0h1.0l0.3 4.0zM606.6 259.0l1.7-4.0h1.0l0.3 4.0zM611.1 259.0l1.7-4.0h1.0l0.3 4.0zM615.6 259.0l1.7-4.0h1.0l0.3 4.0zM620.0 259.0l1.7-4.0h1.0l0.3 4.0zM624.5 259.0l1.7-4.0h1.0l0.3 4.0zM629.0 259.0l1.7-4.0h1.0l0.3 4.0zM633.4 259.0l1.7-4.0h1.0l0.3 4.0zM637.9 259.0l1.7-4.0h1.0l0.3 4.0zM642.4 259.0l1.7-4.0h1.0l0.3 4.0zM646.8 259.0l1.7-4.0h1.0l0.3 4.0zM651.3 259.0l1.7-4.0h1.0l0.3 4.0zM655.8 259.0l1.7-4.0h1.0l0.3 4.0zM660.2 259.0l1.7-4.0h1.0l0.3 4.0zM664.7 259.0l1.7-4.0h1.0l0.3 4.0zM669.1 259.0l1.7-4.0h1.0l0.3 4.0zM673.6 259.0l1.7-4.0h1.0l0.3 4.0zM678.1 259.0l1.7-4.0h1.0l0.3 4.0zM682.5 259.0l1.7-4.0h1.0l0.3 4.0zM687.0 259.0l1.7-4.0h1.0l0.3 4.0zM691.5 259.0l1.7-4.0h1.0l0.3 4.0zM695.9 259.0l1.7-4.0h1.0l0.3 4.0zM700.4 259.0l1.7-4.0h1.0l0.3 4.0zM704.9 259.0l1.7-4.0h1.0l0.3 4.0zM709.3 259.0l1.7-4.0h1.0l0.3 4.0z"/>
<path fill-opacity="0.82" d="M343.2 504.4h22.0v3.2h-22.0zM387.8 504.4h22.0v3.2h-22.0zM432.5 504.4h22.0v3.2h-22.0zM477.1 504.4h22.0v3.2h-22.0zM722.7 504.4h22.0v3.2h-22.0zM767.4 504.4h22.0v3.2h-22.0zM812.0 504.4h22.0v3.2h-22.0zM856.7 504.4h22.0v3.2h-22.0zM901.3 504.4h22.0v3.2h-22.0zM946.0 504.4h22.0v3.2h-22.0zM1169.6 504.4h22.0v3.2h-22.0zM1214.3 504.4h22.0v3.2h-22.0zM1259.0 504.4h22.0v3.2h-22.0zM1303.6 504.4h22.0v3.2h-22.0zM1348.3 504.4h22.0v3.2h-22.0zM1392.9 504.4h22.0v3.2h-22.0zM1437.6 504.4h22.0v3.2h-22.0z"/>
<path fill-opacity="0.85" d="M900.8 34.3h11.7v1.4h-11.7zM912.5 35.3h10.8v1.4h-10.8zM923.3 36.6h14.2v1.4h-14.2zM937.5 38.0h4.1v1.4h-4.1zM941.6 36.6h5.0v1.4h-5.0zM945.8 34.3h11.0v1.4h-11.0zM956.8 35.3h6.5v1.4h-6.5zM963.3 36.0h5.0v1.4h-5.0zM1303.3 34.3h11.7v1.4h-11.7zM1315.0 35.3h10.8v1.4h-10.8zM1325.8 36.6h14.2v1.4h-14.2zM1340.0 38.0h4.1v1.4h-4.1zM1344.1 36.6h5.0v1.4h-5.0zM1348.3 34.3h11.0v1.4h-11.0zM1359.3 35.3h6.5v1.4h-6.5zM1365.8 36.0h5.0v1.4h-5.0zM1392.5 34.3h11.7v1.4h-11.7zM1404.2 35.3h10.8v1.4h-10.8zM1415.0 36.6h14.2v1.4h-14.2zM1429.2 38.0h4.1v1.4h-4.1zM1433.3 36.6h5.0v1.4h-5.0zM1437.5 34.3h11.0v1.4h-11.0zM1448.5 35.3h6.5v1.4h-6.5zM1455.0 36.0h5.0v1.4h-5.0zM990.0 44.0h6.7v1.4h-6.7zM996.7 42.6h5.8v1.4h-5.8zM1002.5 40.3h5.0v1.4h-5.0zM1007.5 41.5h5.8v1.4h-5.8zM1013.3 43.0h5.9v1.4h-5.9zM1019.2 41.8h5.8v1.4h-5.8zM1025.0 40.6h10.8v1.4h-10.8zM1035.0 43.8h6.7v1.4h-6.7zM1041.7 42.6h5.0v1.4h-5.0zM1046.7 40.5h5.8v1.4h-5.8zM1058.3 43.1h5.0v1.4h-5.0zM1063.3 40.3h11.7v1.4h-11.7zM117.8 170.5h4.1v1.4h-4.1zM139.5 170.5h4.8v1.4h-4.8zM167.6 170.5h9.1v1.4h-9.1zM205.9 170.5h3.7v1.4h-3.7zM227.2 170.5h5.9v1.4h-5.9zM256.6 170.5h9.8v1.4h-9.8zM300.3 170.5h2.9v1.4h-2.9zM319.5 170.5h4.8v1.4h-4.8zM343.5 170.5h3.7v1.4h-3.7zM362.2 170.5h2.4v1.4h-2.4zM395.4 170.5h8.5v1.4h-8.5zM437.1 170.5h8.6v1.4h-8.6zM483.9 170.5h8.5v1.4h-8.5zM516.5 170.5h2.7v1.4h-2.7zM540.9 170.5h4.5v1.4h-4.5zM564.0 170.5h5.4v1.4h-5.4zM591.9 170.5h9.4v1.4h-9.4zM629.8 170.5h4.2v1.4h-4.2zM652.8 170.5h5.1v1.4h-5.1zM682.3 170.5h8.9v1.4h-8.9zM720.8 170.5h5.3v1.4h-5.3zM741.5 170.5h2.7v1.4h-2.7zM775.2 170.5h8.3v1.4h-8.3zM817.0 170.5h8.6v1.4h-8.6zM864.2 170.5h8.0v1.4h-8.0zM895.6 170.5h2.8v1.4h-2.8zM917.8 170.5h5.6v1.4h-5.6zM940.6 170.5h2.8v1.4h-2.8zM963.7 170.5h7.5v1.4h-7.5zM996.0 170.5h7.5v1.4h-7.5zM1044.1 170.5h11.8v1.4h-11.8zM1086.5 170.5h9.6v1.4h-9.6zM1124.3 170.5h3.7v1.4h-3.7zM1143.3 170.5h2.6v1.4h-2.6zM1175.8 170.5h8.8v1.4h-8.8zM1365.1 170.5h7.6v1.4h-7.6zM1408.8 170.5h6.2v1.4h-6.2zM1432.4 170.5h2.6v1.4h-2.6zM1454.8 170.5h7.3v1.4h-7.3zM1476.7 170.5h2.9v1.4h-2.9zM340.0 213.1h3.5v2.2h-3.5zM343.5 212.0h3.7v2.2h-3.7zM347.3 212.7h4.4v2.2h-4.4zM360.0 213.1h2.2v2.2h-2.2zM362.2 212.0h2.4v2.2h-2.4zM364.6 212.7h2.9v2.2h-2.9zM387.5 213.1h7.9v2.2h-7.9zM395.4 212.0h8.5v2.2h-8.5zM403.9 212.7h10.1v2.2h-10.1zM429.0 213.1h8.1v2.2h-8.1zM437.1 212.0h8.6v2.2h-8.6zM445.7 212.7h10.3v2.2h-10.3zM476.0 213.1h7.9v2.2h-7.9zM483.9 212.0h8.5v2.2h-8.5zM492.4 212.7h10.1v2.2h-10.1zM648.0 213.1h4.8v2.2h-4.8zM652.8 212.0h5.1v2.2h-5.1zM657.9 212.7h6.1v2.2h-6.1zM677.5 213.1h7.0v2.2h-7.0zM684.5 212.0h7.5v2.2h-7.5zM691.9 212.7h8.9v2.2h-8.9zM720.0 213.1h3.5v2.2h-3.5zM723.5 212.0h3.7v2.2h-3.7zM727.3 212.7h4.4v2.2h-4.4zM739.0 213.1h2.5v2.2h-2.5zM741.5 212.0h2.7v2.2h-2.7zM744.3 212.7h3.2v2.2h-3.2zM767.5 213.1h7.7v2.2h-7.7zM775.2 212.0h8.3v2.2h-8.3zM783.5 212.7h9.8v2.2h-9.8zM809.0 213.1h8.0v2.2h-8.0zM817.0 212.0h8.6v2.2h-8.6zM825.6 212.7h10.2v2.2h-10.2zM856.7 213.1h7.5v2.2h-7.5zM864.2 212.0h8.0v2.2h-8.0zM872.2 212.7h9.5v2.2h-9.5zM912.5 213.1h5.2v2.2h-5.2zM917.8 212.0h5.6v2.2h-5.6zM923.4 212.7h6.6v2.2h-6.6zM956.7 213.1h7.0v2.2h-7.0zM963.7 212.0h7.5v2.2h-7.5zM971.1 212.7h8.9v2.2h-8.9zM1120.8 213.1h3.5v2.2h-3.5zM1124.3 212.0h3.7v2.2h-3.7zM1128.1 212.7h4.4v2.2h-4.4zM1140.8 213.1h2.5v2.2h-2.5zM1143.3 212.0h2.6v2.2h-2.6zM1145.9 212.7h3.1v2.2h-3.1zM1167.5 213.1h8.2v2.2h-8.2zM1175.8 212.0h8.8v2.2h-8.8zM1184.5 212.7h10.5v2.2h-10.5zM1358.0 213.1h7.1v2.2h-7.1zM1365.1 212.0h7.6v2.2h-7.6zM1372.7 212.7h9.0v2.2h-9.0zM1403.0 213.1h5.3v2.2h-5.3zM1408.3 212.0h5.7v2.2h-5.7zM1414.0 212.7h6.8v2.2h-6.8zM1448.0 213.1h6.8v2.2h-6.8zM1454.8 212.0h7.3v2.2h-7.3zM1462.1 212.7h8.7v2.2h-8.7zM75.3 429.9h223.2v1.7h-223.2zM544.1 429.9h167.4v1.7h-167.4zM298.8 430.1h44.5v1.4h-44.5zM354.2 594.2h9.5v1.2h-9.5zM388.7 594.2h8.0v1.2h-8.0zM421.2 594.2h8.0v1.2h-8.0zM443.5 594.2h9.5v1.2h-9.5zM478.0 594.2h8.0v1.2h-8.0zM510.5 594.2h8.0v1.2h-8.0zM733.7 594.2h9.5v1.2h-9.5zM768.2 594.2h8.0v1.2h-8.0zM800.7 594.2h8.0v1.2h-8.0zM823.0 594.2h9.5v1.2h-9.5zM857.5 594.2h8.0v1.2h-8.0zM890.0 594.2h8.0v1.2h-8.0zM912.3 594.2h9.5v1.2h-9.5zM946.8 594.2h8.0v1.2h-8.0zM979.3 594.2h8.0v1.2h-8.0zM1157.9 594.2h9.5v1.2h-9.5zM1192.4 594.2h8.0v1.2h-8.0zM1224.9 594.2h8.0v1.2h-8.0zM1247.2 594.2h9.5v1.2h-9.5zM1281.7 594.2h8.0v1.2h-8.0zM1314.2 594.2h8.0v1.2h-8.0zM1336.5 594.2h9.5v1.2h-9.5zM1371.0 594.2h8.0v1.2h-8.0zM1403.5 594.2h8.0v1.2h-8.0zM1425.8 594.2h9.5v1.2h-9.5zM1460.3 594.2h8.0v1.2h-8.0zM990.6 597.9h22.4v1.0h-22.4zM1013.0 594.9h22.0v1.0h-22.0zM1013.0 596.7h22.0v1.0h-22.0zM1035.0 597.9h23.0v1.0h-23.0zM1058.0 594.9h23.0v1.0h-23.0zM1058.0 596.7h23.0v1.0h-23.0zM381.7 508.6l0.8-4.4h1.4l0.8 4.4zM426.3 508.6l0.8-4.4h1.4l0.8 4.4zM471.0 508.6l0.8-4.4h1.4l0.8 4.4zM515.6 508.6l0.8-4.4h1.4l0.8 4.4zM761.2 508.6l0.8-4.4h1.4l0.8 4.4zM805.9 508.6l0.8-4.4h1.4l0.8 4.4zM850.5 508.6l0.8-4.4h1.4l0.8 4.4zM895.2 508.6l0.8-4.4h1.4l0.8 4.4zM939.8 508.6l0.8-4.4h1.4l0.8 4.4zM984.5 508.6l0.8-4.4h1.4l0.8 4.4zM1208.1 508.6l0.8-4.4h1.4l0.8 4.4zM1252.8 508.6l0.8-4.4h1.4l0.8 4.4zM1297.5 508.6l0.8-4.4h1.4l0.8 4.4zM1342.1 508.6l0.8-4.4h1.4l0.8 4.4zM1386.8 508.6l0.8-4.4h1.4l0.8 4.4zM1431.4 508.6l0.8-4.4h1.4l0.8 4.4zM1476.1 508.6l0.8-4.4h1.4l0.8 4.4zM1163.5 508.6l0.8-4.4h1.4l0.8 4.4zM560.9 508.6l0.8-4.4h1.4l0.8 4.4zM583.2 508.6l0.8-4.4h1.4l0.8 4.4zM605.6 508.6l0.8-4.4h1.4l0.8 4.4zM627.9 508.6l0.8-4.4h1.4l0.8 4.4zM650.2 508.6l0.8-4.4h1.4l0.8 4.4zM672.6 508.6l0.8-4.4h1.4l0.8 4.4zM694.9 508.6l0.8-4.4h1.4l0.8 4.4z"/>
<path fill-opacity="0.88" d="M343.2 257.4h44.6v1.7h-44.6zM387.8 257.4h44.6v1.7h-44.6zM432.5 257.4h44.6v1.7h-44.6zM477.1 257.4h44.7v1.7h-44.7zM722.7 257.4h44.6v1.7h-44.6zM767.4 257.4h44.6v1.7h-44.6zM812.0 257.4h44.6v1.7h-44.6zM856.7 257.4h44.6v1.7h-44.6zM901.3 257.4h44.6v1.7h-44.6zM946.0 257.4h44.6v1.7h-44.6zM1146.9 257.4h44.7v1.7h-44.7zM1191.5 257.4h44.7v1.7h-44.7zM1236.2 257.4h44.7v1.7h-44.7zM1280.9 257.4h44.7v1.7h-44.7zM1325.5 257.4h44.7v1.7h-44.7zM1370.2 257.4h44.7v1.7h-44.7zM1414.8 257.4h44.7v1.7h-44.7zM1459.5 257.4h22.3v1.7h-22.3zM343.2 467.2h44.6v1.7h-44.6zM387.8 467.2h44.6v1.7h-44.6zM432.5 467.2h44.6v1.7h-44.6zM477.1 467.2h44.7v1.7h-44.7zM722.7 467.2h44.6v1.7h-44.6zM767.4 467.2h44.6v1.7h-44.6zM812.0 467.2h44.6v1.7h-44.6zM856.7 467.2h44.6v1.7h-44.6zM901.3 467.2h44.6v1.7h-44.6zM946.0 467.2h44.6v1.7h-44.6zM1146.9 467.2h44.7v1.7h-44.7zM1191.5 467.2h44.7v1.7h-44.7zM1236.2 467.2h44.7v1.7h-44.7zM1280.9 467.2h44.7v1.7h-44.7zM1325.5 467.2h44.7v1.7h-44.7zM1370.2 467.2h44.7v1.7h-44.7zM1414.8 467.2h44.7v1.7h-44.7zM1459.5 467.2h22.3v1.7h-22.3z"/>
<path fill-opacity="0.90" d="M343.2 429.3h178.6v2.6h-178.6zM722.7 429.3h267.9v2.6h-267.9zM1146.9 429.3h334.9v2.6h-334.9z"/>
<path fill="#9fe0ff" fill-opacity="0.66" d="M80.8 388.9h3.5v1.5h-3.5zM86.5 388.9h3.5v1.5h-3.5zM92.1 388.9h3.5v1.5h-3.5zM103.1 388.9h3.5v1.5h-3.5zM108.8 388.9h3.5v1.5h-3.5zM114.4 388.9h3.5v1.5h-3.5zM125.5 388.9h3.5v1.5h-3.5zM131.2 388.9h3.5v1.5h-3.5zM136.8 388.9h3.5v1.5h-3.5zM147.8 388.9h3.5v1.5h-3.5zM153.5 388.9h3.5v1.5h-3.5zM159.1 388.9h3.5v1.5h-3.5zM170.1 388.9h3.5v1.5h-3.5zM175.8 388.9h3.5v1.5h-3.5zM181.4 388.9h3.5v1.5h-3.5zM192.4 388.9h3.5v1.5h-3.5zM198.1 388.9h3.5v1.5h-3.5zM203.7 388.9h3.5v1.5h-3.5zM214.7 388.9h3.5v1.5h-3.5zM220.4 388.9h3.5v1.5h-3.5zM226.0 388.9h3.5v1.5h-3.5zM237.1 388.9h3.5v1.5h-3.5zM242.8 388.9h3.5v1.5h-3.5zM248.4 388.9h3.5v1.5h-3.5zM259.4 388.9h3.5v1.5h-3.5zM265.1 388.9h3.5v1.5h-3.5zM270.7 388.9h3.5v1.5h-3.5zM281.7 388.9h3.5v1.5h-3.5zM287.4 388.9h3.5v1.5h-3.5zM293.0 388.9h3.0v1.5h-3.0zM348.7 388.9h3.5v1.5h-3.5zM354.4 388.9h3.5v1.5h-3.5zM360.0 388.9h3.5v1.5h-3.5zM371.0 388.9h3.5v1.5h-3.5zM376.7 388.9h3.5v1.5h-3.5zM382.3 388.9h3.5v1.5h-3.5zM393.3 388.9h3.5v1.5h-3.5zM399.0 388.9h3.5v1.5h-3.5zM404.6 388.9h3.5v1.5h-3.5zM415.7 388.9h3.5v1.5h-3.5zM421.4 388.9h3.5v1.5h-3.5zM427.0 388.9h3.5v1.5h-3.5zM438.0 388.9h3.5v1.5h-3.5zM443.7 388.9h3.5v1.5h-3.5zM449.3 388.9h3.5v1.5h-3.5zM460.3 388.9h3.5v1.5h-3.5zM466.0 388.9h3.5v1.5h-3.5zM471.6 388.9h3.5v1.5h-3.5zM482.6 388.9h3.5v1.5h-3.5zM488.3 388.9h3.5v1.5h-3.5zM493.9 388.9h3.5v1.5h-3.5zM505.0 388.9h3.5v1.5h-3.5zM510.7 388.9h3.5v1.5h-3.5zM516.3 388.9h3.0v1.5h-3.0zM549.6 388.9h3.5v1.5h-3.5zM555.3 388.9h3.5v1.5h-3.5zM560.9 388.9h3.5v1.5h-3.5zM572.0 388.9h3.5v1.5h-3.5zM577.7 388.9h3.5v1.5h-3.5zM583.2 388.9h3.5v1.5h-3.5zM594.3 388.9h3.5v1.5h-3.5zM600.0 388.9h3.5v1.5h-3.5zM605.6 388.9h3.5v1.5h-3.5zM616.6 388.9h3.5v1.5h-3.5zM622.3 388.9h3.5v1.5h-3.5zM627.9 388.9h3.5v1.5h-3.5zM638.9 388.9h3.5v1.5h-3.5zM644.6 388.9h3.5v1.5h-3.5zM650.2 388.9h3.5v1.5h-3.5zM661.3 388.9h3.5v1.5h-3.5zM667.0 388.9h3.5v1.5h-3.5zM672.6 388.9h3.5v1.5h-3.5zM683.6 388.9h3.5v1.5h-3.5zM689.3 388.9h3.5v1.5h-3.5zM694.9 388.9h3.5v1.5h-3.5zM705.9 388.9h3.2v1.5h-3.2zM728.2 388.9h3.5v1.5h-3.5zM733.9 388.9h3.5v1.5h-3.5zM739.5 388.9h3.5v1.5h-3.5zM750.5 388.9h3.5v1.5h-3.5zM756.2 388.9h3.5v1.5h-3.5zM761.8 388.9h3.5v1.5h-3.5zM772.9 388.9h3.5v1.5h-3.5zM778.6 388.9h3.5v1.5h-3.5zM784.2 388.9h3.5v1.5h-3.5zM795.2 388.9h3.5v1.5h-3.5zM800.9 388.9h3.5v1.5h-3.5zM806.5 388.9h3.5v1.5h-3.5zM817.5 388.9h3.5v1.5h-3.5zM823.2 388.9h3.5v1.5h-3.5zM828.8 388.9h3.5v1.5h-3.5zM839.9 388.9h3.5v1.5h-3.5zM845.6 388.9h3.5v1.5h-3.5zM851.2 388.9h3.5v1.5h-3.5zM862.2 388.9h3.5v1.5h-3.5zM867.9 388.9h3.5v1.5h-3.5zM873.5 388.9h3.5v1.5h-3.5zM884.5 388.9h3.5v1.5h-3.5zM890.2 388.9h3.5v1.5h-3.5zM895.8 388.9h3.5v1.5h-3.5zM906.8 388.9h3.5v1.5h-3.5zM912.5 388.9h3.5v1.5h-3.5zM918.1 388.9h3.5v1.5h-3.5zM929.2 388.9h3.5v1.5h-3.5zM934.9 388.9h3.5v1.5h-3.5zM940.5 388.9h3.5v1.5h-3.5zM951.5 388.9h3.5v1.5h-3.5zM957.2 388.9h3.5v1.5h-3.5zM962.8 388.9h3.5v1.5h-3.5zM973.8 388.9h3.5v1.5h-3.5zM979.5 388.9h3.5v1.5h-3.5zM985.1 388.9h3.0v1.5h-3.0zM1152.4 388.9h3.5v1.5h-3.5zM1158.1 388.9h3.5v1.5h-3.5zM1163.7 388.9h3.5v1.5h-3.5zM1174.7 388.9h3.5v1.5h-3.5zM1180.4 388.9h3.5v1.5h-3.5zM1186.0 388.9h3.5v1.5h-3.5zM1197.0 388.9h3.5v1.5h-3.5zM1202.8 388.9h3.5v1.5h-3.5zM1208.3 388.9h3.5v1.5h-3.5zM1219.4 388.9h3.5v1.5h-3.5zM1225.1 388.9h3.5v1.5h-3.5zM1230.7 388.9h3.5v1.5h-3.5zM1241.7 388.9h3.5v1.5h-3.5zM1247.4 388.9h3.5v1.5h-3.5zM1253.0 388.9h3.5v1.5h-3.5zM1264.0 388.9h3.5v1.5h-3.5zM1269.7 388.9h3.5v1.5h-3.5zM1275.3 388.9h3.5v1.5h-3.5zM1286.4 388.9h3.5v1.5h-3.5zM1292.1 388.9h3.5v1.5h-3.5zM1297.7 388.9h3.5v1.5h-3.5zM1308.7 388.9h3.5v1.5h-3.5zM1314.4 388.9h3.5v1.5h-3.5zM1320.0 388.9h3.5v1.5h-3.5zM1331.0 388.9h3.5v1.5h-3.5zM1336.7 388.9h3.5v1.5h-3.5zM1342.3 388.9h3.5v1.5h-3.5zM1353.3 388.9h3.5v1.5h-3.5zM1359.0 388.9h3.5v1.5h-3.5zM1364.6 388.9h3.5v1.5h-3.5zM1375.7 388.9h3.5v1.5h-3.5zM1381.4 388.9h3.5v1.5h-3.5zM1387.0 388.9h3.5v1.5h-3.5zM1398.0 388.9h3.5v1.5h-3.5zM1403.7 388.9h3.5v1.5h-3.5zM1409.3 388.9h3.5v1.5h-3.5zM1420.3 388.9h3.5v1.5h-3.5zM1426.0 388.9h3.5v1.5h-3.5zM1431.6 388.9h3.5v1.5h-3.5zM1442.6 388.9h3.5v1.5h-3.5zM1448.3 388.9h3.5v1.5h-3.5zM1453.9 388.9h3.5v1.5h-3.5zM1465.0 388.9h3.5v1.5h-3.5zM1470.7 388.9h3.5v1.5h-3.5zM1476.3 388.9h3.0v1.5h-3.0z"/>
<path fill="#9fe0ff" fill-opacity="0.72" d="M75.6 385.1h3.3v1.5h-3.3zM97.9 385.1h3.3v1.5h-3.3zM120.2 385.1h3.3v1.5h-3.3zM142.6 385.1h3.3v1.5h-3.3zM164.9 385.1h3.3v1.5h-3.3zM187.2 385.1h3.3v1.5h-3.3zM209.5 385.1h3.3v1.5h-3.3zM231.9 385.1h3.3v1.5h-3.3zM254.2 385.1h3.3v1.5h-3.3zM276.5 385.1h3.3v1.5h-3.3zM343.5 385.1h3.3v1.5h-3.3zM365.8 385.1h3.3v1.5h-3.3zM388.1 385.1h3.3v1.5h-3.3zM410.5 385.1h3.3v1.5h-3.3zM432.8 385.1h3.3v1.5h-3.3zM455.1 385.1h3.3v1.5h-3.3zM477.4 385.1h3.3v1.5h-3.3zM499.8 385.1h3.3v1.5h-3.3zM544.4 385.1h3.3v1.5h-3.3zM566.8 385.1h3.3v1.5h-3.3zM589.1 385.1h3.3v1.5h-3.3zM611.4 385.1h3.3v1.5h-3.3zM633.7 385.1h3.3v1.5h-3.3zM656.1 385.1h3.3v1.5h-3.3zM678.4 385.1h3.3v1.5h-3.3zM700.7 385.1h3.3v1.5h-3.3zM723.0 385.1h3.3v1.5h-3.3zM745.3 385.1h3.3v1.5h-3.3zM767.7 385.1h3.3v1.5h-3.3zM790.0 385.1h3.3v1.5h-3.3zM812.3 385.1h3.3v1.5h-3.3zM834.7 385.1h3.3v1.5h-3.3zM857.0 385.1h3.3v1.5h-3.3zM879.3 385.1h3.3v1.5h-3.3zM901.6 385.1h3.3v1.5h-3.3zM924.0 385.1h3.3v1.5h-3.3zM946.3 385.1h3.3v1.5h-3.3zM968.6 385.1h3.3v1.5h-3.3zM1147.2 385.1h3.3v1.5h-3.3zM1169.5 385.1h3.3v1.5h-3.3zM1191.8 385.1h3.3v1.5h-3.3zM1214.2 385.1h3.3v1.5h-3.3zM1236.5 385.1h3.3v1.5h-3.3zM1258.8 385.1h3.3v1.5h-3.3zM1281.2 385.1h3.3v1.5h-3.3zM1303.5 385.1h3.3v1.5h-3.3zM1325.8 385.1h3.3v1.5h-3.3zM1348.1 385.1h3.3v1.5h-3.3zM1370.5 385.1h3.3v1.5h-3.3zM1392.8 385.1h3.3v1.5h-3.3zM1415.1 385.1h3.3v1.5h-3.3zM1437.4 385.1h3.3v1.5h-3.3zM1459.8 385.1h3.3v1.5h-3.3z"/>
</g>
<g shape-rendering="crispEdges">
<rect x="1204" y="105" width="151.2" height="151.1" fill="#fde725"/>
</g>
<path fill="#400268" d="M1209.70 111.00h39.02v5.63h-39.02zM1254.30 111.00h5.58v5.58h-5.58zM1271.03 111.00h11.15v5.58h-11.15zM1287.75 111.00h5.58v5.63h-5.58zM1310.05 111.00h39.02v5.63h-39.02zM1209.70 116.58h5.58v5.63h-5.58zM1243.15 116.58h5.58v5.63h-5.58zM1259.88 116.58h11.15v5.63h-11.15zM1282.17 116.58h11.15v5.63h-11.15zM1310.05 116.58h5.58v5.63h-5.58zM1343.50 116.58h5.58v5.63h-5.58zM1209.70 122.17h5.58v5.63h-5.58zM1220.85 122.17h16.73v5.63h-16.73zM1243.15 122.17h5.58v5.63h-5.58zM1265.45 122.17h5.58v5.58h-5.58zM1276.60 122.17h16.73v5.63h-16.73zM1310.05 122.17h5.58v5.63h-5.58zM1321.20 122.17h16.73v5.63h-16.73zM1343.50 122.17h5.58v5.63h-5.58zM1209.70 127.75h5.58v5.63h-5.58zM1220.85 127.75h16.73v5.63h-16.73zM1243.15 127.75h5.58v5.63h-5.58zM1276.60 127.75h11.15v5.63h-11.15zM1298.90 127.75h5.58v5.63h-5.58zM1310.05 127.75h5.58v5.63h-5.58zM1321.20 127.75h16.73v5.63h-16.73zM1343.50 127.75h5.58v5.63h-5.58zM1209.70 133.34h5.58v5.63h-5.58zM1220.85 133.34h16.73v5.58h-16.73zM1243.15 133.34h5.58v5.63h-5.58zM1259.88 133.34h5.58v5.58h-5.58zM1271.03 133.34h5.58v5.58h-5.58zM1282.17 133.34h11.15v5.63h-11.15zM1298.90 133.34h5.58v5.58h-5.58zM1310.05 133.34h5.58v5.63h-5.58zM1321.20 133.34h16.73v5.58h-16.73zM1343.50 133.34h5.58v5.63h-5.58zM1209.70 138.92h5.58v5.63h-5.58zM1243.15 138.92h5.58v5.63h-5.58zM1265.45 138.92h5.58v5.63h-5.58zM1276.60 138.92h5.58v5.63h-5.58zM1287.75 138.92h5.58v5.63h-5.58zM1310.05 138.92h5.58v5.63h-5.58zM1343.50 138.92h5.58v5.63h-5.58zM1209.70 144.50h39.02v5.58h-39.02zM1254.30 144.50h5.58v5.63h-5.58zM1265.45 144.50h5.58v5.63h-5.58zM1276.60 144.50h5.58v5.58h-5.58zM1287.75 144.50h5.58v5.63h-5.58zM1298.90 144.50h5.58v5.58h-5.58zM1310.05 144.50h39.02v5.58h-39.02zM1254.30 150.09h5.58v5.58h-5.58zM1265.45 150.09h11.15v5.63h-11.15zM1282.17 150.09h11.15v5.63h-11.15zM1209.70 155.67h11.15v5.63h-11.15zM1226.42 155.67h11.15v5.58h-11.15zM1243.15 155.67h5.58v5.58h-5.58zM1259.88 155.67h16.73v5.63h-16.73zM1287.75 155.67h5.58v5.63h-5.58zM1298.90 155.67h5.58v5.58h-5.58zM1310.05 155.67h5.58v5.58h-5.58zM1343.50 155.67h5.58v5.58h-5.58zM1209.70 161.26h16.73v5.63h-16.73zM1237.58 161.26h5.58v5.58h-5.58zM1259.88 161.26h5.58v5.58h-5.58zM1276.60 161.26h5.58v5.58h-5.58zM1287.75 161.26h11.15v5.63h-11.15zM1304.48 161.26h5.58v5.58h-5.58zM1315.62 161.26h27.88v5.63h-27.88zM1209.70 166.84h11.15v5.63h-11.15zM1232.00 166.84h5.58v5.63h-5.58zM1243.15 166.84h11.15v5.58h-11.15zM1265.45 166.84h11.15v5.63h-11.15zM1293.33 166.84h5.58v5.58h-5.58zM1310.05 166.84h11.15v5.63h-11.15zM1326.78 166.84h5.58v5.63h-5.58zM1343.50 166.84h5.58v5.63h-5.58zM1209.70 172.42h5.58v5.63h-5.58zM1226.42 172.42h11.15v5.63h-11.15zM1259.88 172.42h22.30v5.63h-22.30zM1287.75 172.42h5.58v5.58h-5.58zM1315.62 172.42h5.58v5.58h-5.58zM1326.78 172.42h22.30v5.63h-22.30zM1209.70 178.01h5.58v5.63h-5.58zM1226.42 178.01h5.58v5.58h-5.58zM1237.58 178.01h27.88v5.63h-27.88zM1271.03 178.01h11.15v5.58h-11.15zM1293.33 178.01h11.15v5.63h-11.15zM1310.05 178.01h5.58v5.58h-5.58zM1343.50 178.01h5.58v5.58h-5.58zM1209.70 183.59h11.15v5.63h-11.15zM1232.00 183.59h5.58v5.63h-5.58zM1254.30 183.59h11.15v5.63h-11.15zM1282.17 183.59h5.58v5.58h-5.58zM1293.33 183.59h16.73v5.63h-16.73zM1321.20 183.59h5.58v5.63h-5.58zM1337.92 183.59h5.58v5.63h-5.58zM1209.70 189.18h27.88v5.63h-27.88zM1243.15 189.18h16.73v5.63h-16.73zM1271.03 189.18h11.15v5.63h-11.15zM1293.33 189.18h5.58v5.58h-5.58zM1304.48 189.18h11.15v5.63h-11.15zM1321.20 189.18h27.88v5.63h-27.88zM1209.70 194.76h5.58v5.63h-5.58zM1220.85 194.76h5.58v5.58h-5.58zM1232.00 194.76h11.15v5.58h-11.15zM1248.73 194.76h16.73v5.63h-16.73zM1271.03 194.76h5.58v5.58h-5.58zM1298.90 194.76h11.15v5.63h-11.15zM1315.62 194.76h5.58v5.63h-5.58zM1326.78 194.76h11.15v5.63h-11.15zM1343.50 194.76h5.58v5.58h-5.58zM1209.70 200.34h5.58v5.58h-5.58zM1243.15 200.34h11.15v5.58h-11.15zM1259.88 200.34h5.58v5.63h-5.58zM1276.60 200.34h16.73v5.63h-16.73zM1298.90 200.34h27.88v5.63h-27.88zM1332.35 200.34h11.15v5.63h-11.15zM1254.30 205.93h11.15v5.58h-11.15zM1271.03 205.93h16.73v5.63h-16.73zM1298.90 205.93h5.58v5.63h-5.58zM1321.20 205.93h5.58v5.63h-5.58zM1332.35 205.93h11.15v5.58h-11.15zM1209.70 211.51h39.02v5.63h-39.02zM1271.03 211.51h5.58v5.58h-5.58zM1298.90 211.51h5.58v5.63h-5.58zM1310.05 211.51h5.58v5.58h-5.58zM1321.20 211.51h5.58v5.63h-5.58zM1343.50 211.51h5.58v5.63h-5.58zM1209.70 217.10h5.58v5.63h-5.58zM1243.15 217.10h5.58v5.63h-5.58zM1259.88 217.10h5.58v5.63h-5.58zM1282.17 217.10h22.30v5.63h-22.30zM1321.20 217.10h5.58v5.63h-5.58zM1337.92 217.10h11.15v5.58h-11.15zM1209.70 222.68h5.58v5.63h-5.58zM1220.85 222.68h16.73v5.63h-16.73zM1243.15 222.68h5.58v5.63h-5.58zM1254.30 222.68h11.15v5.63h-11.15zM1271.03 222.68h11.15v5.63h-11.15zM1287.75 222.68h39.02v5.63h-39.02zM1209.70 228.26h5.58v5.63h-5.58zM1220.85 228.26h16.73v5.63h-16.73zM1243.15 228.26h5.58v5.63h-5.58zM1254.30 228.26h22.30v5.63h-22.30zM1287.75 228.26h16.73v5.63h-16.73zM1310.05 228.26h5.58v5.58h-5.58zM1337.92 228.26h11.15v5.63h-11.15zM1209.70 233.85h5.58v5.63h-5.58zM1220.85 233.85h16.73v5.58h-16.73zM1243.15 233.85h5.58v5.63h-5.58zM1271.03 233.85h5.58v5.58h-5.58zM1282.17 233.85h11.15v5.63h-11.15zM1298.90 233.85h11.15v5.58h-11.15zM1321.20 233.85h27.88v5.63h-27.88zM1209.70 239.43h5.58v5.63h-5.58zM1243.15 239.43h5.58v5.63h-5.58zM1254.30 239.43h11.15v5.63h-11.15zM1287.75 239.43h5.58v5.58h-5.58zM1315.62 239.43h11.15v5.58h-11.15zM1332.35 239.43h16.73v5.63h-16.73zM1209.70 245.02h39.02v5.58h-39.02zM1254.30 245.02h16.73v5.58h-16.73zM1276.60 245.02h5.58v5.58h-5.58zM1298.90 245.02h11.15v5.58h-11.15zM1326.78 245.02h5.58v5.58h-5.58zM1343.50 245.02h5.58v5.58h-5.58z"/>
<g shape-rendering="crispEdges" fill="#fff">
<rect x="30.5" y="695" width="1.6" height="7"/>
<rect x="228.1" y="695" width="1.6" height="7"/>
<rect x="425.7" y="695" width="1.6" height="7"/>
<rect x="623.3" y="695" width="1.6" height="7"/>
<rect x="820.9" y="695" width="1.6" height="7"/>
<rect x="1018.5" y="695" width="1.6" height="7"/>
<rect x="1216.1" y="695" width="1.6" height="7"/>
<rect x="1413.7" y="695" width="1.6" height="7"/>
</g>
<text class="tick" transform="translate(31.5 721.6) scale(0.942 1)">0.0s</text>
<text class="tick" transform="translate(229.1 721.6) scale(0.942 1)">25.0s</text>
<text class="tick" transform="translate(426.7 721.6) scale(0.942 1)">50.0s</text>
<text class="tick" transform="translate(624.3 721.6) scale(0.942 1)">75.0s</text>
<text class="tick" transform="translate(821.9 721.6) scale(0.942 1)">100.0s</text>
<text class="tick" transform="translate(1019.5 721.6) scale(0.942 1)">125.0s</text>
<text class="tick" transform="translate(1217.1 721.6) scale(0.942 1)">150.0s</text>
<text class="tick" transform="translate(1414.7 721.6) scale(0.942 1)">175.0s</text>
<text class="lbl" transform="translate(60.2 31.4) scale(0.967 1)">Bright</text>
<text class="lbl" transform="translate(60.2 73.4) scale(0.967 1)">FngrBass</text>
<text class="lbl" transform="translate(60.2 115.4) scale(0.967 1)">SteelGtr</text>
<text class="lbl" transform="translate(60.2 157.4) scale(0.967 1)">AltoSax</text>
<text class="lbl" transform="translate(60.2 199.4) scale(0.967 1)">OohChoir</text>
<text class="lbl" transform="translate(60.2 241.4) scale(0.967 1)">SteelGtr</text>
<text class="lbl" transform="translate(60.2 283.4) scale(0.967 1)">NylonGtr</text>
<text class="lbl" transform="translate(60.2 325.4) scale(0.967 1)">RevCymbl</text>
<text class="lbl" transform="translate(60.2 367.4) scale(0.967 1)">TaikoDrm</text>
<text class="lbl" transform="translate(60.2 409.4) scale(0.967 1)">GM Drums</text>
<text class="lbl" transform="translate(60.2 451.4) scale(0.967 1)">GrandPno</text>
<text class="lbl" transform="translate(60.2 493.4) scale(0.967 1)">ElPiano1</text>
<text class="lbl" transform="translate(60.2 535.4) scale(0.967 1)">SynStrg1</text>
<text class="lbl" transform="translate(60.2 577.4) scale(0.967 1)">JazzGtr</text>
<text class="lbl" transform="translate(60.2 619.4) scale(0.967 1)">BritePno</text>
<text class="lbl" transform="translate(60.2 661.4) scale(0.967 1)">GrandPno</text>
<text class="copy" x="24" y="741">© www.midifiles.com</text>
<g>
<rect x="599" y="711" width="302" height="29" fill="#242424"/>
<rect x="609" y="712.5" width="52" height="26" rx="3" fill="#111" stroke="#000" stroke-width="1.5"/>
<rect x="669.5" y="712.5" width="52" height="26" rx="3" fill="#111" stroke="#000" stroke-width="1.5"/>
<rect x="731" y="712" width="51" height="27" fill="#333"/>
<rect x="790.5" y="712" width="52" height="27" fill="#1f5a1f"/>
<rect x="852" y="712" width="49" height="27" fill="#4a2222"/>
<rect x="745" y="719" width="23" height="13" fill="#888"/>
<path d="M809.3 718.3 L838.3 725.5 L809.3 732.6 Z" fill="#5fd35f"/>
<ellipse cx="877" cy="725.6" rx="11.8" ry="6.5" fill="#e03434"/>
<polygon fill="#fff" points="609.0,724.0 613.0,724.0 619.6,718.8 622.0,721.4 620.6,723.1 622.3,725.5 620.6,728.0 622.0,729.7 619.6,732.3 613.0,727.1 609.0,727.1"/>
<polygon fill="#fff" points="624.2,724.0 628.2,724.0 634.8,718.8 637.2,721.4 635.8,723.1 637.5,725.5 635.8,728.0 637.2,729.7 634.8,732.3 628.2,727.1 624.2,727.1"/>
<polygon fill="#fff" points="691.1,724.0 687.1,724.0 680.5,718.8 678.1,721.4 679.5,723.1 677.8,725.5 679.5,728.0 678.1,729.7 680.5,732.3 687.1,727.1 691.1,727.1"/>
<polygon fill="#fff" points="706.3,724.0 702.3,724.0 695.7,718.8 693.3,721.4 694.7,723.1 693.0,725.5 694.7,728.0 693.3,729.7 695.7,732.3 702.3,727.1 706.3,727.1"/>
</g>
</svg>
</body></html>
